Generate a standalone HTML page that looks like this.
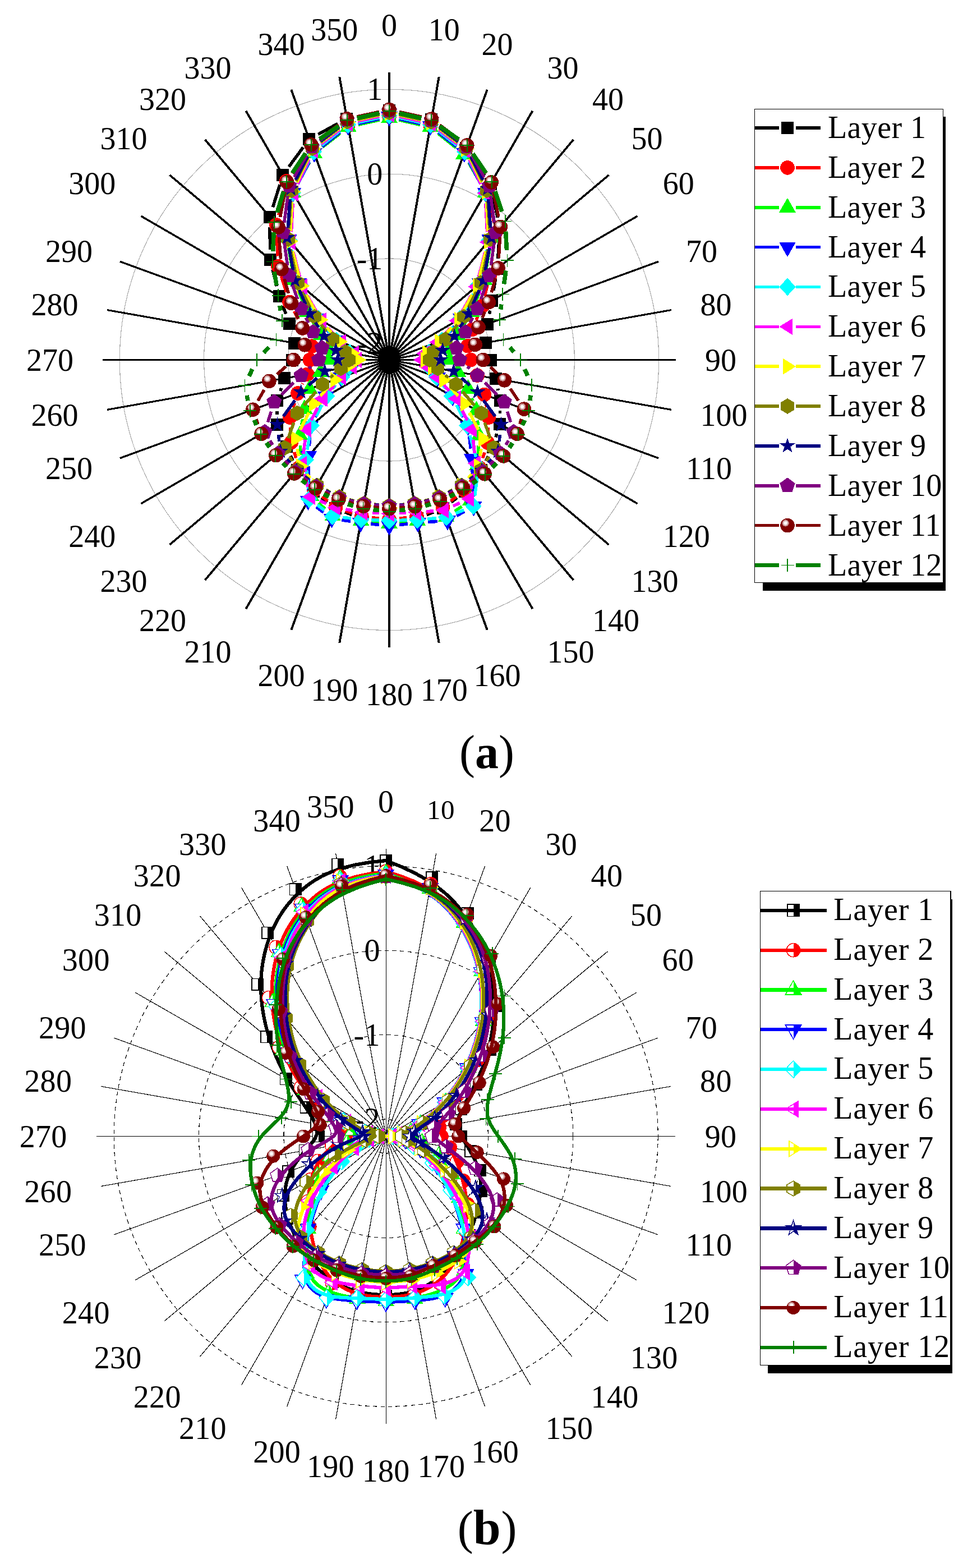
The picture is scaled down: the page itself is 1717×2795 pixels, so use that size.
<!DOCTYPE html>
<html lang="en"><head><meta charset="utf-8"><title>Polar plots</title>
<style>html,body{margin:0;padding:0;background:#fff}body{width:1717px;height:2795px;overflow:hidden}svg{display:block}text{font-family:'Liberation Serif', serif;fill:#000}</style></head><body>
<svg width="1717" height="2795" viewBox="0 0 1717 2795" shape-rendering="crispEdges">
<rect width="1717" height="2795" fill="#fff"/>
<g id="chart-a">
<g fill="none" stroke="#acacac" stroke-width="1.2">
<ellipse cx="694.0" cy="641.45" rx="180.2" ry="180.7"/>
<ellipse cx="694.0" cy="641.45" rx="330.4" ry="331.4"/>
<ellipse cx="694.0" cy="641.45" rx="480.7" ry="482.1"/>
</g>
<g font-size="56" text-anchor="end">
<text x="682.3" y="178.3">1</text>
<text x="682.3" y="329.1">0</text>
<text x="682.3" y="479.8">-1</text>
<text x="682.3" y="630.5">-2</text>
</g>
<g stroke="#000" fill="none">
<path d="M694.0 641.45L694 129" stroke-width="4.00"/>
<path d="M694.0 641.45L782.7 136.8" stroke-width="3.98"/>
<path d="M694.0 641.45L868.7 159.9" stroke-width="3.94"/>
<path d="M694.0 641.45L949.5 197.7" stroke-width="3.87"/>
<path d="M694.0 641.45L1022.4 248.9" stroke-width="3.77"/>
<path d="M694.0 641.45L1085.4 312.1" stroke-width="3.64"/>
<path d="M694.0 641.45L1136.5 385.2" stroke-width="3.50"/>
<path d="M694.0 641.45L1174.1 466.2" stroke-width="3.34"/>
<path d="M694.0 641.45L1197.2 552.5" stroke-width="3.17"/>
<path d="M694.0 641.45L1204.9 641.5" stroke-width="3.00"/>
<path d="M694.0 641.45L1197.2 730.4" stroke-width="3.17"/>
<path d="M694.0 641.45L1174.1 816.7" stroke-width="3.34"/>
<path d="M694.0 641.45L1136.5 897.7" stroke-width="3.50"/>
<path d="M694.0 641.45L1085.4 970.8" stroke-width="3.64"/>
<path d="M694.0 641.45L1022.4 1034" stroke-width="3.77"/>
<path d="M694.0 641.45L949.5 1085.2" stroke-width="3.87"/>
<path d="M694.0 641.45L868.7 1123" stroke-width="3.94"/>
<path d="M694.0 641.45L782.7 1146.1" stroke-width="3.98"/>
<path d="M694.0 641.45L694 1153.9" stroke-width="4.00"/>
<path d="M694.0 641.45L605.3 1146.1" stroke-width="3.98"/>
<path d="M694.0 641.45L519.3 1123" stroke-width="3.94"/>
<path d="M694.0 641.45L438.5 1085.2" stroke-width="3.87"/>
<path d="M694.0 641.45L365.6 1034" stroke-width="3.77"/>
<path d="M694.0 641.45L302.6 970.8" stroke-width="3.64"/>
<path d="M694.0 641.45L251.5 897.7" stroke-width="3.50"/>
<path d="M694.0 641.45L213.9 816.7" stroke-width="3.34"/>
<path d="M694.0 641.45L190.8 730.4" stroke-width="3.17"/>
<path d="M694.0 641.45L183.1 641.5" stroke-width="3.00"/>
<path d="M694.0 641.45L190.8 552.5" stroke-width="3.17"/>
<path d="M694.0 641.45L213.9 466.2" stroke-width="3.34"/>
<path d="M694.0 641.45L251.5 385.2" stroke-width="3.50"/>
<path d="M694.0 641.45L302.6 312.1" stroke-width="3.64"/>
<path d="M694.0 641.45L365.6 248.9" stroke-width="3.77"/>
<path d="M694.0 641.45L438.5 197.7" stroke-width="3.87"/>
<path d="M694.0 641.45L519.3 159.9" stroke-width="3.94"/>
<path d="M694.0 641.45L605.3 136.8" stroke-width="3.98"/>
</g>
<circle cx="694.0" cy="641.45" r="20" fill="#000"/>
<path d="M711.8 200.4L751.5 209.1M783.4 224.6L817 252.2M841.3 278.8L864.3 312.9M878.3 345.7L887.3 388M890 424L887.8 461.1M883.6 497.2L880 517.6M873.6 553.5L872.5 559.6M887.5 692.8L888.2 696M891.6 731.9L891.4 737.3M885.8 773L883.9 779.5M870.7 813.3L866.5 821.7M847.3 852.4L840.2 861.7M814.7 887.3L804.5 895.3M773.1 912.9L760.7 917.6M725.6 926L712.1 927.5M675.9 927.5L662.4 926M627.3 917.6L614.9 912.9M583.5 895.3L573.3 887.3M547.8 861.7L540.7 852.4M522.2 821.3L518.1 812.3M503.5 779L501.3 773.9M494.2 739L494.2 732.6M500 697.1L501.7 691.7M509.7 559.5L504.2 544.8M493.4 510.1L486 480.4M481.5 444.6L481.1 405M486.4 369.4L498.9 329.2M515.1 297.2L540.5 262.7M567.3 239.4L602.4 220.3M636.3 208L676.2 200" stroke="#000000" stroke-width="5.6" fill="none"/>
<polygon points="683,185.5 705,185.5 705,207.5 683,207.5" fill="#000000"/>
<polygon points="758.3,202.1 780.3,202.1 780.3,224.1 758.3,224.1" fill="#000000"/>
<polygon points="820.1,252.7 842.1,252.7 842.1,274.7 820.1,274.7" fill="#000000"/>
<polygon points="863.5,316.9 885.5,316.9 885.5,338.9 863.5,338.9" fill="#000000"/>
<polygon points="880.1,394.8 902.1,394.8 902.1,416.8 880.1,416.8" fill="#000000"/>
<polygon points="875.7,468.3 897.7,468.3 897.7,490.3 875.7,490.3" fill="#000000"/>
<polygon points="865.9,524.5 887.9,524.5 887.9,546.5 865.9,546.5" fill="#000000"/>
<polygon points="858.2,566.5 880.2,566.5 880.2,588.5 858.2,588.5" fill="#000000"/>
<polygon points="854.7,600.1 876.7,600.1 876.7,622.1 854.7,622.1" fill="#000000"/>
<polygon points="864.1,630.5 886.1,630.5 886.1,652.5 864.1,652.5" fill="#000000"/>
<polygon points="872.6,664 894.6,664 894.6,686 872.6,686" fill="#000000"/>
<polygon points="881.1,702.8 903.1,702.8 903.1,724.8 881.1,724.8" fill="#000000"/>
<polygon points="879.9,744.5 901.9,744.5 901.9,766.5 879.9,766.5" fill="#000000"/>
<polygon points="867.8,786 889.8,786 889.8,808 867.8,808" fill="#000000"/>
<polygon points="847.4,826.9 869.4,826.9 869.4,848.9 847.4,848.9" fill="#000000"/>
<polygon points="818.1,865.1 840.1,865.1 840.1,887.1 818.1,887.1" fill="#000000"/>
<polygon points="779.2,895.4 801.2,895.4 801.2,917.4 779.2,917.4" fill="#000000"/>
<polygon points="732.7,913.1 754.7,913.1 754.7,935.1 732.7,935.1" fill="#000000"/>
<polygon points="683,918.5 705,918.5 705,940.5 683,940.5" fill="#000000"/>
<polygon points="633.3,913.1 655.3,913.1 655.3,935.1 633.3,935.1" fill="#000000"/>
<polygon points="586.8,895.4 608.8,895.4 608.8,917.4 586.8,917.4" fill="#000000"/>
<polygon points="547.9,865.1 569.9,865.1 569.9,887.1 547.9,887.1" fill="#000000"/>
<polygon points="518.6,826.9 540.6,826.9 540.6,848.9 518.6,848.9" fill="#000000"/>
<polygon points="499.7,784.7 521.7,784.7 521.7,806.7 499.7,806.7" fill="#000000"/>
<polygon points="483.1,746.2 505.1,746.2 505.1,768.2 483.1,768.2" fill="#000000"/>
<polygon points="483.3,703.4 505.3,703.4 505.3,725.4 483.3,725.4" fill="#000000"/>
<polygon points="496.4,663.4 518.4,663.4 518.4,685.4 496.4,685.4" fill="#000000"/>
<polygon points="509.5,630.5 531.5,630.5 531.5,652.5 509.5,652.5" fill="#000000"/>
<polygon points="513.8,600.5 535.8,600.5 535.8,622.5 513.8,622.5" fill="#000000"/>
<polygon points="505.1,565.5 527.1,565.5 527.1,587.5 505.1,587.5" fill="#000000"/>
<polygon points="486.7,516.8 508.7,516.8 508.7,538.8 486.7,538.8" fill="#000000"/>
<polygon points="470.7,451.8 492.7,451.8 492.7,473.8 470.7,473.8" fill="#000000"/>
<polygon points="470,375.8 492,375.8 492,397.8 470,397.8" fill="#000000"/>
<polygon points="493.3,300.8 515.3,300.8 515.3,322.8 493.3,322.8" fill="#000000"/>
<polygon points="540.3,237.1 562.3,237.1 562.3,259.1 540.3,259.1" fill="#000000"/>
<polygon points="607.4,200.6 629.4,200.6 629.4,222.6 607.4,222.6" fill="#000000"/>
<path d="M711.8 211.4L749.6 219.9M782.2 234.5L814.6 257.8M839.5 283.5L861.9 317.1M874.4 350.3L880.6 397.4M880.7 433.5L875.8 472.3M869.1 508.1L864.2 527.8M852.7 562.2L849.1 570.6M866.9 721.2L867.9 726.2M870.6 762.3L870.2 771M863.9 806.5L860.6 816.6M844.8 849L838.1 859M813.5 885.2L803.7 893M772.2 910.3L760.2 914.6M725 922.7L712.1 924.1M675.9 924.1L663 922.7M627.8 914.6L615.8 910.3M584.3 893L574.5 885.2M549.9 859L543.2 849M527.7 816.5L524.5 805.9M518.3 770.3L517.9 762.1M522.6 726.6L525.4 718.3M539.2 684.7L539.9 683.5M531.3 568.7L524.3 554.7M510.6 521.1L501.4 492.1M495.1 456.5L493.5 419.1M496.8 383.2L506.5 340.5M520.8 307.7L544.6 273.1M571 249.6L604.4 232.1M638.3 219.8L676.2 211.4" stroke="#ff0000" stroke-width="5.6" fill="none"/>
<circle cx="694" cy="207.5" r="12.8" fill="#ff0000"/>
<circle cx="767.4" cy="223.9" r="12.8" fill="#ff0000"/>
<circle cx="829.4" cy="268.4" r="12.8" fill="#ff0000"/>
<circle cx="872" cy="332.3" r="12.8" fill="#ff0000"/>
<circle cx="883.1" cy="415.5" r="12.8" fill="#ff0000"/>
<circle cx="873.5" cy="490.4" r="12.8" fill="#ff0000"/>
<circle cx="859.8" cy="545.5" r="12.8" fill="#ff0000"/>
<circle cx="842" cy="587.4" r="12.8" fill="#ff0000"/>
<circle cx="834.1" cy="616.7" r="12.8" fill="#ff0000"/>
<circle cx="839.5" cy="641.5" r="12.8" fill="#ff0000"/>
<circle cx="851.1" cy="669.2" r="12.8" fill="#ff0000"/>
<circle cx="863.6" cy="703.4" r="12.8" fill="#ff0000"/>
<circle cx="871.3" cy="744.1" r="12.8" fill="#ff0000"/>
<circle cx="869.5" cy="789.2" r="12.8" fill="#ff0000"/>
<circle cx="855" cy="833.9" r="12.8" fill="#ff0000"/>
<circle cx="827.9" cy="874" r="12.8" fill="#ff0000"/>
<circle cx="789.3" cy="904.2" r="12.8" fill="#ff0000"/>
<circle cx="743.1" cy="920.7" r="12.8" fill="#ff0000"/>
<circle cx="694" cy="926.1" r="12.8" fill="#ff0000"/>
<circle cx="644.9" cy="920.7" r="12.8" fill="#ff0000"/>
<circle cx="598.7" cy="904.2" r="12.8" fill="#ff0000"/>
<circle cx="560.1" cy="874" r="12.8" fill="#ff0000"/>
<circle cx="533" cy="833.9" r="12.8" fill="#ff0000"/>
<circle cx="519.3" cy="788.5" r="12.8" fill="#ff0000"/>
<circle cx="517" cy="744" r="12.8" fill="#ff0000"/>
<circle cx="531" cy="701" r="12.8" fill="#ff0000"/>
<circle cx="548.1" cy="667.3" r="12.8" fill="#ff0000"/>
<circle cx="552.4" cy="641.5" r="12.8" fill="#ff0000"/>
<circle cx="556" cy="617.1" r="12.8" fill="#ff0000"/>
<circle cx="539.4" cy="585" r="12.8" fill="#ff0000"/>
<circle cx="516.1" cy="538.5" r="12.8" fill="#ff0000"/>
<circle cx="495.9" cy="474.7" r="12.8" fill="#ff0000"/>
<circle cx="492.8" cy="400.9" r="12.8" fill="#ff0000"/>
<circle cx="510.6" cy="322.8" r="12.8" fill="#ff0000"/>
<circle cx="554.9" cy="258.1" r="12.8" fill="#ff0000"/>
<circle cx="620.6" cy="223.7" r="12.8" fill="#ff0000"/>
<path d="M711.8 214L749.2 222.5M781.1 237.9L812.9 263.4M836.1 290.6L856.9 326.9M868.4 360.7L874.3 405.1M873.5 441.1L866.7 480.8M856.9 515.7L847.5 539.5M831.2 571.9L825.3 581.5M841.1 709.7L842.9 714.5M851.4 749.5L852.4 758.3M853.2 794.6L852.2 811M847.5 847L842.1 874.7M823.5 902.8L810.7 911.3M777.6 923.8L762.4 925.7M726.3 929.8L712.1 931.2M675.9 931.2L661.7 929.8M625.7 925L611 922.6M579.7 907.3L567.8 896.3M548.9 866.6L542.5 846.5M536.2 810.9L535.4 793.8M537.8 757.7L539.7 746.9M562.7 581.5L556.8 571.9M540.5 539.5L531.1 515.7M521.3 480.8L514.5 441.1M513.7 405.1L519.6 360.7M530.9 326.8L551.6 289.5M574.8 262.3L606.7 237.5M638.8 222.3L676.2 214" stroke="#00ff00" stroke-width="5.6" fill="none"/>
<polygon points="694,193.1 708.8,218.9 679.2,218.9" fill="#00ff00"/>
<polygon points="767,209.5 781.8,235.3 752.2,235.3" fill="#00ff00"/>
<polygon points="827.1,257.8 841.9,283.6 812.3,283.6" fill="#00ff00"/>
<polygon points="866,325.7 880.8,351.5 851.2,351.5" fill="#00ff00"/>
<polygon points="876.6,406.1 891.4,431.9 861.8,431.9" fill="#00ff00"/>
<polygon points="863.6,481.8 878.4,507.6 848.8,507.6" fill="#00ff00"/>
<polygon points="840.8,539.5 855.6,565.2 826,565.2" fill="#00ff00"/>
<polygon points="815.8,580 830.6,605.8 801,605.8" fill="#00ff00"/>
<polygon points="802,605.3 816.8,631.1 787.2,631.1" fill="#00ff00"/>
<polygon points="801.7,624.5 816.5,650.2 786.9,650.2" fill="#00ff00"/>
<polygon points="816.7,646.2 831.5,672 801.9,672" fill="#00ff00"/>
<polygon points="834.5,675.8 849.3,701.6 819.7,701.6" fill="#00ff00"/>
<polygon points="849.4,714.5 864.2,740.2 834.6,740.2" fill="#00ff00"/>
<polygon points="854.4,759.4 869.2,785.2 839.6,785.2" fill="#00ff00"/>
<polygon points="851,812.1 865.8,837.9 836.2,837.9" fill="#00ff00"/>
<polygon points="838.6,875.6 853.4,901.4 823.8,901.4" fill="#00ff00"/>
<polygon points="795.6,904.5 810.4,930.3 780.8,930.3" fill="#00ff00"/>
<polygon points="744.4,911 759.2,936.8 729.6,936.8" fill="#00ff00"/>
<polygon points="694,916 708.8,941.8 679.2,941.8" fill="#00ff00"/>
<polygon points="643.6,911 658.4,936.8 628.8,936.8" fill="#00ff00"/>
<polygon points="593.1,902.6 607.9,928.4 578.3,928.4" fill="#00ff00"/>
<polygon points="554.4,866.9 569.2,892.7 539.6,892.7" fill="#00ff00"/>
<polygon points="537,812.1 551.8,837.9 522.2,837.9" fill="#00ff00"/>
<polygon points="534.6,758.6 549.4,784.4 519.8,784.4" fill="#00ff00"/>
<polygon points="542.9,712 557.7,737.8 528.1,737.8" fill="#00ff00"/>
<polygon points="552,676.3 566.8,702.1 537.2,702.1" fill="#00ff00"/>
<polygon points="571.3,646.2 586.1,672 556.5,672" fill="#00ff00"/>
<polygon points="586.3,624.5 601.1,650.2 571.5,650.2" fill="#00ff00"/>
<polygon points="586,605.3 600.8,631.1 571.2,631.1" fill="#00ff00"/>
<polygon points="572.2,580 587,605.8 557.4,605.8" fill="#00ff00"/>
<polygon points="547.2,539.5 562,565.2 532.4,565.2" fill="#00ff00"/>
<polygon points="524.4,481.8 539.2,507.6 509.6,507.6" fill="#00ff00"/>
<polygon points="511.4,406.1 526.2,431.9 496.6,431.9" fill="#00ff00"/>
<polygon points="522,325.7 536.8,351.5 507.2,351.5" fill="#00ff00"/>
<polygon points="560.5,256.6 575.3,282.4 545.7,282.4" fill="#00ff00"/>
<polygon points="621,209.3 635.8,235.1 606.2,235.1" fill="#00ff00"/>
<path d="M711.8 212L749.5 220.5M781.5 235.8L813.6 261.3M836.4 288.7L857 327.5M867.2 361.7L871.7 408.8M869.5 444.7L859.9 487.4M847.2 521.1L830.5 551.5M810.2 581.5L801.1 592.5M791.5 687.2L795.8 692.7M815.5 723.1L826.1 743.6M836.7 777.8L839.3 799.6M842.1 835.8L843.9 884.8M828.5 911.6L814 919.4M779.9 929.4L763.2 930.6M727 933.9L712.1 935.5M675.9 935.5L661 933.9M624.9 929.3L609.4 927M576.8 913.3L564 903.6M549.7 874.4L550.2 831.2M551.5 794.9L552.4 777.9M561.9 743.6L572.5 723.1M592.2 692.7L596.5 687.2M586.9 592.5L577.8 581.5M557.5 551.5L540.8 521.1M528.1 487.4L518.5 444.7M516.3 408.8L520.8 361.7M531 327.5L551.6 288.7M574.4 261.3L606.4 235.6M638.4 220.4L676.2 212" stroke="#0000ff" stroke-width="5.6" fill="none"/>
<polygon points="694,225.5 679.2,199.3 708.8,199.3" fill="#0000ff"/>
<polygon points="767.3,241.9 752.5,215.7 782.1,215.7" fill="#0000ff"/>
<polygon points="827.8,290 813,263.8 842.6,263.8" fill="#0000ff"/>
<polygon points="865.5,360.9 850.7,334.7 880.3,334.7" fill="#0000ff"/>
<polygon points="873.4,444.4 858.6,418.2 888.2,418.2" fill="#0000ff"/>
<polygon points="855.9,522.6 841.1,496.4 870.7,496.4" fill="#0000ff"/>
<polygon points="821.8,584.9 807,558.7 836.6,558.7" fill="#0000ff"/>
<polygon points="789.6,624 774.8,597.8 804.4,597.8" fill="#0000ff"/>
<polygon points="766.7,646 751.9,619.8 781.5,619.8" fill="#0000ff"/>
<polygon points="761.8,658.9 747,632.7 776.6,632.7" fill="#0000ff"/>
<polygon points="766.7,671.7 751.9,645.5 781.5,645.5" fill="#0000ff"/>
<polygon points="780.2,690.3 765.4,664.1 795,664.1" fill="#0000ff"/>
<polygon points="807.1,724.4 792.3,698.2 821.9,698.2" fill="#0000ff"/>
<polygon points="834.5,777.1 819.7,750.9 849.3,750.9" fill="#0000ff"/>
<polygon points="841.4,835 826.6,808.8 856.2,808.8" fill="#0000ff"/>
<polygon points="844.5,920.4 829.7,894.2 859.3,894.2" fill="#0000ff"/>
<polygon points="798,945.5 783.2,919.3 812.8,919.3" fill="#0000ff"/>
<polygon points="745.1,949.4 730.3,923.2 759.9,923.2" fill="#0000ff"/>
<polygon points="694,954.9 679.2,928.7 708.8,928.7" fill="#0000ff"/>
<polygon points="642.9,949.4 628.1,923.2 657.7,923.2" fill="#0000ff"/>
<polygon points="591.4,941.7 576.6,915.5 606.2,915.5" fill="#0000ff"/>
<polygon points="549.4,910 534.6,883.8 564.2,883.8" fill="#0000ff"/>
<polygon points="550.4,830.4 535.6,804.2 565.2,804.2" fill="#0000ff"/>
<polygon points="553.5,777.1 538.7,750.9 568.3,750.9" fill="#0000ff"/>
<polygon points="580.9,724.4 566.1,698.2 595.7,698.2" fill="#0000ff"/>
<polygon points="607.8,690.3 593,664.1 622.6,664.1" fill="#0000ff"/>
<polygon points="621.3,671.7 606.5,645.5 636.1,645.5" fill="#0000ff"/>
<polygon points="626.2,658.9 611.4,632.7 641,632.7" fill="#0000ff"/>
<polygon points="621.3,646 606.5,619.8 636.1,619.8" fill="#0000ff"/>
<polygon points="598.4,624 583.6,597.8 613.2,597.8" fill="#0000ff"/>
<polygon points="566.2,584.9 551.4,558.7 581,558.7" fill="#0000ff"/>
<polygon points="532.1,522.6 517.3,496.4 546.9,496.4" fill="#0000ff"/>
<polygon points="514.6,444.4 499.8,418.2 529.4,418.2" fill="#0000ff"/>
<polygon points="522.5,360.9 507.7,334.7 537.3,334.7" fill="#0000ff"/>
<polygon points="560.2,290 545.4,263.8 575,263.8" fill="#0000ff"/>
<polygon points="620.7,241.7 605.9,215.5 635.5,215.5" fill="#0000ff"/>
<path d="M711.8 209.9L749.9 218.4M782 233.7L814.4 259.1M836.8 286.6L857.3 327.3M866.9 361.7L870.7 410.3M867.9 446.2L857.2 490.1M844.2 523.8L828.7 552.4M808.4 582.4L799.3 593.3M789.7 686.4L794 691.8M813.9 722.1L824.5 742.3M837.9 776L848.7 814.7M851.1 850.2L846.5 884.1M827.2 909L812.6 915M777.7 923.6L762.3 925M725.9 927.1L712.2 927.4M675.8 927.2L662.2 926.7M625.9 924L610.9 922.3M578.2 909.4L565.9 900.3M549.6 871.4L546.6 837.7M547.9 801.6L552.1 776.4M563.5 742.3L574.1 722.1M594 691.8L598.3 686.4M588.7 593.3L579.6 582.4M559.3 552.4L543.8 523.8M530.8 490.1L520.1 446.2M517.3 410.3L521.1 361.7M530.7 327.3L551.2 286.6M573.6 259.1L606 233.5M638.1 218.3L676.2 209.9" stroke="#00ffff" stroke-width="5.6" fill="none"/>
<polygon points="694,190.2 708.8,206 694,221.8 679.2,206" fill="#00ffff"/>
<polygon points="767.7,206.6 782.5,222.4 767.7,238.2 752.9,222.4" fill="#00ffff"/>
<polygon points="828.7,254.5 843.5,270.3 828.7,286.1 813.9,270.3" fill="#00ffff"/>
<polygon points="865.5,327.7 880.3,343.5 865.5,359.3 850.7,343.5" fill="#00ffff"/>
<polygon points="872.2,412.7 887,428.5 872.2,444.3 857.4,428.5" fill="#00ffff"/>
<polygon points="852.9,492 867.7,507.8 852.9,523.6 838.1,507.8" fill="#00ffff"/>
<polygon points="820.1,552.7 834.9,568.5 820.1,584.2 805.3,568.5" fill="#00ffff"/>
<polygon points="787.7,591.4 802.5,607.2 787.7,623 772.9,607.2" fill="#00ffff"/>
<polygon points="764.7,613.1 779.5,628.9 764.7,644.7 749.9,628.9" fill="#00ffff"/>
<polygon points="759.8,625.7 774.6,641.5 759.8,657.2 745,641.5" fill="#00ffff"/>
<polygon points="764.7,638.2 779.5,654 764.7,669.8 749.9,654" fill="#00ffff"/>
<polygon points="778.3,656.4 793.1,672.2 778.3,688 763.5,672.2" fill="#00ffff"/>
<polygon points="805.4,690.2 820.2,706 805.4,721.8 790.6,706" fill="#00ffff"/>
<polygon points="833,742.6 847.8,758.4 833,774.2 818.2,758.4" fill="#00ffff"/>
<polygon points="853.6,816.4 868.4,832.2 853.6,848 838.8,832.2" fill="#00ffff"/>
<polygon points="844,886.3 858.8,902.1 844,917.9 829.2,902.1" fill="#00ffff"/>
<polygon points="795.8,906.1 810.6,921.9 795.8,937.7 781,921.9" fill="#00ffff"/>
<polygon points="744.1,910.9 758.9,926.7 744.1,942.5 729.3,926.7" fill="#00ffff"/>
<polygon points="694,912.1 708.8,927.9 694,943.6 679.2,927.9" fill="#00ffff"/>
<polygon points="644,910.3 658.8,926.1 644,941.9 629.2,926.1" fill="#00ffff"/>
<polygon points="592.8,904.5 607.6,920.3 592.8,936.1 578,920.3" fill="#00ffff"/>
<polygon points="551.2,873.7 566,889.5 551.2,905.3 536.4,889.5" fill="#00ffff"/>
<polygon points="545,803.8 559.8,819.6 545,835.4 530.2,819.6" fill="#00ffff"/>
<polygon points="555,742.6 569.8,758.4 555,774.2 540.2,758.4" fill="#00ffff"/>
<polygon points="582.6,690.2 597.4,706 582.6,721.8 567.8,706" fill="#00ffff"/>
<polygon points="609.7,656.4 624.5,672.2 609.7,688 594.9,672.2" fill="#00ffff"/>
<polygon points="623.3,638.2 638.1,654 623.3,669.8 608.5,654" fill="#00ffff"/>
<polygon points="628.2,625.7 643,641.5 628.2,657.2 613.4,641.5" fill="#00ffff"/>
<polygon points="623.3,613.1 638.1,628.9 623.3,644.7 608.5,628.9" fill="#00ffff"/>
<polygon points="600.3,591.4 615.1,607.2 600.3,623 585.5,607.2" fill="#00ffff"/>
<polygon points="567.9,552.7 582.7,568.5 567.9,584.2 553.1,568.5" fill="#00ffff"/>
<polygon points="535.1,492 549.9,507.8 535.1,523.6 520.3,507.8" fill="#00ffff"/>
<polygon points="515.8,412.7 530.6,428.5 515.8,444.3 501,428.5" fill="#00ffff"/>
<polygon points="522.5,327.7 537.3,343.5 522.5,359.3 507.7,343.5" fill="#00ffff"/>
<polygon points="559.3,254.5 574.1,270.3 559.3,286.1 544.5,270.3" fill="#00ffff"/>
<polygon points="620.3,206.4 635.1,222.2 620.3,238 605.5,222.2" fill="#00ffff"/>
<path d="M711.8 207.7L750.3 216.3M782.4 231.4L815.2 256.8M837.2 284.5L857.3 327.9M865.9 362.6L868.6 413.4M865 449.2L853.6 493.3M840.1 526.8L823.8 555.6M802.7 585L792.4 596.5M791.4 686.1L801 696.9M821.5 726.6L833.1 749.3M843.5 783.6L846.3 808M845.1 844L839.9 871.2M819.9 896.5L807.8 901.9M773 910.7L759.9 911.8M723.6 914.1L712.2 914.6M675.8 914.6L664.4 914.1M628.3 910L616.4 907.8M581.7 897.5L570.2 892.7M548.9 868L543 844.9M540.9 809.2L544.2 783.6M554.9 749.3L566.5 726.6M587 696.9L596.6 686.1M595.6 596.5L585.3 585M564.2 555.6L547.9 526.8M534.4 493.3L523 449.2M519.4 413.4L522.1 362.6M530.7 327.9L550.8 284.5M572.8 256.8L605.6 231.2M637.7 216.1L676.2 207.7" stroke="#ff00ff" stroke-width="5.6" fill="none"/>
<polygon points="679.4,203.8 702.7,189.3 702.7,218.3" fill="#ff00ff"/>
<polygon points="753.4,220.2 776.7,205.7 776.7,234.7" fill="#ff00ff"/>
<polygon points="814.9,268 838.2,253.5 838.2,282.5" fill="#ff00ff"/>
<polygon points="850.4,344.4 873.7,329.9 873.7,358.9" fill="#ff00ff"/>
<polygon points="855,431.6 878.3,417.1 878.3,446.1" fill="#ff00ff"/>
<polygon points="834.4,511 857.7,496.5 857.7,525.5" fill="#ff00ff"/>
<polygon points="800.3,571.5 823.6,557 823.6,586" fill="#ff00ff"/>
<polygon points="765.6,610 788.9,595.5 788.9,624.5" fill="#ff00ff"/>
<polygon points="742.2,630.3 765.5,615.8 765.5,644.8" fill="#ff00ff"/>
<polygon points="737.2,641.5 760.5,627 760.5,656" fill="#ff00ff"/>
<polygon points="746.2,653.3 769.5,638.8 769.5,667.8" fill="#ff00ff"/>
<polygon points="764.7,672.6 788,658.1 788,687.1" fill="#ff00ff"/>
<polygon points="798.6,710.5 821.9,696 821.9,725" fill="#ff00ff"/>
<polygon points="826.8,765.5 850.1,751 850.1,780" fill="#ff00ff"/>
<polygon points="833.8,826.1 857.1,811.6 857.1,840.6" fill="#ff00ff"/>
<polygon points="822,889.1 845.3,874.6 845.3,903.6" fill="#ff00ff"/>
<polygon points="776.6,909.3 799.9,894.8 799.9,923.8" fill="#ff00ff"/>
<polygon points="727.2,913.3 750.5,898.8 750.5,927.8" fill="#ff00ff"/>
<polygon points="679.4,915.5 702.7,901 702.7,930" fill="#ff00ff"/>
<polygon points="631.6,913.3 654.9,898.8 654.9,927.8" fill="#ff00ff"/>
<polygon points="583.9,904.6 607.2,890.1 607.2,919.1" fill="#ff00ff"/>
<polygon points="538.8,885.7 562.1,871.2 562.1,900.2" fill="#ff00ff"/>
<polygon points="523.9,827.3 547.2,812.8 547.2,841.8" fill="#ff00ff"/>
<polygon points="532,765.5 555.3,751 555.3,780" fill="#ff00ff"/>
<polygon points="560.2,710.5 583.5,696 583.5,725" fill="#ff00ff"/>
<polygon points="594.1,672.6 617.4,658.1 617.4,687.1" fill="#ff00ff"/>
<polygon points="612.6,653.3 635.9,638.8 635.9,667.8" fill="#ff00ff"/>
<polygon points="621.6,641.5 644.9,627 644.9,656" fill="#ff00ff"/>
<polygon points="616.6,630.3 639.9,615.8 639.9,644.8" fill="#ff00ff"/>
<polygon points="593.2,610 616.5,595.5 616.5,624.5" fill="#ff00ff"/>
<polygon points="558.5,571.5 581.8,557 581.8,586" fill="#ff00ff"/>
<polygon points="524.4,511 547.7,496.5 547.7,525.5" fill="#ff00ff"/>
<polygon points="503.8,431.6 527.1,417.1 527.1,446.1" fill="#ff00ff"/>
<polygon points="508.4,344.4 531.7,329.9 531.7,358.9" fill="#ff00ff"/>
<polygon points="543.9,268 567.2,253.5 567.2,282.5" fill="#ff00ff"/>
<polygon points="605.3,220.1 628.6,205.6 628.6,234.6" fill="#ff00ff"/>
<path d="M711.8 205.4L750.7 214M782.9 229.1L816 254.4M838.2 281.9L858.7 325.3M867.4 360L870 411.8M866.4 447.7L855.1 492M841.8 525.6L826.2 554M805.4 583.6L795.1 595.3M803.4 690.7L816.7 705.8M837.1 735.6L852.9 766.1M858 800.1L855.7 813M840.9 845L835 852.2M807.4 874.8L799.4 879.1M766 893.1L757.1 896M721.6 903L712.1 903.9M675.9 903.9L666.4 903M630.9 896L622 893.1M588.6 879.1L580.6 874.8M553 852.2L547.1 845M532.3 813L530 800.1M535.1 766.1L550.9 735.6M571.3 705.8L584.6 690.7M592.9 595.3L582.6 583.6M561.8 554L546.2 525.6M532.9 492L521.6 447.7M518 411.8L520.6 360M529.3 325.3L549.8 281.9M572 254.4L605.1 228.9M637.3 213.9L676.2 205.3" stroke="#ffff00" stroke-width="5.6" fill="none"/>
<polygon points="709.2,201.5 686,216 686,187" fill="#ffff00"/>
<polygon points="783.6,218 760.4,232.5 760.4,203.5" fill="#ffff00"/>
<polygon points="845.6,265.5 822.4,280 822.4,251" fill="#ffff00"/>
<polygon points="881.7,341.8 858.5,356.3 858.5,327.3" fill="#ffff00"/>
<polygon points="886.1,430 862.9,444.5 862.9,415.5" fill="#ffff00"/>
<polygon points="865.8,509.7 842.6,524.2 842.6,495.2" fill="#ffff00"/>
<polygon points="832.7,570 809.5,584.5 809.5,555.5" fill="#ffff00"/>
<polygon points="798.2,609 775,623.5 775,594.5" fill="#ffff00"/>
<polygon points="776,629.6 752.8,644.1 752.8,615.1" fill="#ffff00"/>
<polygon points="773,641.5 749.8,656 749.8,627" fill="#ffff00"/>
<polygon points="785.8,655 762.6,669.5 762.6,640.5" fill="#ffff00"/>
<polygon points="806.6,677 783.4,691.5 783.4,662.5" fill="#ffff00"/>
<polygon points="843.9,719.5 820.7,734 820.7,705" fill="#ffff00"/>
<polygon points="876.5,782.2 853.3,796.7 853.3,767.7" fill="#ffff00"/>
<polygon points="867.7,830.9 844.5,845.4 844.5,816.4" fill="#ffff00"/>
<polygon points="838.6,866.3 815.4,880.8 815.4,851.8" fill="#ffff00"/>
<polygon points="798.5,887.6 775.3,902.1 775.3,873.1" fill="#ffff00"/>
<polygon points="754.9,901.4 731.7,915.9 731.7,886.9" fill="#ffff00"/>
<polygon points="709.2,905.5 686,920 686,891" fill="#ffff00"/>
<polygon points="663.5,901.4 640.3,915.9 640.3,886.9" fill="#ffff00"/>
<polygon points="619.9,887.6 596.7,902.1 596.7,873.1" fill="#ffff00"/>
<polygon points="579.8,866.3 556.6,880.8 556.6,851.8" fill="#ffff00"/>
<polygon points="550.7,830.9 527.5,845.4 527.5,816.4" fill="#ffff00"/>
<polygon points="541.9,782.2 518.7,796.7 518.7,767.7" fill="#ffff00"/>
<polygon points="574.5,719.5 551.3,734 551.3,705" fill="#ffff00"/>
<polygon points="611.8,677 588.6,691.5 588.6,662.5" fill="#ffff00"/>
<polygon points="632.6,655 609.4,669.5 609.4,640.5" fill="#ffff00"/>
<polygon points="653.4,641.5 630.2,656 630.2,627" fill="#ffff00"/>
<polygon points="642.4,629.6 619.2,644.1 619.2,615.1" fill="#ffff00"/>
<polygon points="620.2,609 597,623.5 597,594.5" fill="#ffff00"/>
<polygon points="585.7,570 562.5,584.5 562.5,555.5" fill="#ffff00"/>
<polygon points="552.6,509.7 529.4,524.2 529.4,495.2" fill="#ffff00"/>
<polygon points="532.3,430 509.1,444.5 509.1,415.5" fill="#ffff00"/>
<polygon points="536.7,341.8 513.5,356.3 513.5,327.3" fill="#ffff00"/>
<polygon points="572.8,265.5 549.6,280 549.6,251" fill="#ffff00"/>
<polygon points="634.7,217.8 611.5,232.3 611.5,203.3" fill="#ffff00"/>
<path d="M711.8 204.4L750.8 213.1M783.1 228L816.3 253.4M838.9 280.7L859.9 322.9M869.3 357.4L872.8 408M870.3 444L861.3 486.1M849.3 520.2L835.1 548.2M815.6 578.7L806.1 590.5M794.2 668.6L799.2 673M825 698.6L846.1 722.7M864.2 753.6L874.2 781.2M871.4 814.2L867.1 821.8M843.8 848.9L837.2 854.1M806.6 873.5L798.9 877.5M765.1 890.5L756.6 892.8M720.9 899.1L712.1 899.9M675.9 899.9L667.1 899.1M631.4 892.8L622.9 890.5M589.1 877.5L581.4 873.5M550.8 854.1L544.2 848.9M520.9 821.8L516.6 814.2M513.8 781.2L523.8 753.6M541.9 722.7L563 698.6M588.8 673L593.8 668.6M581.9 590.5L572.4 578.7M552.9 548.2L538.7 520.2M526.7 486.1L517.7 444M515.2 408L518.7 357.4M528.1 322.9L549.1 280.7M571.6 253.3L604.9 227.9M637.1 212.9L676.2 204.3" stroke="#808000" stroke-width="5.6" fill="none"/>
<polygon points="694,186.7 706,193.6 706,207.4 694,214.3 682,207.4 682,193.6" fill="#808000"/>
<polygon points="768.6,203.2 780.6,210.1 780.6,223.9 768.6,230.8 756.7,223.9 756.7,210.1" fill="#808000"/>
<polygon points="830.8,250.6 842.8,257.5 842.8,271.3 830.8,278.2 818.9,271.3 818.9,257.5" fill="#808000"/>
<polygon points="868,325.4 879.9,332.3 879.9,346.1 868,353 856,346.1 856,332.3" fill="#808000"/>
<polygon points="874.1,412.4 886,419.3 886,433.1 874.1,440 862.1,433.1 862.1,419.3" fill="#808000"/>
<polygon points="857.4,490.1 869.4,497 869.4,510.8 857.4,517.7 845.5,510.8 845.5,497" fill="#808000"/>
<polygon points="827,550.7 838.9,557.6 838.9,571.4 827,578.2 815,571.4 815,557.6" fill="#808000"/>
<polygon points="794.7,590.9 806.7,597.8 806.7,611.6 794.7,618.5 782.8,611.6 782.8,597.8" fill="#808000"/>
<polygon points="772.5,613.8 784.5,620.7 784.5,634.5 772.5,641.4 760.6,634.5 760.6,620.7" fill="#808000"/>
<polygon points="765.8,627.7 777.7,634.6 777.7,648.4 765.8,655.2 753.8,648.4 753.8,634.6" fill="#808000"/>
<polygon points="780.4,642.9 792.4,649.8 792.4,663.6 780.4,670.5 768.5,663.6 768.5,649.8" fill="#808000"/>
<polygon points="813,671.1 824.9,678 824.9,691.8 813,698.7 801,691.8 801,678" fill="#808000"/>
<polygon points="858.1,722.7 870,729.6 870,743.4 858.1,750.2 846.1,743.4 846.1,729.6" fill="#808000"/>
<polygon points="880.4,784.5 892.3,791.4 892.3,805.2 880.4,812.1 868.4,805.2 868.4,791.4" fill="#808000"/>
<polygon points="858.2,823.9 870.1,830.8 870.1,844.6 858.2,851.5 846.2,844.6 846.2,830.8" fill="#808000"/>
<polygon points="822.8,851.4 834.8,858.3 834.8,872.1 822.8,879 810.9,872.1 810.9,858.3" fill="#808000"/>
<polygon points="782.7,872 794.6,878.9 794.6,892.7 782.7,899.6 770.7,892.7 770.7,878.9" fill="#808000"/>
<polygon points="739,883.7 751,890.6 751,904.4 739,911.3 727.1,904.4 727.1,890.6" fill="#808000"/>
<polygon points="694,887.7 706,894.6 706,908.4 694,915.2 682,908.4 682,894.6" fill="#808000"/>
<polygon points="649,883.7 660.9,890.6 660.9,904.4 649,911.3 637,904.4 637,890.6" fill="#808000"/>
<polygon points="605.3,872 617.3,878.9 617.3,892.7 605.3,899.6 593.4,892.7 593.4,878.9" fill="#808000"/>
<polygon points="565.2,851.4 577.1,858.3 577.1,872.1 565.2,879 553.2,872.1 553.2,858.3" fill="#808000"/>
<polygon points="529.8,823.9 541.8,830.8 541.8,844.6 529.8,851.5 517.9,844.6 517.9,830.8" fill="#808000"/>
<polygon points="507.6,784.5 519.6,791.4 519.6,805.2 507.6,812.1 495.7,805.2 495.7,791.4" fill="#808000"/>
<polygon points="529.9,722.7 541.9,729.6 541.9,743.4 529.9,750.3 518,743.4 518,729.6" fill="#808000"/>
<polygon points="575,671.1 587,678 587,691.8 575,698.7 563.1,691.8 563.1,678" fill="#808000"/>
<polygon points="607.6,642.9 619.5,649.8 619.5,663.6 607.6,670.5 595.6,663.6 595.6,649.8" fill="#808000"/>
<polygon points="622.2,627.7 634.2,634.6 634.2,648.4 622.2,655.2 610.3,648.4 610.3,634.6" fill="#808000"/>
<polygon points="615.5,613.8 627.4,620.7 627.4,634.5 615.5,641.4 603.5,634.5 603.5,620.7" fill="#808000"/>
<polygon points="593.3,590.9 605.2,597.8 605.2,611.6 593.3,618.5 581.3,611.6 581.3,597.8" fill="#808000"/>
<polygon points="561,550.7 573,557.6 573,571.4 561,578.2 549.1,571.4 549.1,557.6" fill="#808000"/>
<polygon points="530.6,490.1 542.5,497 542.5,510.8 530.6,517.7 518.6,510.8 518.6,497" fill="#808000"/>
<polygon points="513.9,412.4 525.9,419.3 525.9,433.1 513.9,440 502,433.1 502,419.3" fill="#808000"/>
<polygon points="520,325.4 532,332.3 532,346.1 520,353 508.1,346.1 508.1,332.3" fill="#808000"/>
<polygon points="557.2,250.6 569.1,257.5 569.1,271.3 557.2,278.2 545.2,271.3 545.2,257.5" fill="#808000"/>
<polygon points="619.3,203 631.3,209.9 631.3,223.7 619.3,230.6 607.4,223.7 607.4,209.9" fill="#808000"/>
<path d="M711.8 202.9L751.1 211.6M783.4 226.5L816.9 251.8M839.8 279L861.1 320.4M870.8 354.8L874.6 405.7M872.7 441.8L865.3 482.1M854.6 516.7L843 542.8M825.8 574.8L820 583.7M822.6 673.7L837.7 686.9M862.1 713.6L882.8 742.2M891.4 775L890.1 786.6M876.2 818.6L870.9 824.9M844.6 849.8L837.8 855M807.2 874.5L799.3 878.7M765.5 891.5L756.8 893.7M721 899.6L712.1 900.4M675.9 900.4L667 899.6M631.2 893.7L622.5 891.5M588.7 878.7L580.8 874.5M550.2 855L543.4 849.8M517.1 824.9L511.8 818.6M497.9 786.6L496.6 775M505.2 742.2L525.9 713.6M550.3 686.9L565.4 673.7M568 583.7L562.2 574.8M545 542.8L533.4 516.7M522.7 482.1L515.3 441.8M513.4 405.7L517.2 354.8M526.9 320.4L548.2 279M571.1 251.8L604.6 226.3M636.9 211.4L676.2 202.8" stroke="#000080" stroke-width="5.6" fill="none"/>
<polygon points="694,184.6 697.3,194.4 707.7,194.5 699.3,200.7 702.5,210.6 694,204.6 685.5,210.6 688.7,200.7 680.3,194.5 690.7,194.4" fill="#000080"/>
<polygon points="768.9,201.1 772.2,211 782.6,211.1 774.2,217.3 777.3,227.2 768.9,221.1 760.4,227.2 763.6,217.3 755.2,211.1 765.6,211" fill="#000080"/>
<polygon points="831.4,248.4 834.7,258.2 845.1,258.3 836.7,264.5 839.9,274.4 831.4,268.4 822.9,274.4 826.1,264.5 817.7,258.3 828.1,258.2" fill="#000080"/>
<polygon points="869.5,322.2 872.8,332.1 883.2,332.2 874.8,338.3 877.9,348.3 869.5,342.2 861,348.3 864.1,338.3 855.8,332.2 866.2,332.1" fill="#000080"/>
<polygon points="876,409.5 879.3,419.4 889.7,419.4 881.3,425.6 884.5,435.5 876,429.5 867.5,435.5 870.7,425.6 862.3,419.4 872.7,419.4" fill="#000080"/>
<polygon points="862,485.6 865.3,495.5 875.7,495.6 867.4,501.8 870.5,511.7 862,505.6 853.6,511.7 856.7,501.8 848.3,495.6 858.7,495.5" fill="#000080"/>
<polygon points="835.6,545.1 838.9,554.9 849.3,555 840.9,561.2 844.1,571.1 835.6,565.1 827.1,571.1 830.3,561.2 821.9,555 832.3,554.9" fill="#000080"/>
<polygon points="810.2,584.6 813.5,594.5 823.9,594.6 815.5,600.8 818.6,610.7 810.2,604.6 801.7,610.7 804.8,600.8 796.5,594.6 806.9,594.5" fill="#000080"/>
<polygon points="789.2,610.2 792.5,620.1 802.9,620.2 794.6,626.3 797.7,636.3 789.2,630.2 780.8,636.3 783.9,626.3 775.5,620.2 785.9,620.1" fill="#000080"/>
<polygon points="785.7,627.1 789,636.9 799.4,637 791,643.2 794.2,653.1 785.7,647.1 777.3,653.1 780.4,643.2 772,637 782.4,636.9" fill="#000080"/>
<polygon points="808.9,647.4 812.2,657.2 822.6,657.3 814.2,663.5 817.3,673.4 808.9,667.4 800.4,673.4 803.6,663.5 795.2,657.3 805.6,657.2" fill="#000080"/>
<polygon points="851.4,684.5 854.7,694.4 865.1,694.5 856.7,700.6 859.9,710.6 851.4,704.5 842.9,710.6 846.1,700.6 837.7,694.5 848.1,694.4" fill="#000080"/>
<polygon points="893.5,742.6 896.7,752.4 907.1,752.5 898.8,758.7 901.9,768.6 893.5,762.6 885,768.6 888.1,758.7 879.8,752.5 890.2,752.4" fill="#000080"/>
<polygon points="888,790.3 891.3,800.2 901.7,800.3 893.3,806.4 896.5,816.4 888,810.3 879.5,816.4 882.7,806.4 874.3,800.3 884.7,800.2" fill="#000080"/>
<polygon points="859.1,824.4 862.4,834.3 872.8,834.4 864.4,840.6 867.6,850.5 859.1,844.4 850.7,850.5 853.8,840.6 845.4,834.4 855.8,834.3" fill="#000080"/>
<polygon points="823.3,851.6 826.6,861.5 837,861.6 828.6,867.7 831.7,877.7 823.3,871.6 814.8,877.7 817.9,867.7 809.6,861.6 820,861.5" fill="#000080"/>
<polygon points="783.2,872.8 786.5,882.6 796.9,882.7 788.5,888.9 791.6,898.8 783.2,892.8 774.7,898.8 777.8,888.9 769.5,882.7 779.9,882.6" fill="#000080"/>
<polygon points="739.1,883.6 742.4,893.5 752.8,893.5 744.4,899.7 747.6,909.6 739.1,903.6 730.6,909.6 733.8,899.7 725.4,893.5 735.8,893.5" fill="#000080"/>
<polygon points="694,887.6 697.3,897.4 707.7,897.5 699.3,903.7 702.5,913.6 694,907.6 685.5,913.6 688.7,903.7 680.3,897.5 690.7,897.4" fill="#000080"/>
<polygon points="648.9,883.6 652.2,893.5 662.6,893.5 654.2,899.7 657.4,909.6 648.9,903.6 640.4,909.6 643.6,899.7 635.2,893.5 645.6,893.5" fill="#000080"/>
<polygon points="604.8,872.8 608.1,882.6 618.5,882.7 610.2,888.9 613.3,898.8 604.8,892.8 596.4,898.8 599.5,888.9 591.1,882.7 601.5,882.6" fill="#000080"/>
<polygon points="564.7,851.6 568,861.5 578.4,861.6 570.1,867.7 573.2,877.7 564.7,871.6 556.3,877.7 559.4,867.7 551,861.6 561.4,861.5" fill="#000080"/>
<polygon points="528.9,824.4 532.2,834.3 542.6,834.4 534.2,840.6 537.3,850.5 528.9,844.4 520.4,850.5 523.6,840.6 515.2,834.4 525.6,834.3" fill="#000080"/>
<polygon points="500,790.3 503.3,800.2 513.7,800.3 505.3,806.4 508.5,816.4 500,810.3 491.5,816.4 494.7,806.4 486.3,800.3 496.7,800.2" fill="#000080"/>
<polygon points="494.5,742.6 497.8,752.4 508.2,752.5 499.9,758.7 503,768.6 494.5,762.6 486.1,768.6 489.2,758.7 480.9,752.5 491.3,752.4" fill="#000080"/>
<polygon points="536.6,684.5 539.9,694.4 550.3,694.5 541.9,700.6 545.1,710.6 536.6,704.5 528.1,710.6 531.3,700.6 522.9,694.5 533.3,694.4" fill="#000080"/>
<polygon points="579.1,647.4 582.4,657.2 592.8,657.3 584.4,663.5 587.6,673.4 579.1,667.4 570.7,673.4 573.8,663.5 565.4,657.3 575.8,657.2" fill="#000080"/>
<polygon points="602.3,627.1 605.6,636.9 616,637 607.6,643.2 610.7,653.1 602.3,647.1 593.8,653.1 597,643.2 588.6,637 599,636.9" fill="#000080"/>
<polygon points="598.8,610.2 602.1,620.1 612.5,620.2 604.1,626.3 607.2,636.3 598.8,630.2 590.3,636.3 593.4,626.3 585.1,620.2 595.5,620.1" fill="#000080"/>
<polygon points="577.8,584.6 581.1,594.5 591.5,594.6 583.2,600.8 586.3,610.7 577.8,604.6 569.4,610.7 572.5,600.8 564.1,594.6 574.5,594.5" fill="#000080"/>
<polygon points="552.4,545.1 555.7,554.9 566.1,555 557.7,561.2 560.9,571.1 552.4,565.1 543.9,571.1 547.1,561.2 538.7,555 549.1,554.9" fill="#000080"/>
<polygon points="526,485.6 529.3,495.5 539.7,495.6 531.3,501.8 534.4,511.7 526,505.6 517.5,511.7 520.6,501.8 512.3,495.6 522.7,495.5" fill="#000080"/>
<polygon points="512,409.5 515.3,419.4 525.7,419.4 517.3,425.6 520.5,435.5 512,429.5 503.5,435.5 506.7,425.6 498.3,419.4 508.7,419.4" fill="#000080"/>
<polygon points="518.5,322.2 521.8,332.1 532.2,332.2 523.9,338.3 527,348.3 518.5,342.2 510.1,348.3 513.2,338.3 504.8,332.2 515.2,332.1" fill="#000080"/>
<polygon points="556.6,248.4 559.9,258.2 570.3,258.3 561.9,264.5 565.1,274.4 556.6,268.4 548.1,274.4 551.3,264.5 542.9,258.3 553.3,258.2" fill="#000080"/>
<polygon points="619.1,200.9 622.4,210.8 632.8,210.9 624.4,217.1 627.6,227 619.1,220.9 610.6,227 613.8,217.1 605.4,210.9 615.8,210.8" fill="#000080"/>
<path d="M711.8 201.4L751.4 210.1M783.7 225L817.4 250.2M841.1 276.9L863.4 315.6M874.9 349.4L881.3 396.7M881.1 432.7L875.3 473M866.5 508.1L857.4 533.3M842.8 566.6L838.2 575.7M833.3 653.5L837.5 657.2M864.1 682L886.2 703.6M904.6 733.7L910.5 752.6M906.5 785.5L902 793M879.9 821.6L873.7 828M846.3 851.7L839 857M807.9 875.7L799.7 879.7M765.7 892L756.9 894.1M721.1 900.1L712.1 900.9M675.9 900.9L666.9 900.1M631.1 894.1L622.3 892M588.3 879.7L580.1 875.7M549 857L541.7 851.7M514.3 828L508.1 821.6M486 793L481.5 785.5M477.5 752.6L483.4 733.7M501.8 703.6L523.9 682M550.5 657.2L554.7 653.5M549.8 575.7L545.2 566.6M530.6 533.3L521.5 508.1M512.7 473L506.9 432.7M506.7 396.7L513.1 349.4M524.6 315.6L546.9 276.9M570.5 250.2L604.3 224.8M636.6 210L676.2 201.3" stroke="#800080" stroke-width="5.6" fill="none"/>
<polygon points="694,183.2 707.6,193 702.4,209 685.6,209 680.4,193" fill="#800080"/>
<polygon points="769.1,199.7 782.7,209.6 777.5,225.6 760.7,225.6 755.5,209.6" fill="#800080"/>
<polygon points="832,246.9 845.6,256.7 840.4,272.7 823.6,272.7 818.4,256.7" fill="#800080"/>
<polygon points="872.5,317.1 886.1,327 880.9,343 864.1,343 858.9,327" fill="#800080"/>
<polygon points="883.7,400.4 897.3,410.3 892.1,426.3 875.3,426.3 870.1,410.3" fill="#800080"/>
<polygon points="872.7,476.7 886.3,486.6 881.1,502.6 864.3,502.6 859.1,486.6" fill="#800080"/>
<polygon points="851.1,536.2 864.7,546 859.5,562 842.7,562 837.5,546" fill="#800080"/>
<polygon points="829.8,577.6 843.4,587.4 838.3,603.4 821.4,603.4 816.2,587.4" fill="#800080"/>
<polygon points="813.8,606 827.4,615.8 822.2,631.8 805.4,631.8 800.2,615.8" fill="#800080"/>
<polygon points="819.6,627.2 833.2,637 828,653 811.2,653 806,637" fill="#800080"/>
<polygon points="851.1,654.9 864.7,664.8 859.5,680.8 842.7,680.8 837.5,664.8" fill="#800080"/>
<polygon points="899.2,702.1 912.8,711.9 907.6,727.9 890.8,727.9 885.6,711.9" fill="#800080"/>
<polygon points="915.9,755.7 929.5,765.5 924.3,781.5 907.5,781.5 902.3,765.5" fill="#800080"/>
<polygon points="892.6,794.3 906.2,804.2 901,820.1 884.2,820.1 879,804.2" fill="#800080"/>
<polygon points="861,826.8 874.6,836.7 869.4,852.7 852.6,852.7 847.4,836.7" fill="#800080"/>
<polygon points="824.2,853.4 837.8,863.2 832.6,879.2 815.8,879.2 810.6,863.2" fill="#800080"/>
<polygon points="783.3,873.3 796.9,883.2 791.7,899.2 774.9,899.2 769.7,883.2" fill="#800080"/>
<polygon points="739.2,884.2 752.8,894.1 747.6,910.1 730.8,910.1 725.6,894.1" fill="#800080"/>
<polygon points="694,888.2 707.6,898 702.4,914 685.6,914 680.4,898" fill="#800080"/>
<polygon points="648.8,884.2 662.4,894.1 657.2,910.1 640.4,910.1 635.2,894.1" fill="#800080"/>
<polygon points="604.7,873.3 618.3,883.2 613.1,899.2 596.3,899.2 591.1,883.2" fill="#800080"/>
<polygon points="563.8,853.4 577.4,863.2 572.2,879.2 555.4,879.2 550.2,863.2" fill="#800080"/>
<polygon points="527,826.8 540.6,836.7 535.4,852.7 518.6,852.7 513.4,836.7" fill="#800080"/>
<polygon points="495.4,794.3 509,804.2 503.8,820.1 487,820.1 481.8,804.2" fill="#800080"/>
<polygon points="472.1,755.7 485.7,765.5 480.5,781.5 463.7,781.5 458.5,765.5" fill="#800080"/>
<polygon points="488.8,702.1 502.4,711.9 497.2,727.9 480.4,727.9 475.2,711.9" fill="#800080"/>
<polygon points="536.9,654.9 550.5,664.8 545.3,680.8 528.5,680.8 523.3,664.8" fill="#800080"/>
<polygon points="568.4,627.2 582,637 576.8,653 560,653 554.8,637" fill="#800080"/>
<polygon points="574.2,606 587.8,615.8 582.6,631.8 565.8,631.8 560.6,615.8" fill="#800080"/>
<polygon points="558.2,577.6 571.8,587.4 566.6,603.4 549.7,603.4 544.6,587.4" fill="#800080"/>
<polygon points="536.9,536.2 550.5,546 545.3,562 528.5,562 523.3,546" fill="#800080"/>
<polygon points="515.3,476.7 528.9,486.6 523.7,502.6 506.9,502.6 501.7,486.6" fill="#800080"/>
<polygon points="504.3,400.4 517.9,410.3 512.7,426.3 495.9,426.3 490.7,410.3" fill="#800080"/>
<polygon points="515.5,317.1 529.1,327 523.9,343 507.1,343 501.9,327" fill="#800080"/>
<polygon points="556,246.9 569.6,256.7 564.4,272.7 547.6,272.7 542.4,256.7" fill="#800080"/>
<polygon points="618.8,199.5 632.4,209.4 627.2,225.4 610.4,225.4 605.2,209.4" fill="#800080"/>
<path d="M711.8 199.4L751.7 208.2M784.1 222.9L818.2 248.2M842.8 274.2L866.2 309.7M879.8 342.7L888.8 386.5M891.4 422.5L889.3 459.8M883.3 495.5L876.2 521.3M864.4 555.7L860 566.5M874.5 654L886.3 665.3M909.7 692.8L924.3 714.2M929.5 746.7L926.9 755.9M912.4 788.9L907.2 797.4M884.5 825.4L877.3 832.3M848.9 854.7L840.8 860M809.3 878.3L800.8 882.7M767 895.7L757.6 898.2M721.8 904.4L712.1 905.2M675.9 905L666.2 904.1M630.5 897.7L621.2 895.2M587.3 882.4L578.7 878.1M547.4 859.7L539.5 854.3M511.6 831.2L504.7 824.4M481.6 796.6L476.2 788.6M460 756.3L456.9 747.4M459.9 714.4L470.9 695.1M493.6 667.4L509.7 653.4M531.8 568.3L526.8 557M514.4 522.9L507 497.3M500.5 461.6L497.6 423.1M499.6 387.1L508.1 342.4M521.4 309.2L544.9 273M569.5 247.1L603.7 222.5M636.3 208L676.2 199.3" stroke="#800000" stroke-width="5.6" fill="none"/>
<circle cx="694" cy="195.5" r="12.8" fill="#800000"/><circle cx="690.6" cy="191.3" r="6.2" fill="#c08080"/><circle cx="690.6" cy="191.3" r="4.4" fill="#e6cccc"/><circle cx="690.6" cy="191.3" r="2.6" fill="#fff"/>
<circle cx="769.5" cy="212.1" r="12.8" fill="#800000"/><circle cx="766.1" cy="207.9" r="6.2" fill="#c08080"/><circle cx="766.1" cy="207.9" r="4.4" fill="#e6cccc"/><circle cx="766.1" cy="207.9" r="2.6" fill="#fff"/>
<circle cx="832.8" cy="259" r="12.8" fill="#800000"/><circle cx="829.4" cy="254.8" r="6.2" fill="#c08080"/><circle cx="829.4" cy="254.8" r="4.4" fill="#e6cccc"/><circle cx="829.4" cy="254.8" r="2.6" fill="#fff"/>
<circle cx="876.2" cy="324.9" r="12.8" fill="#800000"/><circle cx="872.8" cy="320.7" r="6.2" fill="#c08080"/><circle cx="872.8" cy="320.7" r="4.4" fill="#e6cccc"/><circle cx="872.8" cy="320.7" r="2.6" fill="#fff"/>
<circle cx="892.4" cy="404.3" r="12.8" fill="#800000"/><circle cx="889" cy="400.1" r="6.2" fill="#c08080"/><circle cx="889" cy="400.1" r="4.4" fill="#e6cccc"/><circle cx="889" cy="400.1" r="2.6" fill="#fff"/>
<circle cx="888.2" cy="478" r="12.8" fill="#800000"/><circle cx="884.8" cy="473.8" r="6.2" fill="#c08080"/><circle cx="884.8" cy="473.8" r="4.4" fill="#e6cccc"/><circle cx="884.8" cy="473.8" r="2.6" fill="#fff"/>
<circle cx="871.3" cy="538.8" r="12.8" fill="#800000"/><circle cx="867.9" cy="534.6" r="6.2" fill="#c08080"/><circle cx="867.9" cy="534.6" r="4.4" fill="#e6cccc"/><circle cx="867.9" cy="534.6" r="2.6" fill="#fff"/>
<circle cx="853.1" cy="583.4" r="12.8" fill="#800000"/><circle cx="849.7" cy="579.2" r="6.2" fill="#c08080"/><circle cx="849.7" cy="579.2" r="4.4" fill="#e6cccc"/><circle cx="849.7" cy="579.2" r="2.6" fill="#fff"/>
<circle cx="847.2" cy="614.4" r="12.8" fill="#800000"/><circle cx="843.8" cy="610.2" r="6.2" fill="#c08080"/><circle cx="843.8" cy="610.2" r="4.4" fill="#e6cccc"/><circle cx="843.8" cy="610.2" r="2.6" fill="#fff"/>
<circle cx="861.3" cy="641.5" r="12.8" fill="#800000"/><circle cx="857.9" cy="637.2" r="6.2" fill="#c08080"/><circle cx="857.9" cy="637.2" r="4.4" fill="#e6cccc"/><circle cx="857.9" cy="637.2" r="2.6" fill="#fff"/>
<circle cx="899.5" cy="677.8" r="12.8" fill="#800000"/><circle cx="896.1" cy="673.6" r="6.2" fill="#c08080"/><circle cx="896.1" cy="673.6" r="4.4" fill="#e6cccc"/><circle cx="896.1" cy="673.6" r="2.6" fill="#fff"/>
<circle cx="934.5" cy="729.2" r="12.8" fill="#800000"/><circle cx="931.1" cy="725" r="6.2" fill="#c08080"/><circle cx="931.1" cy="725" r="4.4" fill="#e6cccc"/><circle cx="931.1" cy="725" r="2.6" fill="#fff"/>
<circle cx="921.9" cy="773.4" r="12.8" fill="#800000"/><circle cx="918.5" cy="769.2" r="6.2" fill="#c08080"/><circle cx="918.5" cy="769.2" r="4.4" fill="#e6cccc"/><circle cx="918.5" cy="769.2" r="2.6" fill="#fff"/>
<circle cx="897.7" cy="812.9" r="12.8" fill="#800000"/><circle cx="894.3" cy="808.7" r="6.2" fill="#c08080"/><circle cx="894.3" cy="808.7" r="4.4" fill="#e6cccc"/><circle cx="894.3" cy="808.7" r="2.6" fill="#fff"/>
<circle cx="864.1" cy="844.8" r="12.8" fill="#800000"/><circle cx="860.7" cy="840.6" r="6.2" fill="#c08080"/><circle cx="860.7" cy="840.6" r="4.4" fill="#e6cccc"/><circle cx="860.7" cy="840.6" r="2.6" fill="#fff"/>
<circle cx="825.5" cy="869.9" r="12.8" fill="#800000"/><circle cx="822.1" cy="865.7" r="6.2" fill="#c08080"/><circle cx="822.1" cy="865.7" r="4.4" fill="#e6cccc"/><circle cx="822.1" cy="865.7" r="2.6" fill="#fff"/>
<circle cx="784.6" cy="891.1" r="12.8" fill="#800000"/><circle cx="781.2" cy="886.9" r="6.2" fill="#c08080"/><circle cx="781.2" cy="886.9" r="4.4" fill="#e6cccc"/><circle cx="781.2" cy="886.9" r="2.6" fill="#fff"/>
<circle cx="739.9" cy="902.8" r="12.8" fill="#800000"/><circle cx="736.5" cy="898.6" r="6.2" fill="#c08080"/><circle cx="736.5" cy="898.6" r="4.4" fill="#e6cccc"/><circle cx="736.5" cy="898.6" r="2.6" fill="#fff"/>
<circle cx="694" cy="906.8" r="12.8" fill="#800000"/><circle cx="690.6" cy="902.5" r="6.2" fill="#c08080"/><circle cx="690.6" cy="902.5" r="4.4" fill="#e6cccc"/><circle cx="690.6" cy="902.5" r="2.6" fill="#fff"/>
<circle cx="648.1" cy="902.4" r="12.8" fill="#800000"/><circle cx="644.7" cy="898.2" r="6.2" fill="#c08080"/><circle cx="644.7" cy="898.2" r="4.4" fill="#e6cccc"/><circle cx="644.7" cy="898.2" r="2.6" fill="#fff"/>
<circle cx="603.6" cy="890.5" r="12.8" fill="#800000"/><circle cx="600.2" cy="886.3" r="6.2" fill="#c08080"/><circle cx="600.2" cy="886.3" r="4.4" fill="#e6cccc"/><circle cx="600.2" cy="886.3" r="2.6" fill="#fff"/>
<circle cx="562.4" cy="870.1" r="12.8" fill="#800000"/><circle cx="559" cy="865.9" r="6.2" fill="#c08080"/><circle cx="559" cy="865.9" r="4.4" fill="#e6cccc"/><circle cx="559" cy="865.9" r="2.6" fill="#fff"/>
<circle cx="524.6" cy="844" r="12.8" fill="#800000"/><circle cx="521.2" cy="839.8" r="6.2" fill="#c08080"/><circle cx="521.2" cy="839.8" r="4.4" fill="#e6cccc"/><circle cx="521.2" cy="839.8" r="2.6" fill="#fff"/>
<circle cx="491.8" cy="811.7" r="12.8" fill="#800000"/><circle cx="488.4" cy="807.5" r="6.2" fill="#c08080"/><circle cx="488.4" cy="807.5" r="4.4" fill="#e6cccc"/><circle cx="488.4" cy="807.5" r="2.6" fill="#fff"/>
<circle cx="466" cy="773.5" r="12.8" fill="#800000"/><circle cx="462.6" cy="769.3" r="6.2" fill="#c08080"/><circle cx="462.6" cy="769.3" r="4.4" fill="#e6cccc"/><circle cx="462.6" cy="769.3" r="2.6" fill="#fff"/>
<circle cx="450.9" cy="730.2" r="12.8" fill="#800000"/><circle cx="447.5" cy="726" r="6.2" fill="#c08080"/><circle cx="447.5" cy="726" r="4.4" fill="#e6cccc"/><circle cx="447.5" cy="726" r="2.6" fill="#fff"/>
<circle cx="479.9" cy="679.3" r="12.8" fill="#800000"/><circle cx="476.5" cy="675.1" r="6.2" fill="#c08080"/><circle cx="476.5" cy="675.1" r="4.4" fill="#e6cccc"/><circle cx="476.5" cy="675.1" r="2.6" fill="#fff"/>
<circle cx="523.4" cy="641.5" r="12.8" fill="#800000"/><circle cx="520" cy="637.2" r="6.2" fill="#c08080"/><circle cx="520" cy="637.2" r="4.4" fill="#e6cccc"/><circle cx="520" cy="637.2" r="2.6" fill="#fff"/>
<circle cx="543.3" cy="614.8" r="12.8" fill="#800000"/><circle cx="539.9" cy="610.6" r="6.2" fill="#c08080"/><circle cx="539.9" cy="610.6" r="4.4" fill="#e6cccc"/><circle cx="539.9" cy="610.6" r="2.6" fill="#fff"/>
<circle cx="539.1" cy="584.9" r="12.8" fill="#800000"/><circle cx="535.7" cy="580.7" r="6.2" fill="#c08080"/><circle cx="535.7" cy="580.7" r="4.4" fill="#e6cccc"/><circle cx="535.7" cy="580.7" r="2.6" fill="#fff"/>
<circle cx="519.4" cy="540.4" r="12.8" fill="#800000"/><circle cx="516" cy="536.1" r="6.2" fill="#c08080"/><circle cx="516" cy="536.1" r="4.4" fill="#e6cccc"/><circle cx="516" cy="536.1" r="2.6" fill="#fff"/>
<circle cx="501.9" cy="479.8" r="12.8" fill="#800000"/><circle cx="498.5" cy="475.6" r="6.2" fill="#c08080"/><circle cx="498.5" cy="475.6" r="4.4" fill="#e6cccc"/><circle cx="498.5" cy="475.6" r="2.6" fill="#fff"/>
<circle cx="496.2" cy="405" r="12.8" fill="#800000"/><circle cx="492.8" cy="400.8" r="6.2" fill="#c08080"/><circle cx="492.8" cy="400.8" r="4.4" fill="#e6cccc"/><circle cx="492.8" cy="400.8" r="2.6" fill="#fff"/>
<circle cx="511.5" cy="324.5" r="12.8" fill="#800000"/><circle cx="508.1" cy="320.3" r="6.2" fill="#c08080"/><circle cx="508.1" cy="320.3" r="4.4" fill="#e6cccc"/><circle cx="508.1" cy="320.3" r="2.6" fill="#fff"/>
<circle cx="554.8" cy="257.8" r="12.8" fill="#800000"/><circle cx="551.4" cy="253.6" r="6.2" fill="#c08080"/><circle cx="551.4" cy="253.6" r="4.4" fill="#e6cccc"/><circle cx="551.4" cy="253.6" r="2.6" fill="#fff"/>
<circle cx="618.5" cy="211.9" r="12.8" fill="#800000"/><circle cx="615.1" cy="207.7" r="6.2" fill="#c08080"/><circle cx="615.1" cy="207.7" r="4.4" fill="#e6cccc"/><circle cx="615.1" cy="207.7" r="2.6" fill="#fff"/>
<path d="M711.8 201.9L751.3 210.6M784 224.9L817.9 248.6M843.1 274L866.7 308.6M882.7 340.9L894.8 377.2M901.6 412.6L903.5 446.1M902 482.3L898.6 506.4M893.9 542.5L892.7 551.6M909.3 619.3L916.2 627.6M935.5 658.1L940.7 669.8M946.1 704.5L945 714.2M935.6 749L931.5 758.1M913.9 789.8L908.2 798.1M885.1 826L878 833.1M850.3 856.5L842.1 862.3M810.9 880.9L801.8 885.5M768 898.7L758.1 901.6M722.5 908.6L712.1 909.8M675.9 909.8L665.5 908.6M629.9 901.6L620 898.7M586.2 885.5L577.1 880.9M546.2 862L538.1 856.1M510.7 832.3L503.8 825.3M480.6 797.4L475 789.2M457.2 757.7L453.2 748.7M442 714.3L440.1 704.8M444.1 670.5L449.9 657.9M470.3 628.4L479.7 618.8M500.2 553.7L498.9 544.8M493.1 508.9L489 484.4M486.8 448.2L488.1 414.4M494.2 378.8L505.7 341M521.2 308.5L544.8 273.2M569.9 247.8L603.9 224.6M636.7 210.5L676.2 201.8" stroke="#008000" stroke-width="7.6" fill="none"/>
<path d="M682.5 198H705.5M694 186.5V209.5" stroke="#008000" stroke-width="1.8" fill="none"/>
<path d="M757.6 214.5H780.6M769.1 203V226" stroke="#008000" stroke-width="1.8" fill="none"/>
<path d="M821.3 259H844.3M832.8 247.5V270.5" stroke="#008000" stroke-width="1.8" fill="none"/>
<path d="M865.4 323.6H888.4M876.9 312.1V335.1" stroke="#008000" stroke-width="1.8" fill="none"/>
<path d="M889.1 394.5H912.1M900.6 383V406" stroke="#008000" stroke-width="1.8" fill="none"/>
<path d="M893 464.3H916M904.5 452.8V475.8" stroke="#008000" stroke-width="1.8" fill="none"/>
<path d="M884.5 524.5H907.5M896 513V536" stroke="#008000" stroke-width="1.8" fill="none"/>
<path d="M879.1 569.7H902.1M890.6 558.2V581.2" stroke="#008000" stroke-width="1.8" fill="none"/>
<path d="M886 605.5H909M897.5 594V617" stroke="#008000" stroke-width="1.8" fill="none"/>
<path d="M916.5 641.5H939.5M928 630V653" stroke="#008000" stroke-width="1.8" fill="none"/>
<path d="M936.7 686.4H959.7M948.2 674.9V697.9" stroke="#008000" stroke-width="1.8" fill="none"/>
<path d="M931.4 732.3H954.4M942.9 720.8V743.8" stroke="#008000" stroke-width="1.8" fill="none"/>
<path d="M912.7 774.8H935.7M924.2 763.2V786.2" stroke="#008000" stroke-width="1.8" fill="none"/>
<path d="M886.4 813.1H909.4M897.9 801.6V824.6" stroke="#008000" stroke-width="1.8" fill="none"/>
<path d="M853.7 846.1H876.7M865.2 834.6V857.6" stroke="#008000" stroke-width="1.8" fill="none"/>
<path d="M815.7 872.8H838.7M827.2 861.3V884.3" stroke="#008000" stroke-width="1.8" fill="none"/>
<path d="M774 893.6H797M785.5 882.1V905.1" stroke="#008000" stroke-width="1.8" fill="none"/>
<path d="M729.1 906.7H752.1M740.6 895.2V918.2" stroke="#008000" stroke-width="1.8" fill="none"/>
<path d="M682.5 911.8H705.5M694 900.2V923.2" stroke="#008000" stroke-width="1.8" fill="none"/>
<path d="M635.9 906.7H658.9M647.4 895.2V918.2" stroke="#008000" stroke-width="1.8" fill="none"/>
<path d="M591 893.6H614M602.5 882.1V905.1" stroke="#008000" stroke-width="1.8" fill="none"/>
<path d="M549.3 872.8H572.3M560.8 861.3V884.3" stroke="#008000" stroke-width="1.8" fill="none"/>
<path d="M512 845.3H535M523.5 833.8V856.8" stroke="#008000" stroke-width="1.8" fill="none"/>
<path d="M479.5 812.3H502.5M491 800.8V823.8" stroke="#008000" stroke-width="1.8" fill="none"/>
<path d="M453.1 774.3H476.1M464.6 762.8V785.8" stroke="#008000" stroke-width="1.8" fill="none"/>
<path d="M434.2 732.1H457.2M445.7 720.6V743.6" stroke="#008000" stroke-width="1.8" fill="none"/>
<path d="M424.9 687H447.9M436.4 675.5V698.5" stroke="#008000" stroke-width="1.8" fill="none"/>
<path d="M446.1 641.5H469.1M457.6 630V653" stroke="#008000" stroke-width="1.8" fill="none"/>
<path d="M480.9 605.8H503.9M492.4 594.3V617.3" stroke="#008000" stroke-width="1.8" fill="none"/>
<path d="M491.5 571.7H514.5M503 560.2V583.2" stroke="#008000" stroke-width="1.8" fill="none"/>
<path d="M484.6 526.9H507.6M496.1 515.4V538.4" stroke="#008000" stroke-width="1.8" fill="none"/>
<path d="M474.5 466.4H497.5M486 454.9V477.9" stroke="#008000" stroke-width="1.8" fill="none"/>
<path d="M477.4 396.2H500.4M488.9 384.7V407.7" stroke="#008000" stroke-width="1.8" fill="none"/>
<path d="M499.6 323.6H522.6M511.1 312.1V335.1" stroke="#008000" stroke-width="1.8" fill="none"/>
<path d="M543.4 258.1H566.4M554.9 246.6V269.6" stroke="#008000" stroke-width="1.8" fill="none"/>
<path d="M607.4 214.3H630.4M618.9 202.8V225.8" stroke="#008000" stroke-width="1.8" fill="none"/>
<g font-size="56" letter-spacing="0"><text x="694" y="63.9" text-anchor="middle">0</text><text x="791.8" y="72.4" text-anchor="middle">10</text><text x="886.6" y="97.9" text-anchor="middle">20</text><text x="975.6" y="139.5" text-anchor="start">30</text><text x="1056" y="196" text-anchor="start">40</text><text x="1125.4" y="265.6" text-anchor="start">50</text><text x="1181.7" y="346.2" text-anchor="start">60</text><text x="1223.1" y="467.3" text-anchor="start">70</text><text x="1248.6" y="562.4" text-anchor="start">80</text><text x="1257.1" y="660.5" text-anchor="start">90</text><text x="1248.6" y="758.5" text-anchor="start">100</text><text x="1223.1" y="853.6" text-anchor="start">110</text><text x="1181.7" y="974.6" text-anchor="start">120</text><text x="1125.4" y="1055.3" text-anchor="start">130</text><text x="1056" y="1124.9" text-anchor="start">140</text><text x="975.6" y="1181.4" text-anchor="start">150</text><text x="886.6" y="1223" text-anchor="middle">160</text><text x="791.8" y="1248.5" text-anchor="middle">170</text><text x="694" y="1257" text-anchor="middle">180</text><text x="596.2" y="1248.5" text-anchor="middle">190</text><text x="501.4" y="1223" text-anchor="middle">200</text><text x="412.4" y="1181.4" text-anchor="end">210</text><text x="332" y="1124.9" text-anchor="end">220</text><text x="262.6" y="1055.3" text-anchor="end">230</text><text x="206.3" y="974.7" text-anchor="end">240</text><text x="164.9" y="853.6" text-anchor="end">250</text><text x="139.4" y="758.5" text-anchor="end">260</text><text x="130.9" y="660.5" text-anchor="end">270</text><text x="139.4" y="562.4" text-anchor="end">280</text><text x="164.9" y="467.3" text-anchor="end">290</text><text x="206.3" y="346.2" text-anchor="end">300</text><text x="262.6" y="265.6" text-anchor="end">310</text><text x="332" y="196" text-anchor="end">320</text><text x="412.4" y="139.5" text-anchor="end">330</text><text x="501.4" y="97.9" text-anchor="middle">340</text><text x="596.2" y="72.4" text-anchor="middle">350</text></g>
</g>
<g id="legend-a">
<rect x="1360" y="208" width="326" height="844.5" fill="#000"/>
<rect x="1345.2" y="194.4" width="336.6" height="844.2" fill="#fff" stroke="#000" stroke-width="1.2"/>
<g font-size="56" letter-spacing="0.4">
<path d="M1345.8 228H1389M1419 228H1462.8" stroke="#000000" stroke-width="5.6" fill="none"/>
<polygon points="1393,217 1415,217 1415,239 1393,239" fill="#000000"/>
<text x="1476" y="246">Layer 1</text>
<path d="M1345.8 298.9H1389M1419 298.9H1462.8" stroke="#ff0000" stroke-width="5.6" fill="none"/>
<circle cx="1404" cy="298.9" r="12.8" fill="#ff0000"/>
<text x="1476" y="316.9">Layer 2</text>
<path d="M1345.8 369.7H1389M1419 369.7H1462.8" stroke="#00ff00" stroke-width="5.6" fill="none"/>
<polygon points="1404,352.7 1418.8,378.5 1389.2,378.5" fill="#00ff00"/>
<text x="1476" y="387.7">Layer 3</text>
<path d="M1345.8 440.6H1389M1419 440.6H1462.8" stroke="#0000ff" stroke-width="5.6" fill="none"/>
<polygon points="1404,458 1389.2,431.8 1418.8,431.8" fill="#0000ff"/>
<text x="1476" y="458.6">Layer 4</text>
<path d="M1345.8 511.4H1389M1419 511.4H1462.8" stroke="#00ffff" stroke-width="5.6" fill="none"/>
<polygon points="1404,495.6 1418.8,511.4 1404,527.2 1389.2,511.4" fill="#00ffff"/>
<text x="1476" y="529.4">Layer 5</text>
<path d="M1345.8 582.3H1389M1419 582.3H1462.8" stroke="#ff00ff" stroke-width="5.6" fill="none"/>
<polygon points="1389.4,582.3 1412.7,567.8 1412.7,596.8" fill="#ff00ff"/>
<text x="1476" y="600.3">Layer 6</text>
<path d="M1345.8 653.2H1389M1419 653.2H1462.8" stroke="#ffff00" stroke-width="5.6" fill="none"/>
<polygon points="1419.2,653.2 1396,667.7 1396,638.7" fill="#ffff00"/>
<text x="1476" y="671.2">Layer 7</text>
<path d="M1345.8 724H1389M1419 724H1462.8" stroke="#808000" stroke-width="5.6" fill="none"/>
<polygon points="1404,710.2 1416,717.1 1416,730.9 1404,737.8 1392,730.9 1392,717.1" fill="#808000"/>
<text x="1476" y="742">Layer 8</text>
<path d="M1345.8 794.9H1389M1419 794.9H1462.8" stroke="#000080" stroke-width="5.6" fill="none"/>
<polygon points="1404,780.5 1407.3,790.3 1417.7,790.4 1409.3,796.6 1412.5,806.5 1404,800.5 1395.5,806.5 1398.7,796.6 1390.3,790.4 1400.7,790.3" fill="#000080"/>
<text x="1476" y="812.9">Layer 9</text>
<path d="M1345.8 865.7H1389M1419 865.7H1462.8" stroke="#800080" stroke-width="5.6" fill="none"/>
<polygon points="1404,851.4 1417.6,861.3 1412.4,877.3 1395.6,877.3 1390.4,861.3" fill="#800080"/>
<text x="1476" y="883.7">Layer 10</text>
<path d="M1345.8 936.6H1389M1419 936.6H1462.8" stroke="#800000" stroke-width="5.6" fill="none"/>
<circle cx="1404" cy="936.6" r="12.8" fill="#800000"/><circle cx="1400.6" cy="932.4" r="6.2" fill="#c08080"/><circle cx="1400.6" cy="932.4" r="4.4" fill="#e6cccc"/><circle cx="1400.6" cy="932.4" r="2.6" fill="#fff"/>
<text x="1476" y="954.6">Layer 11</text>
<path d="M1345.8 1007.5H1389M1419 1007.5H1462.8" stroke="#008000" stroke-width="7.3999999999999995" fill="none"/>
<path d="M1392.5 1007.5H1415.5M1404 996V1019" stroke="#008000" stroke-width="1.8" fill="none"/>
<text x="1476" y="1025.5">Layer 12</text>
</g>
</g>
<g id="chart-b">
<g fill="none" stroke="#000" stroke-width="1.2" stroke-dasharray="7.3 6.3">
<ellipse cx="688.15" cy="2025.5" rx="30.8" ry="30.6"/>
<ellipse cx="688.15" cy="2025.5" rx="182.2" ry="181"/>
<ellipse cx="688.15" cy="2025.5" rx="333.6" ry="331.4"/>
<ellipse cx="688.15" cy="2025.5" rx="485" ry="481.8"/>
</g>
<g font-size="56" text-anchor="end" letter-spacing="0.3">
<text x="677.8" y="1562.7">1</text>
<text x="677.8" y="1713.1">0</text>
<text x="677.8" y="1863.5">-1</text>
<text x="677.8" y="2013.9">-2</text>
</g>
<path d="M688.15 2025.5L688.1 1513.1M688.15 2025.5L777.7 1520.9M688.15 2025.5L864.6 1544M688.15 2025.5L946.1 1581.7M688.15 2025.5L1019.7 1633M688.15 2025.5L1083.3 1696.1M688.15 2025.5L1134.9 1769.3M688.15 2025.5L1172.9 1850.2M688.15 2025.5L1196.1 1936.5M688.15 2025.5L1204 2025.5M688.15 2025.5L1196.1 2114.5M688.15 2025.5L1172.9 2200.8M688.15 2025.5L1134.9 2281.7M688.15 2025.5L1083.3 2354.9M688.15 2025.5L1019.7 2418M688.15 2025.5L946.1 2469.3M688.15 2025.5L864.6 2507M688.15 2025.5L777.7 2530.1M688.15 2025.5L688.2 2537.9M688.15 2025.5L598.6 2530.1M688.15 2025.5L511.7 2507M688.15 2025.5L430.2 2469.3M688.15 2025.5L356.6 2418M688.15 2025.5L293 2354.9M688.15 2025.5L241.4 2281.7M688.15 2025.5L203.4 2200.8M688.15 2025.5L180.2 2114.5M688.15 2025.5L172.3 2025.5M688.15 2025.5L180.2 1936.5M688.15 2025.5L203.4 1850.2M688.15 2025.5L241.4 1769.3M688.15 2025.5L293 1696.1M688.15 2025.5L356.6 1633M688.15 2025.5L430.2 1581.7M688.15 2025.5L511.7 1544M688.15 2025.5L598.6 1520.9" stroke="#000" stroke-width="1.2" fill="none"/>
<polygon points="677.9,1523.8 698.4,1523.8 698.4,1544.2 677.9,1544.2" fill="#fff" stroke="#000000" stroke-width="1.5"/><polygon points="688.1,1523.8 698.4,1523.8 698.4,1544.2 688.1,1544.2" fill="#000000"/>
<polygon points="759.8,1553.9 780.3,1553.9 780.3,1574.3 759.8,1574.3" fill="#fff" stroke="#000000" stroke-width="1.5"/><polygon points="770,1553.9 780.3,1553.9 780.3,1574.3 770,1574.3" fill="#000000"/>
<polygon points="823.5,1618 844,1618 844,1638.4 823.5,1638.4" fill="#fff" stroke="#000000" stroke-width="1.5"/><polygon points="833.7,1618 844,1618 844,1638.4 833.7,1638.4" fill="#000000"/>
<polygon points="863.2,1696.6 883.6,1696.6 883.6,1717 863.2,1717" fill="#fff" stroke="#000000" stroke-width="1.5"/><polygon points="873.4,1696.6 883.6,1696.6 883.6,1717 873.4,1717" fill="#000000"/>
<polygon points="874,1783.2 894.4,1783.2 894.4,1803.6 874,1803.6" fill="#fff" stroke="#000000" stroke-width="1.5"/><polygon points="884.2,1783.2 894.4,1783.2 894.4,1803.6 884.2,1803.6" fill="#000000"/>
<polygon points="863.8,1860.4 884.2,1860.4 884.2,1880.8 863.8,1880.8" fill="#fff" stroke="#000000" stroke-width="1.5"/><polygon points="874,1860.4 884.2,1860.4 884.2,1880.8 874,1880.8" fill="#000000"/>
<polygon points="838.3,1923.3 858.8,1923.3 858.8,1943.7 838.3,1943.7" fill="#fff" stroke="#000000" stroke-width="1.5"/><polygon points="848.6,1923.3 858.8,1923.3 858.8,1943.7 848.6,1943.7" fill="#000000"/>
<polygon points="812.3,1966.7 832.7,1966.7 832.7,1987.2 812.3,1987.2" fill="#fff" stroke="#000000" stroke-width="1.5"/><polygon points="822.5,1966.7 832.7,1966.7 832.7,1987.2 822.5,1987.2" fill="#000000"/>
<polygon points="802.8,1993.4 823.3,1993.4 823.3,2013.9 802.8,2013.9" fill="#fff" stroke="#000000" stroke-width="1.5"/><polygon points="813.1,1993.4 823.3,1993.4 823.3,2013.9 813.1,2013.9" fill="#000000"/>
<polygon points="811.8,2015.3 832.3,2015.3 832.3,2035.7 811.8,2035.7" fill="#fff" stroke="#000000" stroke-width="1.5"/><polygon points="822,2015.3 832.3,2015.3 832.3,2035.7 822,2035.7" fill="#000000"/>
<polygon points="828.9,2041.7 849.4,2041.7 849.4,2062.2 828.9,2062.2" fill="#fff" stroke="#000000" stroke-width="1.5"/><polygon points="839.1,2041.7 849.4,2041.7 849.4,2062.2 839.1,2062.2" fill="#000000"/>
<polygon points="846.1,2076.1 866.6,2076.1 866.6,2096.5 846.1,2096.5" fill="#fff" stroke="#000000" stroke-width="1.5"/><polygon points="856.3,2076.1 866.6,2076.1 866.6,2096.5 856.3,2096.5" fill="#000000"/>
<polygon points="848,2112.8 868.5,2112.8 868.5,2133.3 848,2133.3" fill="#fff" stroke="#000000" stroke-width="1.5"/><polygon points="858.2,2112.8 868.5,2112.8 868.5,2133.3 858.2,2133.3" fill="#000000"/>
<polygon points="840.6,2150.9 861.1,2150.9 861.1,2171.4 840.6,2171.4" fill="#fff" stroke="#000000" stroke-width="1.5"/><polygon points="850.9,2150.9 861.1,2150.9 861.1,2171.4 850.9,2171.4" fill="#000000"/>
<polygon points="826.8,2191.5 847.2,2191.5 847.2,2211.9 826.8,2211.9" fill="#fff" stroke="#000000" stroke-width="1.5"/><polygon points="837,2191.5 847.2,2191.5 847.2,2211.9 837,2211.9" fill="#000000"/>
<polygon points="805.3,2234.4 825.7,2234.4 825.7,2254.8 805.3,2254.8" fill="#fff" stroke="#000000" stroke-width="1.5"/><polygon points="815.5,2234.4 825.7,2234.4 825.7,2254.8 815.5,2254.8" fill="#000000"/>
<polygon points="771.4,2270.3 791.8,2270.3 791.8,2290.8 771.4,2290.8" fill="#fff" stroke="#000000" stroke-width="1.5"/><polygon points="781.6,2270.3 791.8,2270.3 791.8,2290.8 781.6,2290.8" fill="#000000"/>
<polygon points="727.6,2295 748,2295 748,2315.4 727.6,2315.4" fill="#fff" stroke="#000000" stroke-width="1.5"/><polygon points="737.8,2295 748,2295 748,2315.4 737.8,2315.4" fill="#000000"/>
<polygon points="677.9,2299.3 698.4,2299.3 698.4,2319.7 677.9,2319.7" fill="#fff" stroke="#000000" stroke-width="1.5"/><polygon points="688.1,2299.3 698.4,2299.3 698.4,2319.7 688.1,2319.7" fill="#000000"/>
<polygon points="628.3,2295 648.7,2295 648.7,2315.4 628.3,2315.4" fill="#fff" stroke="#000000" stroke-width="1.5"/><polygon points="638.5,2295 648.7,2295 648.7,2315.4 638.5,2315.4" fill="#000000"/>
<polygon points="582.8,2275 603.2,2275 603.2,2295.5 582.8,2295.5" fill="#fff" stroke="#000000" stroke-width="1.5"/><polygon points="593,2275 603.2,2275 603.2,2295.5 593,2295.5" fill="#000000"/>
<polygon points="545.5,2243 566,2243 566,2263.5 545.5,2263.5" fill="#fff" stroke="#000000" stroke-width="1.5"/><polygon points="555.8,2243 566,2243 566,2263.5 555.8,2263.5" fill="#000000"/>
<polygon points="519.4,2203 539.8,2203 539.8,2223.4 519.4,2223.4" fill="#fff" stroke="#000000" stroke-width="1.5"/><polygon points="529.6,2203 539.8,2203 539.8,2223.4 529.6,2223.4" fill="#000000"/>
<polygon points="502.1,2161.8 522.6,2161.8 522.6,2182.3 502.1,2182.3" fill="#fff" stroke="#000000" stroke-width="1.5"/><polygon points="512.3,2161.8 522.6,2161.8 522.6,2182.3 512.3,2182.3" fill="#000000"/>
<polygon points="494.7,2120.3 515.2,2120.3 515.2,2140.8 494.7,2140.8" fill="#fff" stroke="#000000" stroke-width="1.5"/><polygon points="505,2120.3 515.2,2120.3 515.2,2140.8 505,2140.8" fill="#000000"/>
<polygon points="504.1,2078.1 524.6,2078.1 524.6,2098.6 504.1,2098.6" fill="#fff" stroke="#000000" stroke-width="1.5"/><polygon points="514.4,2078.1 524.6,2078.1 524.6,2098.6 514.4,2098.6" fill="#000000"/>
<polygon points="533.6,2040.6 554,2040.6 554,2061 533.6,2061" fill="#fff" stroke="#000000" stroke-width="1.5"/><polygon points="543.8,2040.6 554,2040.6 554,2061 543.8,2061" fill="#000000"/>
<polygon points="557.6,2015.3 578.1,2015.3 578.1,2035.7 557.6,2035.7" fill="#fff" stroke="#000000" stroke-width="1.5"/><polygon points="567.8,2015.3 578.1,2015.3 578.1,2035.7 567.8,2035.7" fill="#000000"/>
<polygon points="554,1993.6 574.5,1993.6 574.5,2014 554,2014" fill="#fff" stroke="#000000" stroke-width="1.5"/><polygon points="564.2,1993.6 574.5,1993.6 574.5,2014 564.2,2014" fill="#000000"/>
<polygon points="535.5,1963.8 555.9,1963.8 555.9,1984.2 535.5,1984.2" fill="#fff" stroke="#000000" stroke-width="1.5"/><polygon points="545.7,1963.8 555.9,1963.8 555.9,1984.2 545.7,1984.2" fill="#000000"/>
<polygon points="499.4,1912.9 519.8,1912.9 519.8,1933.3 499.4,1933.3" fill="#fff" stroke="#000000" stroke-width="1.5"/><polygon points="509.6,1912.9 519.8,1912.9 519.8,1933.3 509.6,1933.3" fill="#000000"/>
<polygon points="465.2,1838 485.7,1838 485.7,1858.4 465.2,1858.4" fill="#fff" stroke="#000000" stroke-width="1.5"/><polygon points="475.5,1838 485.7,1838 485.7,1858.4 475.5,1858.4" fill="#000000"/>
<polygon points="449.2,1744.5 469.7,1744.5 469.7,1765 449.2,1765" fill="#fff" stroke="#000000" stroke-width="1.5"/><polygon points="459.5,1744.5 469.7,1744.5 469.7,1765 459.5,1765" fill="#000000"/>
<polygon points="467.1,1652.6 487.6,1652.6 487.6,1673 467.1,1673" fill="#fff" stroke="#000000" stroke-width="1.5"/><polygon points="477.3,1652.6 487.6,1652.6 487.6,1673 477.3,1673" fill="#000000"/>
<polygon points="516.6,1575 537.1,1575 537.1,1595.5 516.6,1595.5" fill="#fff" stroke="#000000" stroke-width="1.5"/><polygon points="526.8,1575 537.1,1575 537.1,1595.5 526.8,1595.5" fill="#000000"/>
<polygon points="591.9,1530.7 612.4,1530.7 612.4,1551.2 591.9,1551.2" fill="#fff" stroke="#000000" stroke-width="1.5"/><polygon points="602.1,1530.7 612.4,1530.7 612.4,1551.2 602.1,1551.2" fill="#000000"/>
<path d="M688.1 1534L716.6 1545.4L740.8 1556.9L761.3 1568.4L778.5 1580L793 1591.5L805.1 1603L815.5 1614.2L824.4 1625.3L832.4 1636.1L839.6 1646.6L846.1 1657L851.8 1667.3L856.8 1677.5L861.3 1687.7L865.2 1697.9L868.6 1708.1L871.5 1718.5L874 1729L876.1 1739.5L877.8 1750.1L879 1760.6L880 1771.1L880.5 1781.5L880.7 1791.8L880.6 1802L880.1 1812L879.4 1821.8L878.4 1831.5L877 1841L875.4 1850.3L873.6 1859.3L871.5 1868.2L869.1 1876.9L866.6 1885.3L863.8 1893.4L861 1901.3L857.9 1909L854.8 1916.4L851.7 1923.5L848.5 1930.3L845.2 1936.7L842 1942.9L838.9 1948.8L835.9 1954.5L832.9 1959.8L830.2 1964.8L827.6 1969.6L825.3 1974.1L823.2 1978.4L821.3 1982.4L819.8 1986.2L818.5 1989.8L817.5 1993.3L816.8 1996.6L816.3 1999.7L816.1 2002.8L816.2 2005.8L816.6 2008.8L817.3 2011.7L818.1 2014.6L819.2 2017.4L820.4 2020.3L821.8 2023.3L823.4 2026.3L825.1 2029.3L826.9 2032.5L828.8 2035.7L830.8 2039L832.8 2042.4L834.9 2045.9L837 2049.5L839.2 2053.3L841.3 2057.1L843.4 2061.1L845.5 2065.2L847.4 2069.3L849.3 2073.6L851 2077.9L852.5 2082.3L853.8 2086.7L854.9 2091.2L855.7 2095.7L856.4 2100.2L856.8 2104.8L857 2109.3L857.1 2114L857 2118.6L856.7 2123.3L856.3 2128L855.7 2132.7L855 2137.4L854.2 2142.2L853.3 2147L852.2 2151.8L851.1 2156.6L849.8 2161.5L848.4 2166.5L846.9 2171.4L845.3 2176.5L843.6 2181.5L841.8 2186.6L839.9 2191.7L837.9 2196.9L835.7 2202.1L833.4 2207.3L831 2212.6L828.5 2217.8L825.8 2223.1L823 2228.2L820 2233.4L816.8 2238.5L813.4 2243.4L809.9 2248.3L806.1 2253.1L802.2 2257.7L798.1 2262.2L793.8 2266.5L789.3 2270.7L784.7 2274.8L779.9 2278.7L775 2282.3L769.9 2285.9L764.7 2289.1L759.4 2292.2L753.9 2295L748.3 2297.6L742.6 2299.8L736.8 2301.8L730.9 2303.5L725 2304.8L718.9 2305.9L712.9 2306.7L706.7 2307.4L700.5 2307.8L694.4 2308L688.1 2308.1L681.9 2308L675.7 2307.8L669.6 2307.4L663.4 2306.8L657.3 2306.1L651.2 2305.1L645.2 2304L639.2 2302.6L633.3 2300.9L627.4 2299.1L621.7 2297L616 2294.6L610.4 2292.1L605 2289.3L599.6 2286.4L594.4 2283.2L589.3 2279.9L584.3 2276.4L579.5 2272.7L574.8 2268.8L570.2 2264.8L565.9 2260.7L561.7 2256.4L557.6 2251.9L553.7 2247.3L550 2242.7L546.5 2237.9L543.1 2233L539.9 2228.1L536.8 2223.1L533.9 2218.1L531.1 2213L528.4 2207.9L525.9 2202.8L523.6 2197.7L521.4 2192.6L519.3 2187.5L517.4 2182.3L515.6 2177.2L514 2172L512.5 2166.8L511.2 2161.7L510.1 2156.5L509.2 2151.3L508.5 2146.1L508 2140.9L507.8 2135.7L507.8 2130.4L508 2125.2L508.6 2120L509.4 2114.7L510.4 2109.5L511.8 2104.3L513.5 2099.2L515.4 2094.1L517.7 2089.1L520.3 2084.2L523.1 2079.3L526.2 2074.5L529.4 2069.9L532.7 2065.4L536.1 2061L539.5 2056.8L542.9 2052.8L546.2 2049L549.4 2045.3L552.4 2041.8L555.1 2038.5L557.7 2035.2L559.9 2032.1L561.8 2029.1L563.2 2026.1L564.3 2023.2L565 2020.3L565.2 2017.4L565.1 2014.6L564.7 2011.6L564 2008.7L563 2005.6L561.7 2002.4L560.2 1999.2L558.5 1995.7L556.5 1992.1L554.3 1988.3L551.8 1984.2L549 1979.9L546 1975.4L542.8 1970.5L539.2 1965.3L535.4 1959.7L531.5 1953.8L527.3 1947.6L523.1 1941L518.7 1934.1L514.3 1926.8L509.9 1919.1L505.6 1911.1L501.2 1902.6L497 1893.9L492.9 1884.8L489 1875.3L485.3 1865.6L481.8 1855.5L478.5 1845.1L475.5 1834.5L472.8 1823.6L470.5 1812.4L468.5 1801.1L467 1789.7L465.9 1778.2L465.3 1766.6L465.1 1755L465.5 1743.5L466.4 1731.9L467.8 1720.5L469.8 1709.1L472.2 1697.9L475.2 1686.8L478.7 1675.9L482.6 1665.2L487.1 1654.7L492.1 1644.5L497.8 1634.4L504.1 1624.6L511.1 1614.9L519 1605.5L527.7 1596.2L537.4 1587.1L548.1 1578.2L560.3 1569.7L574.3 1561.6L590.7 1554.2L609.8 1547.5L632.1 1541.9L658.1 1537.3L688.1 1534" stroke="#000000" stroke-width="6.2" fill="none" stroke-linejoin="round"/>
<circle cx="688.1" cy="1553.5" r="12.1" fill="#fff" stroke="#ff0000" stroke-width="1.5"/><path d="M688.1 1541.4A12.1 12.1 0 0 1 688.1 1565.6Z" fill="#ff0000"/>
<circle cx="768" cy="1575.9" r="12.1" fill="#fff" stroke="#ff0000" stroke-width="1.5"/><path d="M768 1563.8A12.1 12.1 0 0 1 768 1588Z" fill="#ff0000"/>
<circle cx="830.7" cy="1636.5" r="12.1" fill="#fff" stroke="#ff0000" stroke-width="1.5"/><path d="M830.7 1624.4A12.1 12.1 0 0 1 830.7 1648.6Z" fill="#ff0000"/>
<circle cx="868.9" cy="1714.6" r="12.1" fill="#fff" stroke="#ff0000" stroke-width="1.5"/><path d="M868.9 1702.5A12.1 12.1 0 0 1 868.9 1726.7Z" fill="#ff0000"/>
<circle cx="871.3" cy="1808.7" r="12.1" fill="#fff" stroke="#ff0000" stroke-width="1.5"/><path d="M871.3 1796.6A12.1 12.1 0 0 1 871.3 1820.8Z" fill="#ff0000"/>
<circle cx="851.2" cy="1889.6" r="12.1" fill="#fff" stroke="#ff0000" stroke-width="1.5"/><path d="M851.2 1877.5A12.1 12.1 0 0 1 851.2 1901.7Z" fill="#ff0000"/>
<circle cx="814.8" cy="1952.8" r="12.1" fill="#fff" stroke="#ff0000" stroke-width="1.5"/><path d="M814.8 1940.8A12.1 12.1 0 0 1 814.8 1964.9Z" fill="#ff0000"/>
<circle cx="790.3" cy="1988.6" r="12.1" fill="#fff" stroke="#ff0000" stroke-width="1.5"/><path d="M790.3 1976.5A12.1 12.1 0 0 1 790.3 2000.7Z" fill="#ff0000"/>
<circle cx="783.3" cy="2008.8" r="12.1" fill="#fff" stroke="#ff0000" stroke-width="1.5"/><path d="M783.3 1996.7A12.1 12.1 0 0 1 783.3 2020.9Z" fill="#ff0000"/>
<circle cx="786.9" cy="2025.5" r="12.1" fill="#fff" stroke="#ff0000" stroke-width="1.5"/><path d="M786.9 2013.4A12.1 12.1 0 0 1 786.9 2037.6Z" fill="#ff0000"/>
<circle cx="802.2" cy="2045.5" r="12.1" fill="#fff" stroke="#ff0000" stroke-width="1.5"/><path d="M802.2 2033.4A12.1 12.1 0 0 1 802.2 2057.6Z" fill="#ff0000"/>
<circle cx="814.6" cy="2071.2" r="12.1" fill="#fff" stroke="#ff0000" stroke-width="1.5"/><path d="M814.6 2059.1A12.1 12.1 0 0 1 814.6 2083.3Z" fill="#ff0000"/>
<circle cx="826.3" cy="2104.8" r="12.1" fill="#fff" stroke="#ff0000" stroke-width="1.5"/><path d="M826.3 2092.7A12.1 12.1 0 0 1 826.3 2116.8Z" fill="#ff0000"/>
<circle cx="833.7" cy="2146.8" r="12.1" fill="#fff" stroke="#ff0000" stroke-width="1.5"/><path d="M833.7 2134.7A12.1 12.1 0 0 1 833.7 2158.9Z" fill="#ff0000"/>
<circle cx="830.5" cy="2194" r="12.1" fill="#fff" stroke="#ff0000" stroke-width="1.5"/><path d="M830.5 2181.9A12.1 12.1 0 0 1 830.5 2206.1Z" fill="#ff0000"/>
<circle cx="816" cy="2245.5" r="12.1" fill="#fff" stroke="#ff0000" stroke-width="1.5"/><path d="M816 2233.4A12.1 12.1 0 0 1 816 2257.6Z" fill="#ff0000"/>
<circle cx="783.9" cy="2286.9" r="12.1" fill="#fff" stroke="#ff0000" stroke-width="1.5"/><path d="M783.9 2274.8A12.1 12.1 0 0 1 783.9 2299Z" fill="#ff0000"/>
<circle cx="738.5" cy="2309.1" r="12.1" fill="#fff" stroke="#ff0000" stroke-width="1.5"/><path d="M738.5 2297A12.1 12.1 0 0 1 738.5 2321.2Z" fill="#ff0000"/>
<circle cx="688.1" cy="2313.5" r="12.1" fill="#fff" stroke="#ff0000" stroke-width="1.5"/><path d="M688.1 2301.4A12.1 12.1 0 0 1 688.1 2325.6Z" fill="#ff0000"/>
<circle cx="637.8" cy="2309.1" r="12.1" fill="#fff" stroke="#ff0000" stroke-width="1.5"/><path d="M637.8 2297A12.1 12.1 0 0 1 637.8 2321.2Z" fill="#ff0000"/>
<circle cx="592.4" cy="2286.9" r="12.1" fill="#fff" stroke="#ff0000" stroke-width="1.5"/><path d="M592.4 2274.8A12.1 12.1 0 0 1 592.4 2299Z" fill="#ff0000"/>
<circle cx="562.8" cy="2241.1" r="12.1" fill="#fff" stroke="#ff0000" stroke-width="1.5"/><path d="M562.8 2229A12.1 12.1 0 0 1 562.8 2253.2Z" fill="#ff0000"/>
<circle cx="551.8" cy="2186.9" r="12.1" fill="#fff" stroke="#ff0000" stroke-width="1.5"/><path d="M551.8 2174.8A12.1 12.1 0 0 1 551.8 2199Z" fill="#ff0000"/>
<circle cx="548.8" cy="2141.7" r="12.1" fill="#fff" stroke="#ff0000" stroke-width="1.5"/><path d="M548.8 2129.6A12.1 12.1 0 0 1 548.8 2153.8Z" fill="#ff0000"/>
<circle cx="553.5" cy="2102.8" r="12.1" fill="#fff" stroke="#ff0000" stroke-width="1.5"/><path d="M553.5 2090.7A12.1 12.1 0 0 1 553.5 2114.8Z" fill="#ff0000"/>
<circle cx="566.7" cy="2069.4" r="12.1" fill="#fff" stroke="#ff0000" stroke-width="1.5"/><path d="M566.7 2057.3A12.1 12.1 0 0 1 566.7 2081.5Z" fill="#ff0000"/>
<circle cx="592" cy="2042.3" r="12.1" fill="#fff" stroke="#ff0000" stroke-width="1.5"/><path d="M592 2030.2A12.1 12.1 0 0 1 592 2054.4Z" fill="#ff0000"/>
<circle cx="615.9" cy="2025.5" r="12.1" fill="#fff" stroke="#ff0000" stroke-width="1.5"/><path d="M615.9 2013.4A12.1 12.1 0 0 1 615.9 2037.6Z" fill="#ff0000"/>
<circle cx="608.8" cy="2011.6" r="12.1" fill="#fff" stroke="#ff0000" stroke-width="1.5"/><path d="M608.8 1999.5A12.1 12.1 0 0 1 608.8 2023.7Z" fill="#ff0000"/>
<circle cx="584" cy="1987.8" r="12.1" fill="#fff" stroke="#ff0000" stroke-width="1.5"/><path d="M584 1975.7A12.1 12.1 0 0 1 584 1999.9Z" fill="#ff0000"/>
<circle cx="536.4" cy="1938.5" r="12.1" fill="#fff" stroke="#ff0000" stroke-width="1.5"/><path d="M536.4 1926.4A12.1 12.1 0 0 1 536.4 1950.5Z" fill="#ff0000"/>
<circle cx="497.7" cy="1866.8" r="12.1" fill="#fff" stroke="#ff0000" stroke-width="1.5"/><path d="M497.7 1854.7A12.1 12.1 0 0 1 497.7 1878.9Z" fill="#ff0000"/>
<circle cx="479.5" cy="1778.5" r="12.1" fill="#fff" stroke="#ff0000" stroke-width="1.5"/><path d="M479.5 1766.4A12.1 12.1 0 0 1 479.5 1790.6Z" fill="#ff0000"/>
<circle cx="492.2" cy="1688.4" r="12.1" fill="#fff" stroke="#ff0000" stroke-width="1.5"/><path d="M492.2 1676.3A12.1 12.1 0 0 1 492.2 1700.5Z" fill="#ff0000"/>
<circle cx="536.3" cy="1611.1" r="12.1" fill="#fff" stroke="#ff0000" stroke-width="1.5"/><path d="M536.3 1599A12.1 12.1 0 0 1 536.3 1623.2Z" fill="#ff0000"/>
<circle cx="605.9" cy="1562.1" r="12.1" fill="#fff" stroke="#ff0000" stroke-width="1.5"/><path d="M605.9 1550A12.1 12.1 0 0 1 605.9 1574.2Z" fill="#ff0000"/>
<path d="M688.1 1553.5L715.9 1562.3L739.5 1571.6L759.6 1581.5L776.4 1591.8L790.6 1602.3L802.5 1613L812.6 1623.7L821.4 1634.4L829.2 1644.8L836.2 1655.2L842.4 1665.4L847.9 1675.6L852.6 1685.8L856.7 1696.2L860.1 1706.6L862.9 1717.3L865.2 1728.1L866.9 1739.2L868.1 1750.4L868.9 1761.7L869.1 1773L869 1784.3L868.4 1795.5L867.5 1806.5L866.2 1817.3L864.6 1828L862.7 1838.4L860.4 1848.5L857.9 1858.4L855 1868.1L851.9 1877.5L848.5 1886.7L844.8 1895.5L841 1904.1L837 1912.4L832.9 1920.3L828.8 1927.9L824.7 1935.1L820.7 1941.9L816.8 1948.3L813.1 1954.2L809.6 1959.8L806.3 1965L803.2 1969.8L800.3 1974.3L797.7 1978.5L795.3 1982.4L793.2 1986L791.4 1989.4L789.8 1992.5L788.5 1995.5L787.4 1998.3L786.5 2000.9L785.9 2003.5L785.4 2005.9L785.1 2008.2L785 2010.5L785 2012.8L785.2 2015L785.6 2017.2L786.1 2019.4L786.9 2021.6L787.8 2023.8L788.9 2026L790.1 2028.4L791.5 2030.7L793.1 2033.2L794.7 2035.7L796.4 2038.2L798.2 2040.9L799.9 2043.6L801.7 2046.4L803.4 2049.3L805.1 2052.3L806.7 2055.4L808.3 2058.6L809.9 2061.9L811.5 2065.3L813 2068.9L814.5 2072.5L816 2076.3L817.5 2080.2L818.9 2084.2L820.4 2088.3L821.8 2092.6L823.1 2097L824.4 2101.5L825.6 2106.2L826.8 2111L827.8 2115.9L828.8 2120.9L829.7 2126.1L830.5 2131.3L831.1 2136.7L831.6 2142.1L831.9 2147.7L832.1 2153.3L832.1 2159L832 2164.8L831.6 2170.6L831.1 2176.5L830.5 2182.5L829.6 2188.6L828.6 2194.7L827.4 2200.9L826 2207.2L824.5 2213.4L822.7 2219.6L820.6 2225.8L818.4 2231.9L815.9 2237.9L813.1 2243.8L810 2249.5L806.7 2255.1L803.1 2260.4L799.3 2265.6L795.3 2270.5L791 2275.2L786.4 2279.6L781.7 2283.7L776.8 2287.5L771.6 2291.1L766.3 2294.3L760.8 2297.3L755.2 2299.9L749.5 2302.3L743.6 2304.4L737.7 2306.2L731.7 2307.7L725.6 2308.9L719.4 2310L713.2 2310.8L707 2311.3L700.7 2311.7L694.4 2312L688.2 2312L681.9 2312L675.6 2311.7L669.3 2311.3L663.1 2310.8L656.9 2310L650.7 2308.9L644.6 2307.7L638.6 2306.2L632.7 2304.4L626.8 2302.3L621.1 2299.9L615.5 2297.2L610.1 2294.1L604.9 2290.8L599.8 2287.1L595 2283L590.4 2278.6L586.1 2273.8L582.1 2268.7L578.3 2263.4L574.8 2257.8L571.5 2251.9L568.6 2245.9L565.9 2239.7L563.5 2233.4L561.4 2227L559.5 2220.5L557.9 2214L556.4 2207.5L555.2 2201.1L554.1 2194.7L553.1 2188.4L552.3 2182.3L551.6 2176.2L551.1 2170.4L550.6 2164.6L550.3 2159L550.1 2153.4L550 2148L550.1 2142.7L550.2 2137.5L550.5 2132.4L550.9 2127.4L551.5 2122.4L552.1 2117.6L552.9 2112.9L553.8 2108.2L554.9 2103.7L556.1 2099.2L557.4 2094.8L558.9 2090.5L560.5 2086.3L562.3 2082.2L564.2 2078.2L566.4 2074.3L568.7 2070.5L571.2 2066.7L573.9 2063.1L576.7 2059.6L579.6 2056.2L582.5 2053L585.6 2049.8L588.7 2046.9L591.7 2044L594.8 2041.4L597.8 2038.9L600.6 2036.5L603.3 2034.2L605.6 2032L607.7 2029.9L609.4 2027.9L610.7 2026L611.5 2024.1L611.9 2022.2L611.8 2020.3L611.3 2018.4L610.5 2016.4L609.3 2014.4L607.7 2012.2L605.9 2010L603.7 2007.5L601.3 2004.9L598.6 2002.1L595.6 1999L592.2 1995.6L588.6 1992L584.6 1987.9L580.2 1983.6L575.5 1978.8L570.5 1973.6L565.3 1968.1L559.9 1962.1L554.4 1955.8L548.8 1949.2L543.3 1942.1L537.9 1934.7L532.6 1927L527.4 1918.9L522.4 1910.5L517.7 1901.8L513.1 1892.8L508.9 1883.5L504.9 1873.9L501.1 1864L497.8 1853.9L494.7 1843.6L492 1833L489.7 1822.3L487.8 1811.4L486.3 1800.4L485.3 1789.3L484.7 1778.2L484.6 1767L484.9 1755.9L485.8 1744.7L487.2 1733.7L489 1722.7L491.3 1711.8L494.1 1701.1L497.4 1690.5L501.2 1680.1L505.6 1670L510.5 1659.9L516.2 1650.1L522.5 1640.3L529.6 1630.7L537.5 1621.2L546.4 1611.7L556.2 1602.4L567.4 1593.3L580.4 1584.6L595.7 1576.4L613.7 1569.1L634.8 1562.7L659.5 1557.5L688.1 1553.5" stroke="#ff0000" stroke-width="6.2" fill="none" stroke-linejoin="round"/>
<polygon points="688.1,1540.7 701.9,1564.7 674.4,1564.7" fill="#fff" stroke="#00ff00" stroke-width="1.5"/><polygon points="688.1,1540.7 701.9,1564.7 688.1,1564.7 688.1,1540.7" fill="#00ff00"/>
<polygon points="766.6,1567.8 780.4,1591.8 752.8,1591.8" fill="#fff" stroke="#00ff00" stroke-width="1.5"/><polygon points="766.6,1567.8 780.4,1591.8 766.6,1591.8 766.6,1567.8" fill="#00ff00"/>
<polygon points="827.6,1629.1 841.4,1653.1 813.8,1653.1" fill="#fff" stroke="#00ff00" stroke-width="1.5"/><polygon points="827.6,1629.1 841.4,1653.1 827.6,1653.1 827.6,1629.1" fill="#00ff00"/>
<polygon points="859.3,1715.2 873.1,1739.2 845.5,1739.2" fill="#fff" stroke="#00ff00" stroke-width="1.5"/><polygon points="859.3,1715.2 873.1,1739.2 859.3,1739.2 859.3,1715.2" fill="#00ff00"/>
<polygon points="861.7,1804.2 875.5,1828.2 847.9,1828.2" fill="#fff" stroke="#00ff00" stroke-width="1.5"/><polygon points="861.7,1804.2 875.5,1828.2 861.7,1828.2 861.7,1804.2" fill="#00ff00"/>
<polygon points="835.1,1887.2 848.8,1911.2 821.3,1911.2" fill="#fff" stroke="#00ff00" stroke-width="1.5"/><polygon points="835.1,1887.2 848.8,1911.2 835.1,1911.2 835.1,1887.2" fill="#00ff00"/>
<polygon points="795,1948.4 808.8,1972.4 781.3,1972.4" fill="#fff" stroke="#00ff00" stroke-width="1.5"/><polygon points="795,1948.4 808.8,1972.4 795,1972.4 795,1948.4" fill="#00ff00"/>
<polygon points="749.6,1987.5 763.4,2011.5 735.9,2011.5" fill="#fff" stroke="#00ff00" stroke-width="1.5"/><polygon points="749.6,1987.5 763.4,2011.5 749.6,2011.5 749.6,1987.5" fill="#00ff00"/>
<polygon points="732.8,2001.9 746.5,2025.9 719,2025.9" fill="#fff" stroke="#00ff00" stroke-width="1.5"/><polygon points="732.8,2001.9 746.5,2025.9 732.8,2025.9 732.8,2001.9" fill="#00ff00"/>
<polygon points="733.5,2009.7 747.2,2033.7 719.7,2033.7" fill="#fff" stroke="#00ff00" stroke-width="1.5"/><polygon points="733.5,2009.7 747.2,2033.7 733.5,2033.7 733.5,2009.7" fill="#00ff00"/>
<polygon points="752.6,2021 766.4,2045 738.8,2045" fill="#fff" stroke="#00ff00" stroke-width="1.5"/><polygon points="752.6,2021 766.4,2045 752.6,2045 752.6,2021" fill="#00ff00"/>
<polygon points="782.7,2043.9 796.5,2067.9 769,2067.9" fill="#fff" stroke="#00ff00" stroke-width="1.5"/><polygon points="782.7,2043.9 796.5,2067.9 782.7,2067.9 782.7,2043.9" fill="#00ff00"/>
<polygon points="805.8,2077.2 819.6,2101.2 792.1,2101.2" fill="#fff" stroke="#00ff00" stroke-width="1.5"/><polygon points="805.8,2077.2 819.6,2101.2 805.8,2101.2 805.8,2077.2" fill="#00ff00"/>
<polygon points="819.3,2119 833,2143 805.5,2143" fill="#fff" stroke="#00ff00" stroke-width="1.5"/><polygon points="819.3,2119 833,2143 819.3,2143 819.3,2119" fill="#00ff00"/>
<polygon points="827.3,2174.4 841,2198.4 813.5,2198.4" fill="#fff" stroke="#00ff00" stroke-width="1.5"/><polygon points="827.3,2174.4 841,2198.4 827.3,2198.4 827.3,2174.4" fill="#00ff00"/>
<polygon points="827.6,2249.6 841.3,2273.6 813.8,2273.6" fill="#fff" stroke="#00ff00" stroke-width="1.5"/><polygon points="827.6,2249.6 841.3,2273.6 827.6,2273.6 827.6,2249.6" fill="#00ff00"/>
<polygon points="789.6,2286.5 803.3,2310.5 775.8,2310.5" fill="#fff" stroke="#00ff00" stroke-width="1.5"/><polygon points="789.6,2286.5 803.3,2310.5 789.6,2310.5 789.6,2286.5" fill="#00ff00"/>
<polygon points="739.5,2299.2 753.3,2323.2 725.8,2323.2" fill="#fff" stroke="#00ff00" stroke-width="1.5"/><polygon points="739.5,2299.2 753.3,2323.2 739.5,2323.2 739.5,2299.2" fill="#00ff00"/>
<polygon points="688.1,2303.7 701.9,2327.7 674.4,2327.7" fill="#fff" stroke="#00ff00" stroke-width="1.5"/><polygon points="688.1,2303.7 701.9,2327.7 688.1,2327.7 688.1,2303.7" fill="#00ff00"/>
<polygon points="636.8,2299.2 650.5,2323.2 623,2323.2" fill="#fff" stroke="#00ff00" stroke-width="1.5"/><polygon points="636.8,2299.2 650.5,2323.2 636.8,2323.2 636.8,2299.2" fill="#00ff00"/>
<polygon points="585.7,2289.3 599.4,2313.3 571.9,2313.3" fill="#fff" stroke="#00ff00" stroke-width="1.5"/><polygon points="585.7,2289.3 599.4,2313.3 585.7,2313.3 585.7,2289.3" fill="#00ff00"/>
<polygon points="546.2,2253.9 560,2277.9 532.4,2277.9" fill="#fff" stroke="#00ff00" stroke-width="1.5"/><polygon points="546.2,2253.9 560,2277.9 546.2,2277.9 546.2,2253.9" fill="#00ff00"/>
<polygon points="549,2174.4 562.8,2198.4 535.3,2198.4" fill="#fff" stroke="#00ff00" stroke-width="1.5"/><polygon points="549,2174.4 562.8,2198.4 549,2198.4 549,2174.4" fill="#00ff00"/>
<polygon points="553.2,2122.2 567,2146.2 539.4,2146.2" fill="#fff" stroke="#00ff00" stroke-width="1.5"/><polygon points="553.2,2122.2 567,2146.2 553.2,2146.2 553.2,2122.2" fill="#00ff00"/>
<polygon points="566.1,2079.7 579.9,2103.7 552.3,2103.7" fill="#fff" stroke="#00ff00" stroke-width="1.5"/><polygon points="566.1,2079.7 579.9,2103.7 566.1,2103.7 566.1,2079.7" fill="#00ff00"/>
<polygon points="588.8,2045.6 602.6,2069.6 575.1,2069.6" fill="#fff" stroke="#00ff00" stroke-width="1.5"/><polygon points="588.8,2045.6 602.6,2069.6 588.8,2069.6 588.8,2045.6" fill="#00ff00"/>
<polygon points="618.8,2021.8 632.5,2045.8 605,2045.8" fill="#fff" stroke="#00ff00" stroke-width="1.5"/><polygon points="618.8,2021.8 632.5,2045.8 618.8,2045.8 618.8,2021.8" fill="#00ff00"/>
<polygon points="642.8,2009.7 656.6,2033.7 629.1,2033.7" fill="#fff" stroke="#00ff00" stroke-width="1.5"/><polygon points="642.8,2009.7 656.6,2033.7 642.8,2033.7 642.8,2009.7" fill="#00ff00"/>
<polygon points="628.7,1999.3 642.4,2023.3 614.9,2023.3" fill="#fff" stroke="#00ff00" stroke-width="1.5"/><polygon points="628.7,1999.3 642.4,2023.3 628.7,2023.3 628.7,1999.3" fill="#00ff00"/>
<polygon points="593.6,1975.5 607.3,1999.5 579.8,1999.5" fill="#fff" stroke="#00ff00" stroke-width="1.5"/><polygon points="593.6,1975.5 607.3,1999.5 593.6,1999.5 593.6,1975.5" fill="#00ff00"/>
<polygon points="544.3,1927.2 558.1,1951.2 530.5,1951.2" fill="#fff" stroke="#00ff00" stroke-width="1.5"/><polygon points="544.3,1927.2 558.1,1951.2 544.3,1951.2 544.3,1927.2" fill="#00ff00"/>
<polygon points="504.6,1856.7 518.4,1880.7 490.8,1880.7" fill="#fff" stroke="#00ff00" stroke-width="1.5"/><polygon points="504.6,1856.7 518.4,1880.7 504.6,1880.7 504.6,1856.7" fill="#00ff00"/>
<polygon points="486.3,1770.7 500,1794.7 472.5,1794.7" fill="#fff" stroke="#00ff00" stroke-width="1.5"/><polygon points="486.3,1770.7 500,1794.7 486.3,1794.7 486.3,1770.7" fill="#00ff00"/>
<polygon points="497.4,1681.6 511.2,1705.5 483.7,1705.5" fill="#fff" stroke="#00ff00" stroke-width="1.5"/><polygon points="497.4,1681.6 511.2,1705.5 497.4,1705.5 497.4,1681.6" fill="#00ff00"/>
<polygon points="538.1,1600.1 551.8,1624.1 524.3,1624.1" fill="#fff" stroke="#00ff00" stroke-width="1.5"/><polygon points="538.1,1600.1 551.8,1624.1 538.1,1624.1 538.1,1600.1" fill="#00ff00"/>
<polygon points="606.6,1550.3 620.4,1574.3 592.8,1574.3" fill="#fff" stroke="#00ff00" stroke-width="1.5"/><polygon points="606.6,1550.3 620.4,1574.3 606.6,1574.3 606.6,1550.3" fill="#00ff00"/>
<path d="M688.1 1556.5L715.4 1566.8L738.6 1577.4L758.2 1588.3L774.6 1599.3L788.3 1610.4L799.8 1621.6L809.4 1632.8L817.6 1644L824.9 1655L831.2 1666.1L836.8 1677L841.6 1687.9L845.7 1698.8L849.2 1709.7L852 1720.6L854.4 1731.5L856.3 1742.5L857.8 1753.5L858.7 1764.5L859.3 1775.5L859.4 1786.5L859 1797.4L858.1 1808.3L856.9 1819L855.1 1829.7L853 1840.3L850.4 1850.7L847.5 1861L844.2 1871L840.7 1880.7L836.9 1890.2L832.8 1899.4L828.6 1908.2L824.1 1916.7L819.5 1924.9L814.7 1932.7L809.7 1940.2L804.6 1947.3L799.4 1954.1L794.1 1960.5L788.8 1966.6L783.4 1972.4L778 1977.7L772.8 1982.8L767.8 1987.4L763 1991.7L758.5 1995.6L754.4 1999.2L750.7 2002.3L747.5 2005.1L744.6 2007.6L742.2 2009.8L740.1 2011.8L738.3 2013.6L736.8 2015.1L735.7 2016.6L734.8 2017.9L734.2 2019.2L733.9 2020.4L733.9 2021.5L734.1 2022.7L734.6 2023.8L735.4 2024.9L736.5 2026.1L737.9 2027.3L739.6 2028.6L741.5 2030L743.6 2031.5L746 2033.1L748.6 2034.8L751.4 2036.7L754.4 2038.7L757.6 2041L760.9 2043.4L764.3 2045.9L767.8 2048.7L771.2 2051.6L774.7 2054.7L778.2 2058L781.6 2061.4L784.8 2065L788 2068.8L791 2072.7L793.9 2076.7L796.7 2080.9L799.4 2085.3L801.9 2089.8L804.2 2094.4L806.4 2099.2L808.5 2104.1L810.4 2109.1L812.2 2114.3L813.9 2119.7L815.5 2125.3L817 2131.1L818.4 2137L819.7 2143.2L820.9 2149.7L822 2156.3L823.1 2163.3L824.1 2170.6L825 2178.3L825.9 2186.3L826.7 2194.6L827.4 2203.4L828 2212.5L828.3 2221.6L828.4 2230.7L828.1 2239.6L827.3 2248.2L825.9 2256.2L823.9 2263.6L821.2 2270.2L817.8 2276.1L813.9 2281.3L809.5 2285.9L804.6 2289.9L799.4 2293.5L793.9 2296.6L788.2 2299.4L782.4 2302L776.5 2304.3L770.5 2306.3L764.4 2308.2L758.2 2309.8L751.9 2311.2L745.6 2312.5L739.3 2313.7L733 2314.7L726.6 2315.5L720.2 2316.3L713.8 2316.9L707.4 2317.4L701 2317.7L694.6 2317.9L688.1 2318L681.7 2317.9L675.3 2317.7L668.9 2317.4L662.5 2317L656 2316.4L649.6 2315.7L643.2 2315L636.8 2314.1L630.4 2313.2L624 2312.1L617.7 2310.9L611.4 2309.6L605.1 2308.1L599 2306.3L592.9 2304.3L586.9 2302L581.1 2299.5L575.5 2296.6L570.1 2293.2L565.1 2289.3L560.6 2284.8L556.6 2279.7L553.2 2273.7L550.6 2267L548.7 2259.4L547.4 2251.1L546.8 2242.2L546.6 2232.9L546.8 2223.5L547.3 2214.1L547.9 2204.8L548.6 2195.9L549.2 2187.5L549.9 2179.6L550.6 2172.1L551.2 2165L552 2158.3L552.8 2151.8L553.6 2145.6L554.6 2139.6L555.8 2133.8L557.1 2128.1L558.5 2122.5L560 2117.1L561.7 2111.9L563.6 2106.7L565.6 2101.8L567.7 2096.9L570 2092.2L572.5 2087.6L575.1 2083.1L577.8 2078.8L580.7 2074.7L583.7 2070.7L586.8 2066.8L590 2063.1L593.4 2059.6L596.8 2056.2L600.3 2053L603.8 2050L607.4 2047.1L610.9 2044.4L614.4 2041.9L617.8 2039.6L621.1 2037.4L624.3 2035.4L627.2 2033.6L629.9 2031.9L632.2 2030.2L634.1 2028.7L635.6 2027.2L636.5 2025.8L636.8 2024.4L636.6 2023L635.8 2021.5L634.5 2020L632.8 2018.5L630.6 2016.8L628.1 2014.9L625.2 2012.9L621.9 2010.6L618.4 2008.1L614.5 2005.4L610.4 2002.4L606 1999.1L601.3 1995.5L596.4 1991.5L591.2 1987.2L585.8 1982.5L580.3 1977.4L574.6 1972L568.8 1966.2L563 1960L557.2 1953.5L551.5 1946.6L545.9 1939.3L540.4 1931.7L535.1 1923.8L530 1915.5L525.1 1907L520.4 1898.1L516.1 1889L512 1879.6L508.2 1869.9L504.7 1860L501.6 1849.9L498.9 1839.6L496.5 1829.1L494.5 1818.5L493 1807.7L491.9 1796.9L491.2 1786L491 1775L491.2 1764L491.9 1753L493.1 1742L494.7 1731.1L496.8 1720.2L499.3 1709.4L502.3 1698.6L505.8 1688L509.8 1677.6L514.4 1667.2L519.7 1656.9L525.6 1646.8L532.4 1636.8L539.9 1626.8L548.4 1617L557.9 1607.3L568.9 1597.9L581.6 1589L596.7 1580.6L614.4 1573L635.3 1566.3L659.7 1560.8L688.1 1556.5" stroke="#00ff00" stroke-width="6.2" fill="none" stroke-linejoin="round"/>
<polygon points="688.1,1575.2 674.4,1550.8 701.9,1550.8" fill="#fff" stroke="#0000ff" stroke-width="1.5"/><polygon points="688.1,1575.2 688.1,1575.2 688.1,1550.8 701.9,1550.8" fill="#0000ff"/>
<polygon points="766.7,1599.2 752.9,1574.8 780.5,1574.8" fill="#fff" stroke="#0000ff" stroke-width="1.5"/><polygon points="766.7,1599.2 766.7,1599.2 766.7,1574.8 780.5,1574.8" fill="#0000ff"/>
<polygon points="826.9,1663 813.1,1638.6 840.7,1638.6" fill="#fff" stroke="#0000ff" stroke-width="1.5"/><polygon points="826.9,1663 826.9,1663 826.9,1638.6 840.7,1638.6" fill="#0000ff"/>
<polygon points="858.3,1749 844.5,1724.6 872,1724.6" fill="#fff" stroke="#0000ff" stroke-width="1.5"/><polygon points="858.3,1749 858.3,1749 858.3,1724.6 872,1724.6" fill="#0000ff"/>
<polygon points="860.4,1837.8 846.6,1813.4 874.2,1813.4" fill="#fff" stroke="#0000ff" stroke-width="1.5"/><polygon points="860.4,1837.8 860.4,1837.8 860.4,1813.4 874.2,1813.4" fill="#0000ff"/>
<polygon points="833.5,1920.5 819.8,1896.2 847.3,1896.2" fill="#fff" stroke="#0000ff" stroke-width="1.5"/><polygon points="833.5,1920.5 833.5,1920.5 833.5,1896.2 847.3,1896.2" fill="#0000ff"/>
<polygon points="793.3,1981.4 779.5,1957 807.1,1957" fill="#fff" stroke="#0000ff" stroke-width="1.5"/><polygon points="793.3,1981.4 793.3,1981.4 793.3,1957 807.1,1957" fill="#0000ff"/>
<polygon points="747.7,2020.1 734,1995.8 761.5,1995.8" fill="#fff" stroke="#0000ff" stroke-width="1.5"/><polygon points="747.7,2020.1 747.7,2020.1 747.7,1995.8 761.5,1995.8" fill="#0000ff"/>
<polygon points="717.9,2036.5 704.1,2012.1 731.7,2012.1" fill="#fff" stroke="#0000ff" stroke-width="1.5"/><polygon points="717.9,2036.5 717.9,2036.5 717.9,2012.1 731.7,2012.1" fill="#0000ff"/>
<polygon points="710.3,2041.7 696.5,2017.3 724.1,2017.3" fill="#fff" stroke="#0000ff" stroke-width="1.5"/><polygon points="710.3,2041.7 710.3,2041.7 710.3,2017.3 724.1,2017.3" fill="#0000ff"/>
<polygon points="722.8,2047.8 709.1,2023.4 736.6,2023.4" fill="#fff" stroke="#0000ff" stroke-width="1.5"/><polygon points="722.8,2047.8 722.8,2047.8 722.8,2023.4 736.6,2023.4" fill="#0000ff"/>
<polygon points="749.6,2063.9 735.9,2039.5 763.4,2039.5" fill="#fff" stroke="#0000ff" stroke-width="1.5"/><polygon points="749.6,2063.9 749.6,2063.9 749.6,2039.5 763.4,2039.5" fill="#0000ff"/>
<polygon points="779.7,2094.2 765.9,2069.8 793.5,2069.8" fill="#fff" stroke="#0000ff" stroke-width="1.5"/><polygon points="779.7,2094.2 779.7,2094.2 779.7,2069.8 793.5,2069.8" fill="#0000ff"/>
<polygon points="803.8,2138.1 790.1,2113.7 817.6,2113.7" fill="#fff" stroke="#0000ff" stroke-width="1.5"/><polygon points="803.8,2138.1 803.8,2138.1 803.8,2113.7 817.6,2113.7" fill="#0000ff"/>
<polygon points="827.3,2206.4 813.5,2182 841,2182" fill="#fff" stroke="#0000ff" stroke-width="1.5"/><polygon points="827.3,2206.4 827.3,2206.4 827.3,2182 841,2182" fill="#0000ff"/>
<polygon points="830.7,2287 817,2262.6 844.5,2262.6" fill="#fff" stroke="#0000ff" stroke-width="1.5"/><polygon points="830.7,2287 830.7,2287 830.7,2262.6 844.5,2262.6" fill="#0000ff"/>
<polygon points="793.8,2330 780,2305.7 807.6,2305.7" fill="#fff" stroke="#0000ff" stroke-width="1.5"/><polygon points="793.8,2330 793.8,2330 793.8,2305.7 807.6,2305.7" fill="#0000ff"/>
<polygon points="740.1,2334.5 726.4,2310.1 753.9,2310.1" fill="#fff" stroke="#0000ff" stroke-width="1.5"/><polygon points="740.1,2334.5 740.1,2334.5 740.1,2310.1 753.9,2310.1" fill="#0000ff"/>
<polygon points="688.1,2338.2 674.4,2313.8 701.9,2313.8" fill="#fff" stroke="#0000ff" stroke-width="1.5"/><polygon points="688.1,2338.2 688.1,2338.2 688.1,2313.8 701.9,2313.8" fill="#0000ff"/>
<polygon points="636.2,2334.5 622.4,2310.1 649.9,2310.1" fill="#fff" stroke="#0000ff" stroke-width="1.5"/><polygon points="636.2,2334.5 636.2,2334.5 636.2,2310.1 649.9,2310.1" fill="#0000ff"/>
<polygon points="581.8,2331.9 568,2307.5 595.6,2307.5" fill="#fff" stroke="#0000ff" stroke-width="1.5"/><polygon points="581.8,2331.9 581.8,2331.9 581.8,2307.5 595.6,2307.5" fill="#0000ff"/>
<polygon points="539.5,2297.4 525.8,2273 553.3,2273" fill="#fff" stroke="#0000ff" stroke-width="1.5"/><polygon points="539.5,2297.4 539.5,2297.4 539.5,2273 553.3,2273" fill="#0000ff"/>
<polygon points="549,2206.4 535.3,2182 562.8,2182" fill="#fff" stroke="#0000ff" stroke-width="1.5"/><polygon points="549,2206.4 549,2206.4 549,2182 562.8,2182" fill="#0000ff"/>
<polygon points="572.5,2138.1 558.7,2113.7 586.2,2113.7" fill="#fff" stroke="#0000ff" stroke-width="1.5"/><polygon points="572.5,2138.1 572.5,2138.1 572.5,2113.7 586.2,2113.7" fill="#0000ff"/>
<polygon points="601,2091.7 587.2,2067.3 614.7,2067.3" fill="#fff" stroke="#0000ff" stroke-width="1.5"/><polygon points="601,2091.7 601,2091.7 601,2067.3 614.7,2067.3" fill="#0000ff"/>
<polygon points="617.2,2067.3 603.4,2043 631,2043" fill="#fff" stroke="#0000ff" stroke-width="1.5"/><polygon points="617.2,2067.3 617.2,2067.3 617.2,2043 631,2043" fill="#0000ff"/>
<polygon points="643.5,2049.5 629.8,2025.1 657.3,2025.1" fill="#fff" stroke="#0000ff" stroke-width="1.5"/><polygon points="643.5,2049.5 643.5,2049.5 643.5,2025.1 657.3,2025.1" fill="#0000ff"/>
<polygon points="663,2041.7 649.2,2017.3 676.7,2017.3" fill="#fff" stroke="#0000ff" stroke-width="1.5"/><polygon points="663,2041.7 663,2041.7 663,2017.3 676.7,2017.3" fill="#0000ff"/>
<polygon points="643.5,2033.9 629.8,2009.5 657.3,2009.5" fill="#fff" stroke="#0000ff" stroke-width="1.5"/><polygon points="643.5,2033.9 643.5,2033.9 643.5,2009.5 657.3,2009.5" fill="#0000ff"/>
<polygon points="603,2010.9 589.2,1986.5 616.8,1986.5" fill="#fff" stroke="#0000ff" stroke-width="1.5"/><polygon points="603,2010.9 603,2010.9 603,1986.5 616.8,1986.5" fill="#0000ff"/>
<polygon points="553,1964.2 539.3,1939.8 566.8,1939.8" fill="#fff" stroke="#0000ff" stroke-width="1.5"/><polygon points="553,1964.2 553,1964.2 553,1939.8 566.8,1939.8" fill="#0000ff"/>
<polygon points="509.2,1892.6 495.5,1868.2 523,1868.2" fill="#fff" stroke="#0000ff" stroke-width="1.5"/><polygon points="509.2,1892.6 509.2,1892.6 509.2,1868.2 523,1868.2" fill="#0000ff"/>
<polygon points="488.8,1805.7 475.1,1781.4 502.6,1781.4" fill="#fff" stroke="#0000ff" stroke-width="1.5"/><polygon points="488.8,1805.7 488.8,1805.7 488.8,1781.4 502.6,1781.4" fill="#0000ff"/>
<polygon points="499.4,1716.9 485.6,1692.6 513.2,1692.6" fill="#fff" stroke="#0000ff" stroke-width="1.5"/><polygon points="499.4,1716.9 499.4,1716.9 499.4,1692.6 513.2,1692.6" fill="#0000ff"/>
<polygon points="539.4,1635.7 525.6,1611.4 553.2,1611.4" fill="#fff" stroke="#0000ff" stroke-width="1.5"/><polygon points="539.4,1635.7 539.4,1635.7 539.4,1611.4 553.2,1611.4" fill="#0000ff"/>
<polygon points="607.1,1585.2 593.4,1560.9 620.9,1560.9" fill="#fff" stroke="#0000ff" stroke-width="1.5"/><polygon points="607.1,1585.2 607.1,1585.2 607.1,1560.9 620.9,1560.9" fill="#0000ff"/>
<path d="M688.1 1559L715.4 1568.4L738.6 1578.3L758.1 1588.8L774.5 1599.8L788.1 1610.9L799.4 1622.3L808.9 1633.8L817.1 1645.2L824.2 1656.5L830.5 1667.6L836 1678.7L840.8 1689.7L844.8 1700.6L848.2 1711.5L851.1 1722.3L853.4 1733.3L855.3 1744.2L856.7 1755.2L857.6 1766.1L858.1 1777.1L858.2 1788.1L857.8 1799L856.9 1809.8L855.6 1820.6L853.8 1831.2L851.6 1841.8L849 1852.2L846.1 1862.4L842.8 1872.4L839.2 1882.1L835.4 1891.5L831.3 1900.7L827 1909.5L822.5 1918L817.8 1926.1L813 1933.9L808 1941.3L802.9 1948.4L797.7 1955.1L792.4 1961.5L787 1967.6L781.6 1973.3L776.1 1978.6L770.7 1983.6L765.4 1988.3L760.2 1992.6L755.2 1996.6L750.4 2000.2L745.8 2003.5L741.4 2006.4L737.4 2009.1L733.6 2011.4L730.1 2013.5L727 2015.4L724.1 2017L721.6 2018.4L719.4 2019.7L717.6 2020.8L716.1 2021.8L715 2022.7L714.2 2023.5L713.7 2024.2L713.5 2024.9L713.7 2025.6L714.1 2026.4L714.9 2027.1L715.9 2027.9L717.3 2028.8L718.9 2029.7L720.8 2030.8L722.9 2031.9L725.2 2033.3L727.8 2034.7L730.6 2036.4L733.5 2038.2L736.6 2040.2L739.9 2042.3L743.2 2044.7L746.7 2047.3L750.2 2050.1L753.8 2053.1L757.4 2056.3L761 2059.8L764.6 2063.4L768.2 2067.3L771.8 2071.4L775.3 2075.7L778.7 2080.3L782 2085L785.3 2090L788.5 2095.2L791.6 2100.8L794.7 2106.6L797.7 2112.7L800.7 2119.2L803.7 2126L806.7 2133.2L809.6 2140.8L812.5 2148.7L815.2 2157L817.9 2165.7L820.4 2174.7L822.7 2184L824.8 2193.7L826.6 2203.7L828.2 2213.8L829.4 2224L830.2 2234.1L830.4 2243.9L830.1 2253.3L829.1 2262.2L827.4 2270.3L824.9 2277.6L821.7 2284.1L817.9 2289.9L813.5 2294.9L808.6 2299.3L803.3 2303L797.7 2306.2L791.8 2308.9L785.8 2311.1L779.6 2312.8L773.2 2314.3L766.8 2315.4L760.2 2316.3L753.6 2317L747 2317.6L740.4 2318.2L733.8 2318.7L727.2 2319.1L720.7 2319.6L714.2 2320L707.7 2320.3L701.1 2320.5L694.6 2320.7L688.1 2320.8L681.7 2320.7L675.2 2320.6L668.6 2320.3L662.1 2320L655.6 2319.7L649 2319.3L642.4 2318.9L635.8 2318.5L629.1 2318.1L622.4 2317.7L615.8 2317.2L609.1 2316.5L602.5 2315.7L595.9 2314.7L589.4 2313.4L583 2311.8L576.7 2309.9L570.6 2307.4L564.9 2304.4L559.6 2300.8L554.8 2296.3L550.7 2291.1L547.3 2284.8L544.8 2277.6L543.2 2269.2L542.5 2259.8L542.5 2249.8L543.2 2239.1L544.5 2228.2L546.2 2217.1L548.2 2206.1L550.5 2195.4L553 2185.2L555.5 2175.4L558.2 2166.1L561 2157.2L564 2148.7L567 2140.6L570.1 2132.9L573.3 2125.6L576.6 2118.6L579.9 2111.9L583.3 2105.6L586.6 2099.6L589.8 2094L593 2088.7L596 2083.8L598.9 2079.2L601.6 2074.9L604.2 2071L606.6 2067.3L609 2063.9L611.4 2060.7L613.8 2057.8L616.3 2054.9L618.9 2052.2L621.6 2049.7L624.5 2047.2L627.4 2044.8L630.4 2042.6L633.5 2040.5L636.5 2038.5L639.5 2036.7L642.4 2035L645.2 2033.5L647.8 2032.1L650.2 2030.8L652.3 2029.6L654 2028.5L655.4 2027.5L656.2 2026.5L656.5 2025.5L656.2 2024.5L655.3 2023.5L653.9 2022.4L652 2021.3L649.6 2020L646.8 2018.6L643.6 2017L640 2015.2L636.1 2013.1L631.9 2010.8L627.4 2008.2L622.6 2005.4L617.6 2002.2L612.4 1998.8L607 1994.9L601.4 1990.8L595.7 1986.2L589.9 1981.3L583.9 1976L577.9 1970.3L571.9 1964.3L565.9 1957.9L560 1951.1L554.1 1943.8L548.2 1936.3L542.6 1928.3L537.1 1920L531.7 1911.4L526.7 1902.4L521.8 1893.1L517.3 1883.6L513.1 1873.8L509.3 1863.8L505.9 1853.6L502.8 1843.2L500.2 1832.6L498 1821.9L496.2 1811.1L494.9 1800.2L494 1789.2L493.6 1778.2L493.7 1767.2L494.3 1756.2L495.4 1745.3L496.9 1734.3L498.9 1723.5L501.4 1712.7L504.3 1702L507.7 1691.4L511.6 1681L516.1 1670.7L521.3 1660.4L527.2 1650.3L533.8 1640.3L541.3 1630.3L549.7 1620.5L559.1 1610.7L569.9 1601.2L582.5 1592.2L597.4 1583.7L614.9 1576L635.6 1569.2L659.9 1563.5L688.1 1559" stroke="#0000ff" stroke-width="6.2" fill="none" stroke-linejoin="round"/>
<polygon points="688.1,1544.8 701.9,1559.5 688.1,1574.2 674.4,1559.5" fill="#fff" stroke="#00ffff" stroke-width="1.5"/><polygon points="688.1,1544.8 701.9,1559.5 688.1,1574.2 688.1,1574.2 688.1,1544.8" fill="#00ffff"/>
<polygon points="766.8,1567.7 780.6,1582.4 766.8,1597.1 753,1582.4" fill="#fff" stroke="#00ffff" stroke-width="1.5"/><polygon points="766.8,1567.7 780.6,1582.4 766.8,1597.1 766.8,1597.1 766.8,1567.7" fill="#00ffff"/>
<polygon points="827.1,1631.6 840.8,1646.3 827.1,1661 813.3,1646.3" fill="#fff" stroke="#00ffff" stroke-width="1.5"/><polygon points="827.1,1631.6 840.8,1646.3 827.1,1661 827.1,1661 827.1,1631.6" fill="#00ffff"/>
<polygon points="858.5,1717.7 872.3,1732.4 858.5,1747 844.8,1732.4" fill="#fff" stroke="#00ffff" stroke-width="1.5"/><polygon points="858.5,1717.7 872.3,1732.4 858.5,1747 858.5,1747 858.5,1717.7" fill="#00ffff"/>
<polygon points="860.7,1806.5 874.5,1821.2 860.7,1835.9 847,1821.2" fill="#fff" stroke="#00ffff" stroke-width="1.5"/><polygon points="860.7,1806.5 874.5,1821.2 860.7,1835.9 860.7,1835.9 860.7,1806.5" fill="#00ffff"/>
<polygon points="833.9,1889.3 847.7,1904 833.9,1918.7 820.1,1904" fill="#fff" stroke="#00ffff" stroke-width="1.5"/><polygon points="833.9,1889.3 847.7,1904 833.9,1918.7 833.9,1918.7 833.9,1889.3" fill="#00ffff"/>
<polygon points="793.7,1950.3 807.5,1965 793.7,1979.6 780,1965" fill="#fff" stroke="#00ffff" stroke-width="1.5"/><polygon points="793.7,1950.3 807.5,1965 793.7,1979.6 793.7,1979.6 793.7,1950.3" fill="#00ffff"/>
<polygon points="748.2,1989.1 762,2003.8 748.2,2018.5 734.5,2003.8" fill="#fff" stroke="#00ffff" stroke-width="1.5"/><polygon points="748.2,1989.1 762,2003.8 748.2,2018.5 748.2,2018.5 748.2,1989.1" fill="#00ffff"/>
<polygon points="710,2007 723.7,2021.7 710,2036.4 696.2,2021.7" fill="#fff" stroke="#00ffff" stroke-width="1.5"/><polygon points="710,2007 723.7,2021.7 710,2036.4 710,2036.4 710,2007" fill="#00ffff"/>
<polygon points="700.2,2010.8 714,2025.5 700.2,2040.2 686.5,2025.5" fill="#fff" stroke="#00ffff" stroke-width="1.5"/><polygon points="700.2,2010.8 714,2025.5 700.2,2040.2 700.2,2040.2 700.2,2010.8" fill="#00ffff"/>
<polygon points="712.9,2015.1 726.7,2029.8 712.9,2044.5 699.2,2029.8" fill="#fff" stroke="#00ffff" stroke-width="1.5"/><polygon points="712.9,2015.1 726.7,2029.8 712.9,2044.5 712.9,2044.5 712.9,2015.1" fill="#00ffff"/>
<polygon points="737.3,2028.6 751.1,2043.3 737.3,2058 723.6,2043.3" fill="#fff" stroke="#00ffff" stroke-width="1.5"/><polygon points="737.3,2028.6 751.1,2043.3 737.3,2058 737.3,2058 737.3,2028.6" fill="#00ffff"/>
<polygon points="771,2058.3 784.7,2073 771,2087.7 757.2,2073" fill="#fff" stroke="#00ffff" stroke-width="1.5"/><polygon points="771,2058.3 784.7,2073 771,2087.7 771,2087.7 771,2058.3" fill="#00ffff"/>
<polygon points="803.8,2107.2 817.6,2121.9 803.8,2136.6 790.1,2121.9" fill="#fff" stroke="#00ffff" stroke-width="1.5"/><polygon points="803.8,2107.2 817.6,2121.9 803.8,2136.6 803.8,2136.6 803.8,2107.2" fill="#00ffff"/>
<polygon points="830.5,2179.3 844.3,2194 830.5,2208.7 816.7,2194" fill="#fff" stroke="#00ffff" stroke-width="1.5"/><polygon points="830.5,2179.3 844.3,2194 830.5,2208.7 830.5,2208.7 830.5,2179.3" fill="#00ffff"/>
<polygon points="834.4,2262.5 848.2,2277.2 834.4,2291.9 820.7,2277.2" fill="#fff" stroke="#00ffff" stroke-width="1.5"/><polygon points="834.4,2262.5 848.2,2277.2 834.4,2291.9 834.4,2291.9 834.4,2262.5" fill="#00ffff"/>
<polygon points="792.3,2295.1 806.1,2309.8 792.3,2324.5 778.6,2309.8" fill="#fff" stroke="#00ffff" stroke-width="1.5"/><polygon points="792.3,2295.1 806.1,2309.8 792.3,2324.5 792.3,2324.5 792.3,2295.1" fill="#00ffff"/>
<polygon points="739.2,2298.7 753,2313.4 739.2,2328.1 725.5,2313.4" fill="#fff" stroke="#00ffff" stroke-width="1.5"/><polygon points="739.2,2298.7 753,2313.4 739.2,2328.1 739.2,2328.1 739.2,2298.7" fill="#00ffff"/>
<polygon points="688.1,2302.3 701.9,2317 688.1,2331.7 674.4,2317" fill="#fff" stroke="#00ffff" stroke-width="1.5"/><polygon points="688.1,2302.3 701.9,2317 688.1,2331.7 688.1,2331.7 688.1,2302.3" fill="#00ffff"/>
<polygon points="637.1,2298.7 650.8,2313.4 637.1,2328.1 623.3,2313.4" fill="#fff" stroke="#00ffff" stroke-width="1.5"/><polygon points="637.1,2298.7 650.8,2313.4 637.1,2328.1 637.1,2328.1 637.1,2298.7" fill="#00ffff"/>
<polygon points="582.6,2298.8 596.4,2313.5 582.6,2328.1 568.9,2313.5" fill="#fff" stroke="#00ffff" stroke-width="1.5"/><polygon points="582.6,2298.8 596.4,2313.5 582.6,2328.1 582.6,2328.1 582.6,2298.8" fill="#00ffff"/>
<polygon points="541.5,2263.1 555.3,2277.8 541.5,2292.5 527.7,2277.8" fill="#fff" stroke="#00ffff" stroke-width="1.5"/><polygon points="541.5,2263.1 555.3,2277.8 541.5,2292.5 541.5,2292.5 541.5,2263.1" fill="#00ffff"/>
<polygon points="547.1,2177.8 560.8,2192.5 547.1,2207.2 533.3,2192.5" fill="#fff" stroke="#00ffff" stroke-width="1.5"/><polygon points="547.1,2177.8 560.8,2192.5 547.1,2207.2 547.1,2207.2 547.1,2177.8" fill="#00ffff"/>
<polygon points="568.6,2110.4 582.4,2125.1 568.6,2139.8 554.9,2125.1" fill="#fff" stroke="#00ffff" stroke-width="1.5"/><polygon points="568.6,2110.4 582.4,2125.1 568.6,2139.8 568.6,2139.8 568.6,2110.4" fill="#00ffff"/>
<polygon points="609.7,2055.8 623.4,2070.5 609.7,2085.2 595.9,2070.5" fill="#fff" stroke="#00ffff" stroke-width="1.5"/><polygon points="609.7,2055.8 623.4,2070.5 609.7,2085.2 609.7,2085.2 609.7,2055.8" fill="#00ffff"/>
<polygon points="636.1,2029.6 649.9,2044.3 636.1,2059 622.4,2044.3" fill="#fff" stroke="#00ffff" stroke-width="1.5"/><polygon points="636.1,2029.6 649.9,2044.3 636.1,2059 636.1,2059 636.1,2029.6" fill="#00ffff"/>
<polygon points="658.4,2016 672.2,2030.7 658.4,2045.4 644.6,2030.7" fill="#fff" stroke="#00ffff" stroke-width="1.5"/><polygon points="658.4,2016 672.2,2030.7 658.4,2045.4 658.4,2045.4 658.4,2016" fill="#00ffff"/>
<polygon points="673,2010.8 686.8,2025.5 673,2040.2 659.3,2025.5" fill="#fff" stroke="#00ffff" stroke-width="1.5"/><polygon points="673,2010.8 686.8,2025.5 673,2040.2 673,2040.2 673,2010.8" fill="#00ffff"/>
<polygon points="650.5,2004.2 664.2,2018.9 650.5,2033.6 636.7,2018.9" fill="#fff" stroke="#00ffff" stroke-width="1.5"/><polygon points="650.5,2004.2 664.2,2018.9 650.5,2033.6 650.5,2033.6 650.5,2004.2" fill="#00ffff"/>
<polygon points="612.5,1983.4 626.2,1998.1 612.5,2012.8 598.7,1998.1" fill="#fff" stroke="#00ffff" stroke-width="1.5"/><polygon points="612.5,1983.4 626.2,1998.1 612.5,2012.8 612.5,2012.8 612.5,1983.4" fill="#00ffff"/>
<polygon points="559.1,1936.8 572.9,1951.5 559.1,1966.2 545.4,1951.5" fill="#fff" stroke="#00ffff" stroke-width="1.5"/><polygon points="559.1,1936.8 572.9,1951.5 559.1,1966.2 559.1,1966.2 559.1,1936.8" fill="#00ffff"/>
<polygon points="514.6,1866.2 528.4,1880.9 514.6,1895.6 500.9,1880.9" fill="#fff" stroke="#00ffff" stroke-width="1.5"/><polygon points="514.6,1866.2 528.4,1880.9 514.6,1895.6 514.6,1895.6 514.6,1866.2" fill="#00ffff"/>
<polygon points="492.7,1779.5 506.5,1794.2 492.7,1808.8 479,1794.2" fill="#fff" stroke="#00ffff" stroke-width="1.5"/><polygon points="492.7,1779.5 506.5,1794.2 492.7,1808.8 492.7,1808.8 492.7,1779.5" fill="#00ffff"/>
<polygon points="500.9,1688.6 514.7,1703.3 500.9,1718 487.1,1703.3" fill="#fff" stroke="#00ffff" stroke-width="1.5"/><polygon points="500.9,1688.6 514.7,1703.3 500.9,1718 500.9,1718 500.9,1688.6" fill="#00ffff"/>
<polygon points="540.4,1607.7 554.2,1622.4 540.4,1637.1 526.7,1622.4" fill="#fff" stroke="#00ffff" stroke-width="1.5"/><polygon points="540.4,1607.7 554.2,1622.4 540.4,1637.1 540.4,1637.1 540.4,1607.7" fill="#00ffff"/>
<polygon points="607.2,1554.8 621,1569.5 607.2,1584.2 593.4,1569.5" fill="#fff" stroke="#00ffff" stroke-width="1.5"/><polygon points="607.2,1554.8 621,1569.5 607.2,1584.2 607.2,1584.2 607.2,1554.8" fill="#00ffff"/>
<path d="M688.1 1559.5L715.4 1568.5L738.6 1578.2L758.2 1588.5L774.6 1599.3L788.2 1610.5L799.6 1621.8L809.1 1633.3L817.3 1644.7L824.4 1656L830.7 1667.2L836.2 1678.2L841 1689.2L845 1700.1L848.5 1711L851.3 1721.9L853.7 1732.8L855.5 1743.8L857 1754.7L857.9 1765.7L858.4 1776.7L858.5 1787.7L858.1 1798.6L857.2 1809.4L855.9 1820.2L854.1 1830.9L851.9 1841.4L849.4 1851.8L846.4 1862L843.2 1872L839.6 1881.8L835.8 1891.2L831.7 1900.4L827.4 1909.2L822.9 1917.7L818.2 1925.8L813.4 1933.6L808.5 1941L803.4 1948.1L798.2 1954.9L792.8 1961.3L787.4 1967.3L782 1973L776.5 1978.4L771 1983.5L765.5 1988.2L760.1 1992.5L754.7 1996.6L749.4 2000.3L744.3 2003.7L739.2 2006.7L734.4 2009.5L729.8 2012L725.5 2014.2L721.6 2016.2L717.9 2017.9L714.7 2019.3L711.9 2020.6L709.6 2021.6L707.7 2022.5L706.2 2023.3L705 2024L704.3 2024.5L704 2025.1L704 2025.6L704.3 2026.1L705 2026.6L706 2027.2L707.3 2027.9L708.8 2028.6L710.6 2029.4L712.7 2030.3L714.9 2031.4L717.3 2032.5L719.9 2033.9L722.6 2035.4L725.6 2037.1L728.7 2039L731.9 2041.1L735.3 2043.4L738.9 2046L742.6 2048.8L746.4 2051.9L750.3 2055.3L754.3 2058.9L758.4 2062.8L762.5 2067L766.7 2071.4L770.8 2076.2L775 2081.3L779.1 2086.6L783.2 2092.3L787.3 2098.3L791.2 2104.7L795.2 2111.4L799 2118.4L802.8 2125.8L806.5 2133.5L810 2141.6L813.4 2150.1L816.7 2158.9L819.7 2168L822.6 2177.4L825.2 2187.2L827.6 2197.3L829.6 2207.7L831.4 2218.2L832.7 2228.7L833.5 2238.9L833.7 2248.8L833.2 2258.2L832.1 2266.8L830.1 2274.5L827.3 2281.3L823.7 2287L819.5 2291.9L814.6 2296L809.3 2299.4L803.5 2302.2L797.5 2304.5L791.3 2306.4L785 2308L778.6 2309.2L772.2 2310.3L765.7 2311.1L759.2 2311.8L752.6 2312.4L746.1 2312.9L739.6 2313.4L733.1 2313.8L726.6 2314.3L720.2 2314.7L713.7 2315L707.3 2315.3L700.9 2315.6L694.5 2315.7L688.2 2315.8L681.8 2315.7L675.4 2315.6L669 2315.4L662.5 2315.1L656.1 2314.8L649.6 2314.5L643.1 2314.2L636.5 2314L629.9 2313.8L623.2 2313.6L616.6 2313.3L610 2312.9L603.4 2312.3L596.8 2311.5L590.4 2310.4L584 2308.9L577.8 2307L571.8 2304.6L566.2 2301.6L560.9 2298L556.2 2293.6L552 2288.4L548.6 2282.4L545.9 2275.3L544.1 2267.3L543.1 2258.3L542.9 2248.7L543.2 2238.6L544 2228.2L545.3 2217.7L547 2207.2L548.9 2196.9L551 2187.1L553.3 2177.6L555.8 2168.4L558.5 2159.6L561.4 2151.1L564.6 2142.9L568.1 2135L571.9 2127.3L575.9 2119.7L580.2 2112.4L584.7 2105.4L589.3 2098.7L593.9 2092.3L598.4 2086.2L602.9 2080.5L607.2 2075.2L611.4 2070.4L615.3 2066L619 2061.9L622.5 2058.3L625.9 2054.9L629.2 2051.8L632.3 2049L635.4 2046.4L638.4 2044L641.4 2041.8L644.2 2039.8L647 2037.9L649.7 2036.3L652.3 2034.7L654.8 2033.4L657.1 2032.1L659.4 2031L661.4 2030L663.3 2029.1L664.8 2028.3L666 2027.5L666.8 2026.7L667.1 2026L666.8 2025.3L666.1 2024.5L664.7 2023.7L662.9 2022.8L660.7 2021.9L658 2020.8L654.9 2019.6L651.6 2018.1L647.9 2016.5L644 2014.7L639.9 2012.6L635.5 2010.3L630.8 2007.7L626 2004.7L620.9 2001.5L615.5 1997.8L609.9 1993.8L604.1 1989.4L598.1 1984.6L591.9 1979.4L585.7 1973.8L579.4 1967.8L573 1961.4L566.8 1954.6L560.6 1947.5L554.6 1940L548.7 1932.1L543 1923.9L537.5 1915.4L532.3 1906.5L527.4 1897.3L522.7 1887.9L518.4 1878.2L514.4 1868.2L510.8 1858.1L507.6 1847.7L504.8 1837.1L502.4 1826.4L500.4 1815.5L498.8 1804.5L497.7 1793.5L497.1 1782.3L497 1771.2L497.3 1760L498.1 1748.9L499.4 1737.8L501.1 1726.7L503.4 1715.8L506.1 1705L509.4 1694.3L513.2 1683.8L517.5 1673.4L522.6 1663.1L528.4 1652.9L534.9 1642.8L542.3 1632.7L550.5 1622.7L559.8 1612.7L570.5 1602.9L583 1593.6L597.7 1584.8L615.2 1576.9L635.8 1569.8L660 1564L688.1 1559.5" stroke="#00ffff" stroke-width="6.2" fill="none" stroke-linejoin="round"/>
<polygon points="674.6,1560.5 696.2,1547 696.2,1574" fill="#fff" stroke="#ff00ff" stroke-width="1.5"/><polygon points="688.1,1552.1 696.2,1547 696.2,1574 688.1,1568.9" fill="#ff00ff"/>
<polygon points="753.3,1581.8 775,1568.4 775,1595.3" fill="#fff" stroke="#ff00ff" stroke-width="1.5"/><polygon points="766.9,1573.4 775,1568.4 775,1595.3 766.9,1590.3" fill="#ff00ff"/>
<polygon points="813.8,1645.4 835.5,1631.9 835.5,1658.9" fill="#fff" stroke="#ff00ff" stroke-width="1.5"/><polygon points="827.4,1636.9 835.5,1631.9 835.5,1658.9 827.4,1653.8" fill="#ff00ff"/>
<polygon points="845.5,1731.5 867.1,1718 867.1,1745" fill="#fff" stroke="#ff00ff" stroke-width="1.5"/><polygon points="859,1723 867.1,1718 867.1,1745 859,1739.9" fill="#ff00ff"/>
<polygon points="847.8,1820.4 869.5,1806.9 869.5,1833.9" fill="#fff" stroke="#ff00ff" stroke-width="1.5"/><polygon points="861.4,1812 869.5,1806.9 869.5,1833.9 861.4,1828.9" fill="#ff00ff"/>
<polygon points="821.1,1903.4 842.8,1889.9 842.8,1916.9" fill="#fff" stroke="#ff00ff" stroke-width="1.5"/><polygon points="834.7,1894.9 842.8,1889.9 842.8,1916.9 834.7,1911.8" fill="#ff00ff"/>
<polygon points="781,1964.5 802.7,1951 802.7,1977.9" fill="#fff" stroke="#ff00ff" stroke-width="1.5"/><polygon points="794.6,1956 802.7,1951 802.7,1977.9 794.6,1972.9" fill="#ff00ff"/>
<polygon points="735.6,2003.4 757.3,1990 757.3,2016.9" fill="#fff" stroke="#ff00ff" stroke-width="1.5"/><polygon points="749.2,1995 757.3,1990 757.3,2016.9 749.2,2011.9" fill="#ff00ff"/>
<polygon points="694.4,2022 716.1,2008.5 716.1,2035.5" fill="#fff" stroke="#ff00ff" stroke-width="1.5"/><polygon points="708,2013.6 716.1,2008.5 716.1,2035.5 708,2030.5" fill="#ff00ff"/>
<polygon points="684.6,2025.5 706.3,2012 706.3,2039" fill="#fff" stroke="#ff00ff" stroke-width="1.5"/><polygon points="698.2,2017.1 706.3,2012 706.3,2039 698.2,2033.9" fill="#ff00ff"/>
<polygon points="696.4,2029.3 718.1,2015.8 718.1,2042.8" fill="#fff" stroke="#ff00ff" stroke-width="1.5"/><polygon points="710,2020.9 718.1,2015.8 718.1,2042.8 710,2037.8" fill="#ff00ff"/>
<polygon points="726.6,2044.3 748.3,2030.8 748.3,2057.8" fill="#fff" stroke="#ff00ff" stroke-width="1.5"/><polygon points="740.2,2035.9 748.3,2030.8 748.3,2057.8 740.2,2052.8" fill="#ff00ff"/>
<polygon points="766.1,2078 787.8,2064.5 787.8,2091.5" fill="#fff" stroke="#ff00ff" stroke-width="1.5"/><polygon points="779.7,2069.6 787.8,2064.5 787.8,2091.5 779.7,2086.4" fill="#ff00ff"/>
<polygon points="805.7,2134.8 827.3,2121.3 827.3,2148.3" fill="#fff" stroke="#ff00ff" stroke-width="1.5"/><polygon points="819.3,2126.3 827.3,2121.3 827.3,2148.3 819.3,2143.2" fill="#ff00ff"/>
<polygon points="826.6,2205.5 848.3,2192 848.3,2219" fill="#fff" stroke="#ff00ff" stroke-width="1.5"/><polygon points="840.2,2197.1 848.3,2192 848.3,2219 840.2,2214" fill="#ff00ff"/>
<polygon points="815.3,2267.6 836.9,2254.1 836.9,2281" fill="#fff" stroke="#ff00ff" stroke-width="1.5"/><polygon points="828.8,2259.1 836.9,2254.1 836.9,2281 828.8,2276" fill="#ff00ff"/>
<polygon points="772.3,2292.3 794,2278.8 794,2305.8" fill="#fff" stroke="#ff00ff" stroke-width="1.5"/><polygon points="785.9,2283.8 794,2278.8 794,2305.8 785.9,2300.7" fill="#ff00ff"/>
<polygon points="721.9,2292.4 743.6,2278.9 743.6,2305.9" fill="#fff" stroke="#ff00ff" stroke-width="1.5"/><polygon points="735.5,2283.9 743.6,2278.9 743.6,2305.9 735.5,2300.8" fill="#ff00ff"/>
<polygon points="674.6,2296.5 696.2,2283 696.2,2310" fill="#fff" stroke="#ff00ff" stroke-width="1.5"/><polygon points="688.1,2288.1 696.2,2283 696.2,2310 688.1,2304.9" fill="#ff00ff"/>
<polygon points="627.2,2292.4 648.9,2278.9 648.9,2305.9" fill="#fff" stroke="#ff00ff" stroke-width="1.5"/><polygon points="640.8,2283.9 648.9,2278.9 648.9,2305.9 640.8,2300.8" fill="#ff00ff"/>
<polygon points="579.2,2285.7 600.9,2272.2 600.9,2299.2" fill="#fff" stroke="#ff00ff" stroke-width="1.5"/><polygon points="592.8,2277.3 600.9,2272.2 600.9,2299.2 592.8,2294.2" fill="#ff00ff"/>
<polygon points="539.9,2257.2 561.6,2243.7 561.6,2270.6" fill="#fff" stroke="#ff00ff" stroke-width="1.5"/><polygon points="553.5,2248.7 561.6,2243.7 561.6,2270.6 553.5,2265.6" fill="#ff00ff"/>
<polygon points="522.5,2205.5 544.2,2192 544.2,2219" fill="#fff" stroke="#ff00ff" stroke-width="1.5"/><polygon points="536.1,2197.1 544.2,2192 544.2,2219 536.1,2214" fill="#ff00ff"/>
<polygon points="536.8,2140.4 558.4,2126.9 558.4,2153.9" fill="#fff" stroke="#ff00ff" stroke-width="1.5"/><polygon points="550.3,2131.9 558.4,2126.9 558.4,2153.9 550.3,2148.8" fill="#ff00ff"/>
<polygon points="579.9,2079.8 601.6,2066.3 601.6,2093.3" fill="#fff" stroke="#ff00ff" stroke-width="1.5"/><polygon points="593.5,2071.4 601.6,2066.3 601.6,2093.3 593.5,2088.2" fill="#ff00ff"/>
<polygon points="617.8,2046 639.5,2032.5 639.5,2059.5" fill="#fff" stroke="#ff00ff" stroke-width="1.5"/><polygon points="631.4,2037.6 639.5,2032.5 639.5,2059.5 631.4,2054.5" fill="#ff00ff"/>
<polygon points="644.8,2030.7 666.5,2017.2 666.5,2044.2" fill="#fff" stroke="#ff00ff" stroke-width="1.5"/><polygon points="658.4,2022.3 666.5,2017.2 666.5,2044.2 658.4,2039.2" fill="#ff00ff"/>
<polygon points="662.5,2025.5 684.2,2012 684.2,2039" fill="#fff" stroke="#ff00ff" stroke-width="1.5"/><polygon points="676.1,2017.1 684.2,2012 684.2,2039 676.1,2033.9" fill="#ff00ff"/>
<polygon points="642.8,2019.9 664.5,2006.5 664.5,2033.4" fill="#fff" stroke="#ff00ff" stroke-width="1.5"/><polygon points="656.4,2011.5 664.5,2006.5 664.5,2033.4 656.4,2028.4" fill="#ff00ff"/>
<polygon points="603.6,1999.8 625.3,1986.4 625.3,2013.3" fill="#fff" stroke="#ff00ff" stroke-width="1.5"/><polygon points="617.2,1991.4 625.3,1986.4 625.3,2013.3 617.2,2008.3" fill="#ff00ff"/>
<polygon points="552.5,1955.5 574.2,1942 574.2,1969" fill="#fff" stroke="#ff00ff" stroke-width="1.5"/><polygon points="566.1,1947.1 574.2,1942 574.2,1969 566.1,1963.9" fill="#ff00ff"/>
<polygon points="508.8,1887.3 530.4,1873.8 530.4,1900.8" fill="#fff" stroke="#ff00ff" stroke-width="1.5"/><polygon points="522.3,1878.9 530.4,1873.8 530.4,1900.8 522.3,1895.8" fill="#ff00ff"/>
<polygon points="483.7,1799.5 505.3,1786 505.3,1813" fill="#fff" stroke="#ff00ff" stroke-width="1.5"/><polygon points="497.3,1791.1 505.3,1786 505.3,1813 497.3,1808" fill="#ff00ff"/>
<polygon points="489.3,1706.8 511,1693.3 511,1720.3" fill="#fff" stroke="#ff00ff" stroke-width="1.5"/><polygon points="502.9,1698.4 511,1693.3 511,1720.3 502.9,1715.3" fill="#ff00ff"/>
<polygon points="527.9,1625.2 549.6,1611.7 549.6,1638.7" fill="#fff" stroke="#ff00ff" stroke-width="1.5"/><polygon points="541.5,1616.7 549.6,1611.7 549.6,1638.7 541.5,1633.6" fill="#ff00ff"/>
<polygon points="593.8,1570.5 615.5,1557 615.5,1584" fill="#fff" stroke="#ff00ff" stroke-width="1.5"/><polygon points="607.4,1562.1 615.5,1557 615.5,1584 607.4,1579" fill="#ff00ff"/>
<path d="M688.1 1560.5L715.5 1569L738.7 1578.3L758.3 1588.3L774.7 1598.8L788.4 1609.8L799.8 1621.1L809.4 1632.5L817.6 1643.9L824.8 1655.1L831.1 1666.3L836.6 1677.3L841.4 1688.3L845.5 1699.2L848.9 1710.1L851.8 1721L854.2 1732L856.1 1742.9L857.5 1753.9L858.5 1764.9L859 1775.9L859.1 1786.9L858.7 1797.8L857.8 1808.6L856.5 1819.4L854.8 1830.1L852.6 1840.7L850.1 1851.1L847.1 1861.3L843.9 1871.3L840.3 1881.1L836.5 1890.6L832.4 1899.7L828.2 1908.6L823.7 1917L819.1 1925.2L814.2 1933L809.3 1940.5L804.2 1947.6L799 1954.3L793.7 1960.8L788.3 1966.9L782.9 1972.6L777.4 1978L771.9 1983.1L766.3 1987.8L760.8 1992.2L755.3 1996.3L749.9 2000L744.5 2003.5L739.2 2006.6L734.2 2009.4L729.3 2012L724.7 2014.3L720.5 2016.3L716.6 2018L713.2 2019.5L710.3 2020.8L707.8 2021.8L705.8 2022.7L704.2 2023.5L703 2024.1L702.3 2024.6L701.8 2025.1L701.8 2025.6L702.1 2026L702.7 2026.5L703.7 2027L704.9 2027.7L706.5 2028.3L708.4 2029.2L710.6 2030.1L713 2031.2L715.8 2032.4L718.8 2033.9L722.1 2035.6L725.6 2037.4L729.4 2039.5L733.3 2041.9L737.4 2044.5L741.7 2047.4L746.2 2050.6L750.7 2054.1L755.4 2057.9L760.1 2062L765 2066.5L769.8 2071.2L774.8 2076.4L779.7 2081.8L784.6 2087.7L789.5 2093.9L794.4 2100.4L799.1 2107.2L803.7 2114.3L808.1 2121.6L812.2 2129.2L816.2 2137.1L819.8 2145.2L823.1 2153.4L826.1 2161.9L828.8 2170.4L831 2179L832.9 2187.7L834.4 2196.5L835.5 2205.2L836.1 2213.9L836.3 2222.5L836 2230.9L835.1 2238.9L833.8 2246.5L831.8 2253.6L829.4 2260.1L826.3 2266L822.6 2271L818.3 2275.3L813.6 2278.9L808.5 2281.9L803 2284.4L797.3 2286.5L791.4 2288.1L785.3 2289.3L779.2 2290.3L773.1 2291.1L766.9 2291.6L760.7 2292L754.5 2292.4L748.3 2292.6L742.2 2292.8L736 2293.1L729.9 2293.3L723.9 2293.7L717.9 2294L711.9 2294.4L705.9 2294.7L700 2294.9L694.1 2295.1L688.2 2295.1L682.2 2295.1L676.3 2294.9L670.4 2294.6L664.5 2294.2L658.5 2293.8L652.6 2293.2L646.6 2292.6L640.7 2292L634.7 2291.3L628.8 2290.5L622.8 2289.6L616.9 2288.7L611 2287.6L605.1 2286.3L599.3 2284.9L593.6 2283.2L587.9 2281.3L582.4 2279.2L577 2276.7L571.9 2273.8L567 2270.6L562.4 2266.9L558.2 2262.7L554.5 2257.9L551.2 2252.6L548.3 2246.8L545.9 2240.6L544 2233.9L542.5 2226.9L541.5 2219.6L540.9 2212.1L540.7 2204.4L541 2196.6L541.7 2188.8L542.8 2180.9L544.4 2172.9L546.4 2164.9L548.9 2157L551.8 2149L555.2 2141.1L559 2133.3L563.1 2125.6L567.6 2118.1L572.4 2110.7L577.3 2103.6L582.4 2096.8L587.5 2090.4L592.6 2084.3L597.6 2078.6L602.6 2073.3L607.4 2068.4L612.1 2063.9L616.7 2059.7L621.1 2055.8L625.4 2052.3L629.6 2049.1L633.5 2046.2L637.4 2043.5L641 2041.1L644.5 2039L647.8 2037L651 2035.3L654 2033.8L656.8 2032.4L659.6 2031.2L662.1 2030.1L664.3 2029.2L666.3 2028.3L667.8 2027.5L669 2026.8L669.7 2026.1L669.9 2025.4L669.4 2024.8L668.5 2024L667 2023.3L665.1 2022.4L662.7 2021.4L659.9 2020.3L656.7 2019L653.2 2017.5L649.3 2015.8L645.2 2013.8L640.8 2011.6L636.2 2009.1L631.3 2006.3L626.1 2003.1L620.8 1999.6L615.2 1995.8L609.5 1991.6L603.6 1987L597.6 1982L591.6 1976.7L585.5 1970.9L579.4 1964.8L573.3 1958.4L567.3 1951.5L561.5 1944.3L555.7 1936.7L550.2 1928.8L544.8 1920.5L539.6 1911.9L534.6 1902.9L529.9 1893.6L525.5 1884L521.3 1874.1L517.5 1864L514 1853.5L510.8 1842.9L508.1 1832.1L505.7 1821.1L503.8 1809.9L502.4 1798.7L501.4 1787.4L500.9 1776L500.9 1764.6L501.4 1753.3L502.4 1742L503.9 1730.7L505.9 1719.6L508.4 1708.7L511.4 1697.8L515 1687.2L519.2 1676.6L524.1 1666.2L529.8 1655.9L536.2 1645.6L543.4 1635.4L551.5 1625.1L560.7 1614.9L571.2 1604.9L583.5 1595.3L598.1 1586.3L615.5 1578.2L636 1571L660 1565L688.1 1560.5" stroke="#ff00ff" stroke-width="6.2" fill="none" stroke-linejoin="round"/>
<polygon points="702.3,1561.5 680.7,1575 680.7,1548" fill="#fff" stroke="#ffff00" stroke-width="1.5"/><polygon points="702.3,1561.5 688.1,1570.3 688.1,1552.7" fill="#ffff00"/>
<polygon points="781.1,1581.3 759.6,1594.7 759.6,1567.8" fill="#fff" stroke="#ffff00" stroke-width="1.5"/><polygon points="781.1,1581.3 767,1590.1 767,1572.4" fill="#ffff00"/>
<polygon points="842.4,1643 820.8,1656.5 820.8,1629.6" fill="#fff" stroke="#ffff00" stroke-width="1.5"/><polygon points="842.4,1643 828.3,1651.9 828.3,1634.2" fill="#ffff00"/>
<polygon points="874.4,1729.3 852.9,1742.8 852.9,1715.8" fill="#fff" stroke="#ffff00" stroke-width="1.5"/><polygon points="874.4,1729.3 860.3,1738.2 860.3,1720.5" fill="#ffff00"/>
<polygon points="877.1,1818.5 855.6,1832 855.6,1805" fill="#fff" stroke="#ffff00" stroke-width="1.5"/><polygon points="877.1,1818.5 863,1827.3 863,1809.7" fill="#ffff00"/>
<polygon points="850.7,1901.8 829.2,1915.2 829.2,1888.3" fill="#fff" stroke="#ffff00" stroke-width="1.5"/><polygon points="850.7,1901.8 836.6,1910.6 836.6,1892.9" fill="#ffff00"/>
<polygon points="810.9,1963.2 789.3,1976.7 789.3,1949.7" fill="#fff" stroke="#ffff00" stroke-width="1.5"/><polygon points="810.9,1963.2 796.8,1972 796.8,1954.4" fill="#ffff00"/>
<polygon points="765.7,2002.6 744.1,2016.1 744.1,1989.1" fill="#fff" stroke="#ffff00" stroke-width="1.5"/><polygon points="765.7,2002.6 751.5,2011.4 751.5,1993.7" fill="#ffff00"/>
<polygon points="730,2020.6 708.5,2034.1 708.5,2007.2" fill="#fff" stroke="#ffff00" stroke-width="1.5"/><polygon points="730,2020.6 715.9,2029.5 715.9,2011.8" fill="#ffff00"/>
<polygon points="714.4,2025.5 692.8,2039 692.8,2012" fill="#fff" stroke="#ffff00" stroke-width="1.5"/><polygon points="714.4,2025.5 700.2,2034.3 700.2,2016.7" fill="#ffff00"/>
<polygon points="732,2030.7 710.5,2044.2 710.5,2017.2" fill="#fff" stroke="#ffff00" stroke-width="1.5"/><polygon points="732,2030.7 717.9,2039.5 717.9,2021.9" fill="#ffff00"/>
<polygon points="760.9,2046.7 739.4,2060.2 739.4,2033.2" fill="#fff" stroke="#ffff00" stroke-width="1.5"/><polygon points="760.9,2046.7 746.8,2055.5 746.8,2037.9" fill="#ffff00"/>
<polygon points="806.9,2085.5 785.3,2099 785.3,2072" fill="#fff" stroke="#ffff00" stroke-width="1.5"/><polygon points="806.9,2085.5 792.8,2094.3 792.8,2076.7" fill="#ffff00"/>
<polygon points="848.8,2147.6 827.2,2161.1 827.2,2134.1" fill="#fff" stroke="#ffff00" stroke-width="1.5"/><polygon points="848.8,2147.6 834.7,2156.5 834.7,2138.8" fill="#ffff00"/>
<polygon points="860.8,2213.2 839.2,2226.7 839.2,2199.7" fill="#fff" stroke="#ffff00" stroke-width="1.5"/><polygon points="860.8,2213.2 846.7,2222 846.7,2204.3" fill="#ffff00"/>
<polygon points="831.8,2248.4 810.3,2261.9 810.3,2234.9" fill="#fff" stroke="#ffff00" stroke-width="1.5"/><polygon points="831.8,2248.4 817.7,2257.2 817.7,2239.6" fill="#ffff00"/>
<polygon points="791.7,2269.6 770.1,2283 770.1,2256.1" fill="#fff" stroke="#ffff00" stroke-width="1.5"/><polygon points="791.7,2269.6 777.6,2278.4 777.6,2260.7" fill="#ffff00"/>
<polygon points="747.9,2282.3 726.3,2295.8 726.3,2268.9" fill="#fff" stroke="#ffff00" stroke-width="1.5"/><polygon points="747.9,2282.3 733.7,2291.2 733.7,2273.5" fill="#ffff00"/>
<polygon points="702.3,2286.3 680.7,2299.8 680.7,2272.8" fill="#fff" stroke="#ffff00" stroke-width="1.5"/><polygon points="702.3,2286.3 688.1,2295.1 688.1,2277.5" fill="#ffff00"/>
<polygon points="656.7,2282.3 635.1,2295.8 635.1,2268.9" fill="#fff" stroke="#ffff00" stroke-width="1.5"/><polygon points="656.7,2282.3 642.6,2291.2 642.6,2273.5" fill="#ffff00"/>
<polygon points="612.9,2269.6 591.3,2283 591.3,2256.1" fill="#fff" stroke="#ffff00" stroke-width="1.5"/><polygon points="612.9,2269.6 598.7,2278.4 598.7,2260.7" fill="#ffff00"/>
<polygon points="572.7,2248.4 551.1,2261.9 551.1,2234.9" fill="#fff" stroke="#ffff00" stroke-width="1.5"/><polygon points="572.7,2248.4 558.6,2257.2 558.6,2239.6" fill="#ffff00"/>
<polygon points="540.5,2217 518.9,2230.5 518.9,2203.5" fill="#fff" stroke="#ffff00" stroke-width="1.5"/><polygon points="540.5,2217 526.4,2225.8 526.4,2208.2" fill="#ffff00"/>
<polygon points="551.3,2151.4 529.7,2164.8 529.7,2137.9" fill="#fff" stroke="#ffff00" stroke-width="1.5"/><polygon points="551.3,2151.4 537.2,2160.2 537.2,2142.5" fill="#ffff00"/>
<polygon points="591,2089.3 569.4,2102.8 569.4,2075.9" fill="#fff" stroke="#ffff00" stroke-width="1.5"/><polygon points="591,2089.3 576.8,2098.2 576.8,2080.5" fill="#ffff00"/>
<polygon points="633.6,2050.3 612,2063.8 612,2036.8" fill="#fff" stroke="#ffff00" stroke-width="1.5"/><polygon points="633.6,2050.3 619.5,2059.2 619.5,2041.5" fill="#ffff00"/>
<polygon points="667.6,2031.6 646,2045.1 646,2018.1" fill="#fff" stroke="#ffff00" stroke-width="1.5"/><polygon points="667.6,2031.6 653.5,2040.4 653.5,2022.7" fill="#ffff00"/>
<polygon points="692.2,2025.5 670.6,2039 670.6,2012" fill="#fff" stroke="#ffff00" stroke-width="1.5"/><polygon points="692.2,2025.5 678.1,2034.3 678.1,2016.7" fill="#ffff00"/>
<polygon points="672.5,2020.3 651,2033.8 651,2006.8" fill="#fff" stroke="#ffff00" stroke-width="1.5"/><polygon points="672.5,2020.3 658.4,2029.1 658.4,2011.5" fill="#ffff00"/>
<polygon points="636.1,2001.6 614.5,2015 614.5,1988.1" fill="#fff" stroke="#ffff00" stroke-width="1.5"/><polygon points="636.1,2001.6 621.9,2010.4 621.9,1992.7" fill="#ffff00"/>
<polygon points="587.2,1959.5 565.6,1973 565.6,1946" fill="#fff" stroke="#ffff00" stroke-width="1.5"/><polygon points="587.2,1959.5 573.1,1968.3 573.1,1950.7" fill="#ffff00"/>
<polygon points="544.2,1893.7 522.6,1907.2 522.6,1880.2" fill="#fff" stroke="#ffff00" stroke-width="1.5"/><polygon points="544.2,1893.7 530.1,1902.6 530.1,1884.9" fill="#ffff00"/>
<polygon points="521.1,1811 499.5,1824.5 499.5,1797.5" fill="#fff" stroke="#ffff00" stroke-width="1.5"/><polygon points="521.1,1811 507,1819.8 507,1802.2" fill="#ffff00"/>
<polygon points="521.1,1713.7 499.5,1727.2 499.5,1700.2" fill="#fff" stroke="#ffff00" stroke-width="1.5"/><polygon points="521.1,1713.7 506.9,1722.6 506.9,1704.9" fill="#ffff00"/>
<polygon points="557.7,1630.8 536.1,1644.3 536.1,1617.3" fill="#fff" stroke="#ffff00" stroke-width="1.5"/><polygon points="557.7,1630.8 543.5,1639.7 543.5,1622" fill="#ffff00"/>
<polygon points="621.8,1572 600.2,1585.5 600.2,1558.5" fill="#fff" stroke="#ffff00" stroke-width="1.5"/><polygon points="621.8,1572 607.6,1580.8 607.6,1563.2" fill="#ffff00"/>
<path d="M688.1 1561.5L715.5 1569.4L738.8 1578.2L758.5 1587.8L775.1 1598L788.8 1608.6L800.3 1619.6L810 1630.8L818.3 1642L825.6 1653.1L832 1664.2L837.6 1675.2L842.4 1686.1L846.6 1697L850.1 1707.9L853 1718.9L855.4 1729.8L857.4 1740.8L858.8 1751.8L859.9 1762.8L860.4 1773.9L860.5 1784.9L860.2 1795.8L859.4 1806.7L858.1 1817.5L856.4 1828.2L854.3 1838.9L851.8 1849.3L848.9 1859.6L845.7 1869.6L842.2 1879.4L838.4 1888.9L834.4 1898.1L830.1 1907L825.7 1915.5L821.1 1923.7L816.3 1931.6L811.4 1939.1L806.3 1946.2L801.1 1953.1L795.9 1959.5L790.5 1965.7L785.1 1971.4L779.7 1976.9L774.2 1982L768.8 1986.8L763.5 1991.2L758.3 1995.3L753.1 1999L748.2 2002.5L743.4 2005.6L738.7 2008.4L734.3 2010.9L730.2 2013.1L726.2 2015.1L722.6 2016.9L719.2 2018.4L716.2 2019.8L713.5 2020.9L711.1 2021.9L709.2 2022.8L707.6 2023.6L706.5 2024.3L705.9 2024.9L705.8 2025.6L706.2 2026.2L707 2026.9L708.3 2027.6L710 2028.3L712 2029.2L714.4 2030.2L717 2031.3L719.8 2032.5L722.8 2033.9L726 2035.5L729.3 2037.3L732.9 2039.4L736.8 2041.7L740.8 2044.3L745.1 2047.3L749.6 2050.5L754.5 2054.1L759.5 2058.1L764.7 2062.4L770.1 2067.1L775.5 2072.1L781 2077.5L786.6 2083.3L792.1 2089.4L797.5 2095.9L802.9 2102.7L808.1 2109.8L813.1 2117.2L817.8 2124.8L822.3 2132.7L826.5 2140.7L830.2 2148.8L833.6 2157.1L836.5 2165.4L838.9 2173.6L840.8 2181.7L842 2189.5L842.7 2197L842.7 2204.1L842 2210.7L840.6 2216.7L838.5 2222.2L835.8 2227.2L832.7 2231.7L829.1 2235.9L825.1 2239.7L820.8 2243.3L816.4 2246.7L811.8 2249.9L807.1 2253L802.3 2255.9L797.4 2258.6L792.4 2261.2L787.3 2263.7L782.2 2266L777 2268.2L771.7 2270.2L766.4 2272.1L761 2273.9L755.5 2275.6L750.1 2277.1L744.6 2278.5L739 2279.8L733.4 2280.9L727.8 2281.8L722.2 2282.7L716.6 2283.4L710.9 2284L705.2 2284.4L699.5 2284.7L693.8 2284.9L688.2 2285L682.5 2284.9L676.8 2284.7L671.1 2284.4L665.4 2284L659.7 2283.4L654.1 2282.7L648.5 2281.8L642.9 2280.9L637.3 2279.8L631.7 2278.5L626.2 2277.1L620.8 2275.6L615.3 2273.9L609.9 2272.1L604.6 2270.2L599.3 2268.2L594.1 2266L589 2263.7L583.9 2261.2L578.8 2258.7L573.9 2256L569 2253.2L564.1 2250.3L559.4 2247.3L554.7 2244.2L550.2 2241L545.9 2237.4L542 2233.6L538.5 2229.4L535.5 2224.8L533.1 2219.6L531.4 2213.9L530.4 2207.5L530.2 2200.5L530.6 2193.1L531.7 2185.4L533.4 2177.3L535.6 2169.1L538.3 2160.9L541.4 2152.6L545 2144.4L548.9 2136.4L553.1 2128.6L557.6 2121L562.3 2113.6L567.2 2106.5L572.2 2099.7L577.3 2093.2L582.5 2087L587.7 2081.3L592.9 2075.8L598 2070.7L603.1 2066L608.2 2061.6L613.2 2057.5L618 2053.7L622.7 2050.3L627.3 2047.1L631.8 2044.2L636.1 2041.6L640.3 2039.3L644.3 2037.2L648.2 2035.3L651.9 2033.7L655.5 2032.2L658.8 2031L661.9 2029.8L664.6 2028.8L667 2027.9L668.8 2027.1L670.1 2026.4L670.7 2025.6L670.7 2024.9L670 2024.2L668.8 2023.5L667 2022.6L664.7 2021.7L662 2020.6L659 2019.4L655.6 2018L652 2016.4L648.1 2014.6L643.9 2012.5L639.6 2010.2L635 2007.5L630.1 2004.6L625.1 2001.3L619.9 1997.7L614.4 1993.7L608.9 1989.3L603.2 1984.6L597.4 1979.5L591.5 1974.1L585.7 1968.3L579.8 1962.1L574 1955.5L568.4 1948.6L562.8 1941.3L557.4 1933.7L552.1 1925.8L547 1917.5L542.2 1908.9L537.7 1900L533.4 1890.9L529.4 1881.5L525.7 1871.8L522.4 1861.9L519.4 1851.7L516.7 1841.3L514.4 1830.6L512.4 1819.7L510.8 1808.6L509.5 1797.2L508.7 1785.7L508.2 1774.1L508.2 1762.4L508.6 1750.7L509.6 1739L511 1727.5L513 1716.1L515.6 1705L518.8 1694L522.7 1683.2L527.2 1672.5L532.6 1661.8L538.7 1651.2L545.6 1640.6L553.5 1629.9L562.3 1619.2L572.5 1608.7L584.6 1598.5L598.9 1589L616 1580.2L636.3 1572.6L660.2 1566.3L688.1 1561.5" stroke="#ffff00" stroke-width="6.2" fill="none" stroke-linejoin="round"/>
<polygon points="688.1,1549.7 699.3,1556.1 699.3,1568.9 688.1,1575.3 677,1568.9 677,1556.1" fill="#fff" stroke="#808000" stroke-width="1.5"/><polygon points="688.1,1549.7 699.3,1556.1 699.3,1568.9 688.1,1575.3 688.1,1575.3 688.1,1549.7" fill="#808000"/>
<polygon points="767.1,1567.8 778.2,1574.2 778.2,1587.1 767.1,1593.5 756,1587.1 756,1574.2" fill="#fff" stroke="#808000" stroke-width="1.5"/><polygon points="767.1,1567.8 778.2,1574.2 778.2,1587.1 767.1,1593.5 767.1,1593.5 767.1,1567.8" fill="#808000"/>
<polygon points="829.3,1627.4 840.4,1633.8 840.4,1646.6 829.3,1653.1 818.2,1646.6 818.2,1633.8" fill="#fff" stroke="#808000" stroke-width="1.5"/><polygon points="829.3,1627.4 840.4,1633.8 840.4,1646.6 829.3,1653.1 829.3,1653.1 829.3,1627.4" fill="#808000"/>
<polygon points="861.8,1713.9 872.9,1720.3 872.9,1733.1 861.8,1739.6 850.7,1733.1 850.7,1720.3" fill="#fff" stroke="#808000" stroke-width="1.5"/><polygon points="861.8,1713.9 872.9,1720.3 872.9,1733.1 861.8,1739.6 861.8,1739.6 861.8,1713.9" fill="#808000"/>
<polygon points="864.9,1803.4 876.1,1809.8 876.1,1822.6 864.9,1829.1 853.8,1822.6 853.8,1809.8" fill="#fff" stroke="#808000" stroke-width="1.5"/><polygon points="864.9,1803.4 876.1,1809.8 876.1,1822.6 864.9,1829.1 864.9,1829.1 864.9,1803.4" fill="#808000"/>
<polygon points="838.9,1887 850,1893.4 850,1906.3 838.9,1912.7 827.8,1906.3 827.8,1893.4" fill="#fff" stroke="#808000" stroke-width="1.5"/><polygon points="838.9,1887 850,1893.4 850,1906.3 838.9,1912.7 838.9,1912.7 838.9,1887" fill="#808000"/>
<polygon points="799.4,1948.9 810.5,1955.3 810.5,1968.1 799.4,1974.5 788.3,1968.1 788.3,1955.3" fill="#fff" stroke="#808000" stroke-width="1.5"/><polygon points="799.4,1948.9 810.5,1955.3 810.5,1968.1 799.4,1974.5 799.4,1974.5 799.4,1948.9" fill="#808000"/>
<polygon points="754.4,1988.7 765.5,1995.1 765.5,2008 754.4,2014.4 743.3,2008 743.3,1995.1" fill="#fff" stroke="#808000" stroke-width="1.5"/><polygon points="754.4,1988.7 765.5,1995.1 765.5,2008 754.4,2014.4 754.4,2014.4 754.4,1988.7" fill="#808000"/>
<polygon points="722.8,2006.6 734,2013 734,2025.8 722.8,2032.3 711.7,2025.8 711.7,2013" fill="#fff" stroke="#808000" stroke-width="1.5"/><polygon points="722.8,2006.6 734,2013 734,2025.8 722.8,2032.3 722.8,2032.3 722.8,2006.6" fill="#808000"/>
<polygon points="716.3,2012.7 727.5,2019.1 727.5,2031.9 716.3,2038.3 705.2,2031.9 705.2,2019.1" fill="#fff" stroke="#808000" stroke-width="1.5"/><polygon points="716.3,2012.7 727.5,2019.1 727.5,2031.9 716.3,2038.3 716.3,2038.3 716.3,2012.7" fill="#808000"/>
<polygon points="727.8,2019.6 738.9,2026 738.9,2038.9 727.8,2045.3 716.7,2038.9 716.7,2026" fill="#fff" stroke="#808000" stroke-width="1.5"/><polygon points="727.8,2019.6 738.9,2026 738.9,2038.9 727.8,2045.3 727.8,2045.3 727.8,2019.6" fill="#808000"/>
<polygon points="755.5,2037 766.6,2043.4 766.6,2056.3 755.5,2062.7 744.4,2056.3 744.4,2043.4" fill="#fff" stroke="#808000" stroke-width="1.5"/><polygon points="755.5,2037 766.6,2043.4 766.6,2056.3 755.5,2062.7 755.5,2062.7 755.5,2037" fill="#808000"/>
<polygon points="803.8,2079 814.9,2085.4 814.9,2098.2 803.8,2104.6 792.6,2098.2 792.6,2085.4" fill="#fff" stroke="#808000" stroke-width="1.5"/><polygon points="803.8,2079 814.9,2085.4 814.9,2098.2 803.8,2104.6 803.8,2104.6 803.8,2079" fill="#808000"/>
<polygon points="846.6,2144.8 857.7,2151.2 857.7,2164 846.6,2170.4 835.5,2164 835.5,2151.2" fill="#fff" stroke="#808000" stroke-width="1.5"/><polygon points="846.6,2144.8 857.7,2151.2 857.7,2164 846.6,2170.4 846.6,2170.4 846.6,2144.8" fill="#808000"/>
<polygon points="840.2,2192.7 851.3,2199.1 851.3,2211.9 840.2,2218.4 829.1,2211.9 829.1,2199.1" fill="#fff" stroke="#808000" stroke-width="1.5"/><polygon points="840.2,2192.7 851.3,2199.1 851.3,2211.9 840.2,2218.4 840.2,2218.4 840.2,2192.7" fill="#808000"/>
<polygon points="808.8,2220.3 819.9,2226.7 819.9,2239.5 808.8,2246 797.7,2239.5 797.7,2226.7" fill="#fff" stroke="#808000" stroke-width="1.5"/><polygon points="808.8,2220.3 819.9,2226.7 819.9,2239.5 808.8,2246 808.8,2246 808.8,2220.3" fill="#808000"/>
<polygon points="771.2,2239.3 782.3,2245.7 782.3,2258.5 771.2,2264.9 760.1,2258.5 760.1,2245.7" fill="#fff" stroke="#808000" stroke-width="1.5"/><polygon points="771.2,2239.3 782.3,2245.7 782.3,2258.5 771.2,2264.9 771.2,2264.9 771.2,2239.3" fill="#808000"/>
<polygon points="730.4,2250.5 741.5,2256.9 741.5,2269.7 730.4,2276.2 719.3,2269.7 719.3,2256.9" fill="#fff" stroke="#808000" stroke-width="1.5"/><polygon points="730.4,2250.5 741.5,2256.9 741.5,2269.7 730.4,2276.2 730.4,2276.2 730.4,2250.5" fill="#808000"/>
<polygon points="688.1,2254.2 699.3,2260.6 699.3,2273.4 688.1,2279.8 677,2273.4 677,2260.6" fill="#fff" stroke="#808000" stroke-width="1.5"/><polygon points="688.1,2254.2 699.3,2260.6 699.3,2273.4 688.1,2279.8 688.1,2279.8 688.1,2254.2" fill="#808000"/>
<polygon points="645.9,2250.5 657,2256.9 657,2269.7 645.9,2276.2 634.8,2269.7 634.8,2256.9" fill="#fff" stroke="#808000" stroke-width="1.5"/><polygon points="645.9,2250.5 657,2256.9 657,2269.7 645.9,2276.2 645.9,2276.2 645.9,2250.5" fill="#808000"/>
<polygon points="605.1,2239.3 616.2,2245.7 616.2,2258.5 605.1,2264.9 594,2258.5 594,2245.7" fill="#fff" stroke="#808000" stroke-width="1.5"/><polygon points="605.1,2239.3 616.2,2245.7 616.2,2258.5 605.1,2264.9 605.1,2264.9 605.1,2239.3" fill="#808000"/>
<polygon points="567.5,2220.3 578.6,2226.7 578.6,2239.5 567.5,2246 556.4,2239.5 556.4,2226.7" fill="#fff" stroke="#808000" stroke-width="1.5"/><polygon points="567.5,2220.3 578.6,2226.7 578.6,2239.5 567.5,2246 567.5,2246 567.5,2220.3" fill="#808000"/>
<polygon points="536.1,2192.7 547.2,2199.1 547.2,2211.9 536.1,2218.4 525,2211.9 525,2199.1" fill="#fff" stroke="#808000" stroke-width="1.5"/><polygon points="536.1,2192.7 547.2,2199.1 547.2,2211.9 536.1,2218.4 536.1,2218.4 536.1,2192.7" fill="#808000"/>
<polygon points="518.7,2153.9 529.8,2160.3 529.8,2173.1 518.7,2179.6 507.6,2173.1 507.6,2160.3" fill="#fff" stroke="#808000" stroke-width="1.5"/><polygon points="518.7,2153.9 529.8,2160.3 529.8,2173.1 518.7,2179.6 518.7,2179.6 518.7,2153.9" fill="#808000"/>
<polygon points="546,2094.2 557.2,2100.6 557.2,2113.4 546,2119.8 534.9,2113.4 534.9,2100.6" fill="#fff" stroke="#808000" stroke-width="1.5"/><polygon points="546,2094.2 557.2,2100.6 557.2,2113.4 546,2119.8 546,2119.8 546,2094.2" fill="#808000"/>
<polygon points="596.9,2045.7 608,2052.1 608,2064.9 596.9,2071.3 585.7,2064.9 585.7,2052.1" fill="#fff" stroke="#808000" stroke-width="1.5"/><polygon points="596.9,2045.7 608,2052.1 608,2064.9 596.9,2071.3 596.9,2071.3 596.9,2045.7" fill="#808000"/>
<polygon points="651.5,2019.1 662.6,2025.5 662.6,2038.3 651.5,2044.8 640.4,2038.3 640.4,2025.5" fill="#fff" stroke="#808000" stroke-width="1.5"/><polygon points="651.5,2019.1 662.6,2025.5 662.6,2038.3 651.5,2044.8 651.5,2044.8 651.5,2019.1" fill="#808000"/>
<polygon points="675.1,2012.7 686.2,2019.1 686.2,2031.9 675.1,2038.3 663.9,2031.9 663.9,2019.1" fill="#fff" stroke="#808000" stroke-width="1.5"/><polygon points="675.1,2012.7 686.2,2019.1 686.2,2031.9 675.1,2038.3 675.1,2038.3 675.1,2012.7" fill="#808000"/>
<polygon points="658.4,2007.5 669.5,2013.9 669.5,2026.7 658.4,2033.1 647.3,2026.7 647.3,2013.9" fill="#fff" stroke="#808000" stroke-width="1.5"/><polygon points="658.4,2007.5 669.5,2013.9 669.5,2026.7 658.4,2033.1 658.4,2033.1 658.4,2007.5" fill="#808000"/>
<polygon points="621.9,1988.7 633,1995.1 633,2008 621.9,2014.4 610.8,2008 610.8,1995.1" fill="#fff" stroke="#808000" stroke-width="1.5"/><polygon points="621.9,1988.7 633,1995.1 633,2008 621.9,2014.4 621.9,2014.4 621.9,1988.7" fill="#808000"/>
<polygon points="576.6,1948.7 587.7,1955.1 587.7,1967.9 576.6,1974.3 565.4,1967.9 565.4,1955.1" fill="#fff" stroke="#808000" stroke-width="1.5"/><polygon points="576.6,1948.7 587.7,1955.1 587.7,1967.9 576.6,1974.3 576.6,1974.3 576.6,1948.7" fill="#808000"/>
<polygon points="533.9,1884.1 545,1890.5 545,1903.4 533.9,1909.8 522.8,1903.4 522.8,1890.5" fill="#fff" stroke="#808000" stroke-width="1.5"/><polygon points="533.9,1884.1 545,1890.5 545,1903.4 533.9,1909.8 533.9,1909.8 533.9,1884.1" fill="#808000"/>
<polygon points="510.2,1802 521.3,1808.4 521.3,1821.3 510.2,1827.7 499.1,1821.3 499.1,1808.4" fill="#fff" stroke="#808000" stroke-width="1.5"/><polygon points="510.2,1802 521.3,1808.4 521.3,1821.3 510.2,1827.7 510.2,1827.7 510.2,1802" fill="#808000"/>
<polygon points="512,1709.6 523.1,1716 523.1,1728.8 512,1735.2 500.9,1728.8 500.9,1716" fill="#fff" stroke="#808000" stroke-width="1.5"/><polygon points="512,1709.6 523.1,1716 523.1,1728.8 512,1735.2 512,1735.2 512,1709.6" fill="#808000"/>
<polygon points="547.7,1629.3 558.8,1635.7 558.8,1648.5 547.7,1654.9 536.6,1648.5 536.6,1635.7" fill="#fff" stroke="#808000" stroke-width="1.5"/><polygon points="547.7,1629.3 558.8,1635.7 558.8,1648.5 547.7,1654.9 547.7,1654.9 547.7,1629.3" fill="#808000"/>
<polygon points="608.3,1562.6 619.4,1569 619.4,1581.9 608.3,1588.3 597.1,1581.9 597.1,1569" fill="#fff" stroke="#808000" stroke-width="1.5"/><polygon points="608.3,1562.6 619.4,1569 619.4,1581.9 608.3,1588.3 608.3,1588.3 608.3,1562.6" fill="#808000"/>
<path d="M688.1 1562.5L715.6 1569.8L739 1578.1L758.8 1587.2L775.4 1596.9L789.3 1607.2L801 1617.9L810.8 1628.8L819.2 1639.8L826.6 1650.7L833.1 1661.7L838.8 1672.6L843.7 1683.5L847.9 1694.4L851.5 1705.3L854.4 1716.2L856.9 1727.2L858.9 1738.2L860.4 1749.3L861.5 1760.4L862.2 1771.4L862.3 1782.4L862 1793.4L861.3 1804.4L860.1 1815.2L858.4 1826L856.3 1836.7L853.9 1847.1L851 1857.5L847.9 1867.5L844.4 1877.4L840.7 1887L836.7 1896.2L832.5 1905.1L828.1 1913.7L823.5 1922L818.8 1929.9L813.9 1937.4L808.9 1944.6L803.7 1951.5L798.5 1958L793.2 1964.2L787.8 1970.1L782.4 1975.6L777 1980.7L771.8 1985.5L766.6 1990L761.5 1994.1L756.6 1997.9L751.9 2001.3L747.5 2004.4L743.3 2007.3L739.4 2009.8L735.8 2012.1L732.5 2014.1L729.6 2015.9L727 2017.5L724.8 2018.9L723 2020.1L721.6 2021.2L720.5 2022.2L719.7 2023.2L719.3 2024L719.2 2024.8L719.3 2025.6L719.8 2026.5L720.5 2027.3L721.5 2028.2L722.8 2029.2L724.3 2030.3L726.1 2031.4L728.2 2032.7L730.5 2034.2L733.1 2035.8L735.9 2037.6L739 2039.6L742.4 2041.9L746.1 2044.4L750.1 2047.3L754.3 2050.4L758.9 2053.9L763.8 2057.8L769 2062.1L774.4 2066.8L779.9 2071.8L785.6 2077.3L791.4 2083.1L797.1 2089.2L802.9 2095.8L808.5 2102.7L814 2109.9L819.2 2117.3L824.1 2124.8L828.5 2132.4L832.4 2140L835.8 2147.4L838.4 2154.6L840.3 2161.6L841.5 2168.3L842 2174.7L841.9 2180.8L841.2 2186.6L839.9 2192.1L838.2 2197.3L836.1 2202.1L833.5 2206.7L830.6 2211L827.4 2215L823.9 2218.7L820.1 2222.2L816.2 2225.6L812 2228.7L807.8 2231.7L803.4 2234.5L799 2237.2L794.4 2239.8L789.8 2242.3L785.1 2244.6L780.4 2246.8L775.5 2248.9L770.7 2250.8L765.7 2252.6L760.8 2254.3L755.7 2255.9L750.7 2257.4L745.6 2258.7L740.5 2260L735.3 2261.1L730.1 2262.1L724.9 2262.9L719.7 2263.7L714.5 2264.3L709.2 2264.9L704 2265.3L698.7 2265.5L693.4 2265.7L688.1 2265.8L682.9 2265.7L677.6 2265.5L672.3 2265.3L667.1 2264.9L661.8 2264.3L656.6 2263.7L651.4 2262.9L646.2 2262.1L641 2261.1L635.8 2260L630.7 2258.7L625.6 2257.4L620.6 2255.9L615.5 2254.3L610.6 2252.6L605.6 2250.8L600.8 2248.9L595.9 2246.8L591.2 2244.6L586.5 2242.3L581.9 2239.8L577.3 2237.2L572.9 2234.5L568.5 2231.7L564.3 2228.7L560.1 2225.6L556.1 2222.3L552.2 2218.9L548.5 2215.3L544.9 2211.6L541.6 2207.7L538.4 2203.7L535.5 2199.4L532.8 2195L530.5 2190.3L528.6 2185.5L527.2 2180.3L526.2 2174.9L525.9 2169.2L526.2 2163.2L527.1 2156.9L528.8 2150.3L531 2143.6L533.8 2136.7L537.1 2129.7L541 2122.7L545.3 2115.7L550 2108.9L555 2102.2L560.4 2095.7L566.1 2089.5L572 2083.4L578.2 2077.7L584.5 2072.2L590.9 2067L597.5 2062.2L604.1 2057.6L610.7 2053.5L617.2 2049.6L623.6 2046.1L629.8 2042.9L635.6 2040L641.2 2037.5L646.3 2035.3L650.9 2033.4L655.1 2031.7L658.7 2030.3L661.8 2029.2L664.3 2028.1L666.3 2027.2L667.6 2026.4L668.4 2025.7L668.5 2025L668 2024.2L667 2023.5L665.5 2022.6L663.5 2021.7L661.1 2020.6L658.3 2019.4L655.1 2018L651.6 2016.4L647.9 2014.6L643.8 2012.5L639.6 2010.2L635.1 2007.6L630.4 2004.7L625.5 2001.5L620.4 1998L615.3 1994.2L610 1990L604.6 1985.5L599.1 1980.6L593.6 1975.3L588.1 1969.7L582.5 1963.8L577 1957.4L571.5 1950.7L566.1 1943.6L560.8 1936.1L555.7 1928.3L550.7 1920.2L545.9 1911.8L541.4 1903L537.1 1894L533.1 1884.7L529.4 1875.2L526 1865.3L523 1855.3L520.3 1845.1L518 1834.6L516 1823.9L514.4 1813.1L513.3 1802.1L512.5 1791L512.2 1779.9L512.3 1768.7L512.9 1757.5L514 1746.3L515.6 1735.3L517.6 1724.4L520.2 1713.7L523.4 1703.1L527.2 1692.6L531.7 1682.1L536.8 1671.5L542.7 1660.8L549.4 1649.9L556.9 1638.8L565.3 1627.4L575 1616L586.6 1604.9L600.5 1594.2L617.1 1584.4L636.9 1575.7L660.4 1568.3L688.1 1562.5" stroke="#808000" stroke-width="6.2" fill="none" stroke-linejoin="round"/>
<polygon points="688.1,1549.1 691.2,1558.3 700.9,1558.4 693.1,1564.1 696,1573.3 688.1,1567.7 680.3,1573.3 683.2,1564.1 675.4,1558.4 685.1,1558.3" fill="#fff" stroke="#000080" stroke-width="1.5"/><polygon points="688.1,1549.1 691.2,1558.3 700.9,1558.4 693.1,1564.1 696,1573.3 688.1,1567.7 688.1,1567.7 688.1,1549.1" fill="#000080"/>
<polygon points="767.2,1566.7 770.3,1575.9 780,1575.9 772.2,1581.7 775.1,1590.9 767.2,1585.3 759.3,1590.9 762.3,1581.7 754.5,1575.9 764.2,1575.9" fill="#fff" stroke="#000080" stroke-width="1.5"/><polygon points="767.2,1566.7 770.3,1575.9 780,1575.9 772.2,1581.7 775.1,1590.9 767.2,1585.3 767.2,1585.3 767.2,1566.7" fill="#000080"/>
<polygon points="830.4,1624 833.4,1633.2 843.1,1633.3 835.3,1639 838.2,1648.2 830.4,1642.6 822.5,1648.2 825.4,1639 817.6,1633.3 827.3,1633.2" fill="#fff" stroke="#000080" stroke-width="1.5"/><polygon points="830.4,1624 833.4,1633.2 843.1,1633.3 835.3,1639 838.2,1648.2 830.4,1642.6 830.4,1642.6 830.4,1624" fill="#000080"/>
<polygon points="868.3,1702.1 871.4,1711.2 881.1,1711.3 873.3,1717.1 876.2,1726.3 868.3,1720.7 860.5,1726.3 863.4,1717.1 855.6,1711.3 865.3,1711.2" fill="#fff" stroke="#000080" stroke-width="1.5"/><polygon points="868.3,1702.1 871.4,1711.2 881.1,1711.3 873.3,1717.1 876.2,1726.3 868.3,1720.7 868.3,1720.7 868.3,1702.1" fill="#000080"/>
<polygon points="870.6,1796.1 873.7,1805.3 883.4,1805.3 875.6,1811.1 878.5,1820.3 870.6,1814.7 862.8,1820.3 865.7,1811.1 857.9,1805.3 867.6,1805.3" fill="#fff" stroke="#000080" stroke-width="1.5"/><polygon points="870.6,1796.1 873.7,1805.3 883.4,1805.3 875.6,1811.1 878.5,1820.3 870.6,1814.7 870.6,1814.7 870.6,1796.1" fill="#000080"/>
<polygon points="850.4,1876.9 853.5,1886 863.1,1886.1 855.4,1891.9 858.3,1901.1 850.4,1895.5 842.5,1901.1 845.5,1891.9 837.7,1886.1 847.3,1886" fill="#fff" stroke="#000080" stroke-width="1.5"/><polygon points="850.4,1876.9 853.5,1886 863.1,1886.1 855.4,1891.9 858.3,1901.1 850.4,1895.5 850.4,1895.5 850.4,1876.9" fill="#000080"/>
<polygon points="814,1940 817,1949.1 826.7,1949.2 818.9,1955 821.8,1964.2 814,1958.6 806.1,1964.2 809,1955 801.2,1949.2 810.9,1949.1" fill="#fff" stroke="#000080" stroke-width="1.5"/><polygon points="814,1940 817,1949.1 826.7,1949.2 818.9,1955 821.8,1964.2 814,1958.6 814,1958.6 814,1940" fill="#000080"/>
<polygon points="775.2,1980.6 778.2,1989.8 787.9,1989.9 780.1,1995.6 783.1,2004.9 775.2,1999.2 767.3,2004.9 770.2,1995.6 762.4,1989.9 772.1,1989.8" fill="#fff" stroke="#000080" stroke-width="1.5"/><polygon points="775.2,1980.6 778.2,1989.8 787.9,1989.9 780.1,1995.6 783.1,2004.9 775.2,1999.2 775.2,1999.2 775.2,1980.6" fill="#000080"/>
<polygon points="738.7,2003.3 741.8,2012.4 751.4,2012.5 743.7,2018.3 746.6,2027.5 738.7,2021.9 730.8,2027.5 733.8,2018.3 726,2012.5 735.7,2012.4" fill="#fff" stroke="#000080" stroke-width="1.5"/><polygon points="738.7,2003.3 741.8,2012.4 751.4,2012.5 743.7,2018.3 746.6,2027.5 738.7,2021.9 738.7,2021.9 738.7,2003.3" fill="#000080"/>
<polygon points="731.3,2012.1 734.4,2021.3 744.1,2021.4 736.3,2027.1 739.2,2036.3 731.3,2030.7 723.5,2036.3 726.4,2027.1 718.6,2021.4 728.3,2021.3" fill="#fff" stroke="#000080" stroke-width="1.5"/><polygon points="731.3,2012.1 734.4,2021.3 744.1,2021.4 736.3,2027.1 739.2,2036.3 731.3,2030.7 731.3,2030.7 731.3,2012.1" fill="#000080"/>
<polygon points="748.6,2022.7 751.7,2031.9 761.4,2032 753.6,2037.7 756.5,2046.9 748.6,2041.3 740.8,2046.9 743.7,2037.7 735.9,2032 745.6,2031.9" fill="#fff" stroke="#000080" stroke-width="1.5"/><polygon points="748.6,2022.7 751.7,2031.9 761.4,2032 753.6,2037.7 756.5,2046.9 748.6,2041.3 748.6,2041.3 748.6,2022.7" fill="#000080"/>
<polygon points="791,2049.3 794,2058.5 803.7,2058.5 795.9,2064.3 798.9,2073.5 791,2067.9 783.1,2073.5 786,2064.3 778.2,2058.5 787.9,2058.5" fill="#fff" stroke="#000080" stroke-width="1.5"/><polygon points="791,2049.3 794,2058.5 803.7,2058.5 795.9,2064.3 798.9,2073.5 791,2067.9 791,2067.9 791,2049.3" fill="#000080"/>
<polygon points="848,2103.8 851.1,2113 860.8,2113.1 853,2118.8 855.9,2128 848,2122.4 840.2,2128 843.1,2118.8 835.3,2113.1 845,2113" fill="#fff" stroke="#000080" stroke-width="1.5"/><polygon points="848,2103.8 851.1,2113 860.8,2113.1 853,2118.8 855.9,2128 848,2122.4 848,2122.4 848,2103.8" fill="#000080"/>
<polygon points="867.9,2161.9 871,2171.1 880.6,2171.2 872.9,2176.9 875.8,2186.2 867.9,2180.5 860,2186.2 863,2176.9 855.2,2171.2 864.9,2171.1" fill="#fff" stroke="#000080" stroke-width="1.5"/><polygon points="867.9,2161.9 871,2171.1 880.6,2171.2 872.9,2176.9 875.8,2186.2 867.9,2180.5 867.9,2180.5 867.9,2161.9" fill="#000080"/>
<polygon points="843.5,2196 846.5,2205.1 856.2,2205.2 848.4,2211 851.3,2220.2 843.5,2214.6 835.6,2220.2 838.5,2211 830.7,2205.2 840.4,2205.1" fill="#fff" stroke="#000080" stroke-width="1.5"/><polygon points="843.5,2196 846.5,2205.1 856.2,2205.2 848.4,2211 851.3,2220.2 843.5,2214.6 843.5,2214.6 843.5,2196" fill="#000080"/>
<polygon points="809.7,2221.3 812.8,2230.4 822.4,2230.5 814.7,2236.3 817.6,2245.5 809.7,2239.9 801.8,2245.5 804.8,2236.3 797,2230.5 806.6,2230.4" fill="#fff" stroke="#000080" stroke-width="1.5"/><polygon points="809.7,2221.3 812.8,2230.4 822.4,2230.5 814.7,2236.3 817.6,2245.5 809.7,2239.9 809.7,2239.9 809.7,2221.3" fill="#000080"/>
<polygon points="771.7,2240.2 774.8,2249.4 784.5,2249.4 776.7,2255.2 779.6,2264.4 771.7,2258.8 763.8,2264.4 766.8,2255.2 759,2249.4 768.7,2249.4" fill="#fff" stroke="#000080" stroke-width="1.5"/><polygon points="771.7,2240.2 774.8,2249.4 784.5,2249.4 776.7,2255.2 779.6,2264.4 771.7,2258.8 771.7,2258.8 771.7,2240.2" fill="#000080"/>
<polygon points="730.6,2251.4 733.7,2260.6 743.4,2260.7 735.6,2266.4 738.5,2275.6 730.6,2270 722.8,2275.6 725.7,2266.4 717.9,2260.7 727.6,2260.6" fill="#fff" stroke="#000080" stroke-width="1.5"/><polygon points="730.6,2251.4 733.7,2260.6 743.4,2260.7 735.6,2266.4 738.5,2275.6 730.6,2270 730.6,2270 730.6,2251.4" fill="#000080"/>
<polygon points="688.1,2255.1 691.2,2264.3 700.9,2264.4 693.1,2270.1 696,2279.3 688.1,2273.7 680.3,2279.3 683.2,2270.1 675.4,2264.4 685.1,2264.3" fill="#fff" stroke="#000080" stroke-width="1.5"/><polygon points="688.1,2255.1 691.2,2264.3 700.9,2264.4 693.1,2270.1 696,2279.3 688.1,2273.7 688.1,2273.7 688.1,2255.1" fill="#000080"/>
<polygon points="645.7,2251.4 648.7,2260.6 658.4,2260.7 650.6,2266.4 653.5,2275.6 645.7,2270 637.8,2275.6 640.7,2266.4 632.9,2260.7 642.6,2260.6" fill="#fff" stroke="#000080" stroke-width="1.5"/><polygon points="645.7,2251.4 648.7,2260.6 658.4,2260.7 650.6,2266.4 653.5,2275.6 645.7,2270 645.7,2270 645.7,2251.4" fill="#000080"/>
<polygon points="604.6,2240.2 607.6,2249.4 617.3,2249.4 609.5,2255.2 612.5,2264.4 604.6,2258.8 596.7,2264.4 599.6,2255.2 591.8,2249.4 601.5,2249.4" fill="#fff" stroke="#000080" stroke-width="1.5"/><polygon points="604.6,2240.2 607.6,2249.4 617.3,2249.4 609.5,2255.2 612.5,2264.4 604.6,2258.8 604.6,2258.8 604.6,2240.2" fill="#000080"/>
<polygon points="566.6,2221.3 569.7,2230.4 579.3,2230.5 571.5,2236.3 574.5,2245.5 566.6,2239.9 558.7,2245.5 561.6,2236.3 553.9,2230.5 563.5,2230.4" fill="#fff" stroke="#000080" stroke-width="1.5"/><polygon points="566.6,2221.3 569.7,2230.4 579.3,2230.5 571.5,2236.3 574.5,2245.5 566.6,2239.9 566.6,2239.9 566.6,2221.3" fill="#000080"/>
<polygon points="534.1,2194.4 537.2,2203.6 546.9,2203.7 539.1,2209.4 542,2218.7 534.1,2213 526.3,2218.7 529.2,2209.4 521.4,2203.7 531.1,2203.6" fill="#fff" stroke="#000080" stroke-width="1.5"/><polygon points="534.1,2194.4 537.2,2203.6 546.9,2203.7 539.1,2209.4 542,2218.7 534.1,2213 534.1,2213 534.1,2194.4" fill="#000080"/>
<polygon points="506.8,2163.3 509.8,2172.5 519.5,2172.5 511.7,2178.3 514.6,2187.5 506.8,2181.9 498.9,2187.5 501.8,2178.3 494,2172.5 503.7,2172.5" fill="#fff" stroke="#000080" stroke-width="1.5"/><polygon points="506.8,2163.3 509.8,2172.5 519.5,2172.5 511.7,2178.3 514.6,2187.5 506.8,2181.9 506.8,2181.9 506.8,2163.3" fill="#000080"/>
<polygon points="503,2118.3 506,2127.5 515.7,2127.6 507.9,2133.3 510.8,2142.5 503,2136.9 495.1,2142.5 498,2133.3 490.2,2127.6 499.9,2127.5" fill="#fff" stroke="#000080" stroke-width="1.5"/><polygon points="503,2118.3 506,2127.5 515.7,2127.6 507.9,2133.3 510.8,2142.5 503,2136.9 503,2136.9 503,2118.3" fill="#000080"/>
<polygon points="551.3,2061.6 554.3,2070.8 564,2070.9 556.2,2076.6 559.1,2085.8 551.3,2080.2 543.4,2085.8 546.3,2076.6 538.5,2070.9 548.2,2070.8" fill="#fff" stroke="#000080" stroke-width="1.5"/><polygon points="551.3,2061.6 554.3,2070.8 564,2070.9 556.2,2076.6 559.1,2085.8 551.3,2080.2 551.3,2080.2 551.3,2061.6" fill="#000080"/>
<polygon points="604.2,2026.8 607.2,2036 616.9,2036.1 609.1,2041.8 612,2051 604.2,2045.4 596.3,2051 599.2,2041.8 591.4,2036.1 601.1,2036" fill="#fff" stroke="#000080" stroke-width="1.5"/><polygon points="604.2,2026.8 607.2,2036 616.9,2036.1 609.1,2041.8 612,2051 604.2,2045.4 604.2,2045.4 604.2,2026.8" fill="#000080"/>
<polygon points="648.3,2012.1 651.3,2021.3 661,2021.4 653.2,2027.1 656.2,2036.3 648.3,2030.7 640.4,2036.3 643.3,2027.1 635.5,2021.4 645.2,2021.3" fill="#fff" stroke="#000080" stroke-width="1.5"/><polygon points="648.3,2012.1 651.3,2021.3 661,2021.4 653.2,2027.1 656.2,2036.3 648.3,2030.7 648.3,2030.7 648.3,2012.1" fill="#000080"/>
<polygon points="646.4,2004.8 649.5,2014 659.1,2014.1 651.4,2019.8 654.3,2029 646.4,2023.4 638.5,2029 641.5,2019.8 633.7,2014.1 643.4,2014" fill="#fff" stroke="#000080" stroke-width="1.5"/><polygon points="646.4,2004.8 649.5,2014 659.1,2014.1 651.4,2019.8 654.3,2029 646.4,2023.4 646.4,2023.4 646.4,2004.8" fill="#000080"/>
<polygon points="607.7,1983 610.8,1992.2 620.5,1992.3 612.7,1998 615.6,2007.3 607.7,2001.6 599.9,2007.3 602.8,1998 595,1992.3 604.7,1992.2" fill="#fff" stroke="#000080" stroke-width="1.5"/><polygon points="607.7,1983 610.8,1992.2 620.5,1992.3 612.7,1998 615.6,2007.3 607.7,2001.6 607.7,2001.6 607.7,1983" fill="#000080"/>
<polygon points="566.1,1942.1 569.2,1951.3 578.8,1951.4 571,1957.1 574,1966.3 566.1,1960.7 558.2,1966.3 561.1,1957.1 553.4,1951.4 563,1951.3" fill="#fff" stroke="#000080" stroke-width="1.5"/><polygon points="566.1,1942.1 569.2,1951.3 578.8,1951.4 571,1957.1 574,1966.3 566.1,1960.7 566.1,1960.7 566.1,1942.1" fill="#000080"/>
<polygon points="526.2,1877.1 529.3,1886.3 538.9,1886.4 531.2,1892.1 534.1,1901.3 526.2,1895.7 518.3,1901.3 521.2,1892.1 513.5,1886.4 523.1,1886.3" fill="#fff" stroke="#000080" stroke-width="1.5"/><polygon points="526.2,1877.1 529.3,1886.3 538.9,1886.4 531.2,1892.1 534.1,1901.3 526.2,1895.7 526.2,1895.7 526.2,1877.1" fill="#000080"/>
<polygon points="505.7,1796.1 508.7,1805.3 518.4,1805.3 510.6,1811.1 513.5,1820.3 505.7,1814.7 497.8,1820.3 500.7,1811.1 492.9,1805.3 502.6,1805.3" fill="#fff" stroke="#000080" stroke-width="1.5"/><polygon points="505.7,1796.1 508.7,1805.3 518.4,1805.3 510.6,1811.1 513.5,1820.3 505.7,1814.7 505.7,1814.7 505.7,1796.1" fill="#000080"/>
<polygon points="509.5,1704.7 512.5,1713.8 522.2,1713.9 514.4,1719.7 517.3,1728.9 509.5,1723.3 501.6,1728.9 504.5,1719.7 496.7,1713.9 506.4,1713.8" fill="#fff" stroke="#000080" stroke-width="1.5"/><polygon points="509.5,1704.7 512.5,1713.8 522.2,1713.9 514.4,1719.7 517.3,1728.9 509.5,1723.3 509.5,1723.3 509.5,1704.7" fill="#000080"/>
<polygon points="547,1626.8 550,1636 559.7,1636.1 551.9,1641.8 554.9,1651.1 547,1645.4 539.1,1651.1 542,1641.8 534.2,1636.1 543.9,1636" fill="#fff" stroke="#000080" stroke-width="1.5"/><polygon points="547,1626.8 550,1636 559.7,1636.1 551.9,1641.8 554.9,1651.1 547,1645.4 547,1645.4 547,1626.8" fill="#000080"/>
<polygon points="608.4,1563 611.5,1572.2 621.2,1572.3 613.4,1578 616.3,1587.3 608.4,1581.6 600.6,1587.3 603.5,1578 595.7,1572.3 605.4,1572.2" fill="#fff" stroke="#000080" stroke-width="1.5"/><polygon points="608.4,1563 611.5,1572.2 621.2,1572.3 613.4,1578 616.3,1587.3 608.4,1581.6 608.4,1581.6 608.4,1563" fill="#000080"/>
<path d="M688.1 1562.5L715.6 1569.6L739.1 1577.6L759.1 1586.3L775.9 1595.6L790 1605.4L801.9 1615.5L812.1 1625.8L820.9 1636.1L828.8 1646.3L835.8 1656.4L842 1666.5L847.4 1676.6L852.1 1686.8L856.2 1697.1L859.6 1707.5L862.4 1718.1L864.6 1729L866.3 1740.1L867.6 1751.3L868.3 1762.5L868.5 1773.8L868.4 1785.1L867.8 1796.3L866.9 1807.3L865.6 1818.1L863.9 1828.7L862 1839.1L859.7 1849.2L857.1 1859.1L854.3 1868.8L851.1 1878.2L847.7 1887.3L844 1896.2L840.1 1904.7L836.1 1913L831.8 1921L827.4 1928.6L822.9 1936L818.2 1943L813.6 1949.6L808.8 1955.9L804.1 1961.9L799.3 1967.5L794.6 1972.8L789.8 1977.8L785 1982.5L780.3 1986.9L775.6 1991L770.9 1994.8L766.3 1998.4L761.9 2001.7L757.6 2004.7L753.6 2007.4L749.9 2010L746.5 2012.3L743.6 2014.4L741 2016.2L739 2017.9L737.3 2019.4L736.1 2020.8L735.4 2022.1L735 2023.4L735 2024.6L735.4 2025.8L736.3 2027L737.5 2028.3L739 2029.7L741 2031.2L743.4 2032.8L746.1 2034.6L749.3 2036.6L752.8 2038.8L756.7 2041.2L761 2043.9L765.7 2047L770.6 2050.3L775.9 2054L781.5 2058L787.3 2062.5L793.4 2067.3L799.7 2072.6L806.2 2078.3L812.6 2084.3L819 2090.6L825.3 2097.1L831.2 2103.9L836.8 2110.8L841.8 2117.8L846.4 2124.9L850.3 2131.9L853.6 2138.9L856.3 2145.8L858.3 2152.6L859.7 2159.1L860.5 2165.4L860.5 2171.3L859.9 2176.9L858.7 2182.1L856.9 2187L854.6 2191.7L851.9 2196L848.8 2200.2L845.5 2204.1L841.9 2207.9L838.2 2211.5L834.4 2215L830.4 2218.4L826.3 2221.7L822.1 2224.8L817.8 2227.9L813.4 2230.8L809 2233.6L804.5 2236.3L799.9 2238.9L795.3 2241.4L790.6 2243.8L785.8 2246.1L781 2248.3L776.1 2250.3L771.2 2252.3L766.2 2254.1L761.2 2255.8L756.2 2257.4L751.1 2258.9L746 2260.2L740.8 2261.4L735.6 2262.6L730.4 2263.5L725.2 2264.4L719.9 2265.2L714.6 2265.8L709.4 2266.3L704.1 2266.7L698.8 2267L693.5 2267.2L688.1 2267.3L682.8 2267.2L677.5 2267L672.2 2266.7L666.9 2266.3L661.7 2265.8L656.4 2265.2L651.1 2264.4L645.9 2263.5L640.7 2262.6L635.5 2261.4L630.3 2260.2L625.2 2258.9L620.1 2257.4L615.1 2255.8L610.1 2254.1L605.1 2252.3L600.2 2250.3L595.3 2248.3L590.5 2246.1L585.8 2243.8L581.1 2241.4L576.5 2238.8L572 2236.1L567.5 2233.3L563.2 2230.4L558.9 2227.4L554.7 2224.2L550.6 2221L546.6 2217.6L542.6 2214.2L538.8 2210.7L535 2207.1L531.3 2203.4L527.7 2199.7L524.3 2195.8L521.1 2191.9L518 2187.8L515.3 2183.5L512.8 2179L510.7 2174.4L508.9 2169.5L507.6 2164.4L506.8 2159.1L506.4 2153.7L506.7 2148L507.6 2142.1L509.3 2136L511.7 2129.7L514.8 2123.3L518.7 2116.8L523.2 2110.1L528.3 2103.6L533.8 2097L539.7 2090.7L545.8 2084.5L552 2078.6L558.4 2073.1L564.8 2067.9L571.2 2063L577.6 2058.5L584 2054.3L590.3 2050.4L596.6 2046.8L602.7 2043.6L608.7 2040.6L614.5 2038L620 2035.6L625.1 2033.4L629.8 2031.5L634 2029.7L637.6 2028.2L640.6 2026.7L642.9 2025.4L644.5 2024.2L645.4 2022.9L645.6 2021.7L645.2 2020.4L644.2 2019L642.5 2017.5L640.3 2015.8L637.5 2013.8L634.1 2011.7L630.4 2009.3L626.2 2006.6L621.8 2003.7L617.1 2000.5L612.2 1997L607.2 1993.2L602.2 1989.2L597.1 1984.8L592 1980.1L586.9 1975.1L581.8 1969.7L576.6 1964L571.5 1957.9L566.4 1951.5L561.3 1944.7L556.3 1937.5L551.4 1930L546.6 1922.2L542 1914L537.5 1905.6L533.4 1896.8L529.4 1887.8L525.8 1878.6L522.5 1869.1L519.5 1859.4L516.8 1849.4L514.5 1839.3L512.6 1829L511 1818.4L509.7 1807.7L508.9 1796.9L508.4 1785.9L508.4 1774.9L508.8 1763.8L509.6 1752.8L510.9 1741.8L512.8 1731L515.1 1720.3L517.9 1709.8L521.4 1699.5L525.4 1689.3L530.1 1679.1L535.4 1668.8L541.5 1658.5L548.4 1648L556.1 1637.2L564.7 1626.3L574.6 1615.3L586.4 1604.6L600.3 1594.3L617 1584.6L636.9 1576L660.5 1568.5L688.1 1562.5" stroke="#000080" stroke-width="6.2" fill="none" stroke-linejoin="round"/>
<polygon points="688.1,1548.7 700.8,1557.9 696,1572.8 680.3,1572.8 675.5,1557.9" fill="#fff" stroke="#800080" stroke-width="1.5"/><polygon points="688.1,1548.7 700.8,1557.9 696,1572.8 688.1,1572.8 688.1,1548.7" fill="#800080"/>
<polygon points="767.3,1566.2 780,1575.4 775.1,1590.2 759.5,1590.2 754.7,1575.4" fill="#fff" stroke="#800080" stroke-width="1.5"/><polygon points="767.3,1566.2 780,1575.4 775.1,1590.2 767.3,1590.2 767.3,1566.2" fill="#800080"/>
<polygon points="831.4,1621.3 844,1630.5 839.2,1645.3 823.6,1645.3 818.7,1630.5" fill="#fff" stroke="#800080" stroke-width="1.5"/><polygon points="831.4,1621.3 844,1630.5 839.2,1645.3 831.4,1645.3 831.4,1621.3" fill="#800080"/>
<polygon points="871.4,1697 884,1706.2 879.2,1721 863.6,1721 858.7,1706.2" fill="#fff" stroke="#800080" stroke-width="1.5"/><polygon points="871.4,1697 884,1706.2 879.2,1721 871.4,1721 871.4,1697" fill="#800080"/>
<polygon points="877.1,1788.5 889.7,1797.7 884.9,1812.6 869.3,1812.6 864.5,1797.7" fill="#fff" stroke="#800080" stroke-width="1.5"/><polygon points="877.1,1788.5 889.7,1797.7 884.9,1812.6 877.1,1812.6 877.1,1788.5" fill="#800080"/>
<polygon points="860.7,1868.4 873.3,1877.6 868.5,1892.5 852.8,1892.5 848,1877.6" fill="#fff" stroke="#800080" stroke-width="1.5"/><polygon points="860.7,1868.4 873.3,1877.6 868.5,1892.5 860.7,1892.5 860.7,1868.4" fill="#800080"/>
<polygon points="828.5,1931.7 841.2,1940.9 836.3,1955.8 820.7,1955.8 815.9,1940.9" fill="#fff" stroke="#800080" stroke-width="1.5"/><polygon points="828.5,1931.7 841.2,1940.9 836.3,1955.8 828.5,1955.8 828.5,1931.7" fill="#800080"/>
<polygon points="799.6,1971.9 812.2,1981.1 807.4,1996 791.8,1996 786.9,1981.1" fill="#fff" stroke="#800080" stroke-width="1.5"/><polygon points="799.6,1971.9 812.2,1981.1 807.4,1996 799.6,1996 799.6,1971.9" fill="#800080"/>
<polygon points="773.9,1997.2 786.6,2006.4 781.7,2021.2 766.1,2021.2 761.3,2006.4" fill="#fff" stroke="#800080" stroke-width="1.5"/><polygon points="773.9,1997.2 786.6,2006.4 781.7,2021.2 773.9,2021.2 773.9,1997.2" fill="#800080"/>
<polygon points="770.2,2012.2 782.8,2021.4 778,2036.3 762.4,2036.3 757.5,2021.4" fill="#fff" stroke="#800080" stroke-width="1.5"/><polygon points="770.2,2012.2 782.8,2021.4 778,2036.3 770.2,2036.3 770.2,2012.2" fill="#800080"/>
<polygon points="795.3,2031 808,2040.2 803.1,2055 787.5,2055 782.7,2040.2" fill="#fff" stroke="#800080" stroke-width="1.5"/><polygon points="795.3,2031 808,2040.2 803.1,2055 795.3,2055 795.3,2031" fill="#800080"/>
<polygon points="847.1,2069.7 859.7,2078.8 854.9,2093.7 839.3,2093.7 834.4,2078.8" fill="#fff" stroke="#800080" stroke-width="1.5"/><polygon points="847.1,2069.7 859.7,2078.8 854.9,2093.7 847.1,2093.7 847.1,2069.7" fill="#800080"/>
<polygon points="886.5,2126 899.1,2135.1 894.3,2150 878.7,2150 873.8,2135.1" fill="#fff" stroke="#800080" stroke-width="1.5"/><polygon points="886.5,2126 899.1,2135.1 894.3,2150 886.5,2150 886.5,2126" fill="#800080"/>
<polygon points="875,2167.9 887.7,2177.1 882.8,2192 867.2,2192 862.4,2177.1" fill="#fff" stroke="#800080" stroke-width="1.5"/><polygon points="875,2167.9 887.7,2177.1 882.8,2192 875,2192 875,2167.9" fill="#800080"/>
<polygon points="845.4,2198.3 858,2207.5 853.2,2222.4 837.6,2222.4 832.7,2207.5" fill="#fff" stroke="#800080" stroke-width="1.5"/><polygon points="845.4,2198.3 858,2207.5 853.2,2222.4 845.4,2222.4 845.4,2198.3" fill="#800080"/>
<polygon points="811.6,2224.6 824.2,2233.8 819.4,2248.7 803.8,2248.7 798.9,2233.8" fill="#fff" stroke="#800080" stroke-width="1.5"/><polygon points="811.6,2224.6 824.2,2233.8 819.4,2248.7 811.6,2248.7 811.6,2224.6" fill="#800080"/>
<polygon points="773.3,2244.5 785.9,2253.7 781.1,2268.6 765.5,2268.6 760.6,2253.7" fill="#fff" stroke="#800080" stroke-width="1.5"/><polygon points="773.3,2244.5 785.9,2253.7 781.1,2268.6 773.3,2268.6 773.3,2244.5" fill="#800080"/>
<polygon points="731.6,2256.9 744.2,2266.1 739.4,2281 723.8,2281 718.9,2266.1" fill="#fff" stroke="#800080" stroke-width="1.5"/><polygon points="731.6,2256.9 744.2,2266.1 739.4,2281 731.6,2281 731.6,2256.9" fill="#800080"/>
<polygon points="688.1,2260.7 700.8,2269.9 696,2284.8 680.3,2284.8 675.5,2269.9" fill="#fff" stroke="#800080" stroke-width="1.5"/><polygon points="688.1,2260.7 700.8,2269.9 696,2284.8 688.1,2284.8 688.1,2260.7" fill="#800080"/>
<polygon points="644.7,2256.9 657.4,2266.1 652.5,2281 636.9,2281 632.1,2266.1" fill="#fff" stroke="#800080" stroke-width="1.5"/><polygon points="644.7,2256.9 657.4,2266.1 652.5,2281 644.7,2281 644.7,2256.9" fill="#800080"/>
<polygon points="602.7,2245.5 615.3,2254.7 610.5,2269.5 594.9,2269.5 590,2254.7" fill="#fff" stroke="#800080" stroke-width="1.5"/><polygon points="602.7,2245.5 615.3,2254.7 610.5,2269.5 602.7,2269.5 602.7,2245.5" fill="#800080"/>
<polygon points="563.2,2227.2 575.8,2236.4 571,2251.2 555.4,2251.2 550.5,2236.4" fill="#fff" stroke="#800080" stroke-width="1.5"/><polygon points="563.2,2227.2 575.8,2236.4 571,2251.2 563.2,2251.2 563.2,2227.2" fill="#800080"/>
<polygon points="528.3,2201.4 541,2210.6 536.1,2225.5 520.5,2225.5 515.7,2210.6" fill="#fff" stroke="#800080" stroke-width="1.5"/><polygon points="528.3,2201.4 541,2210.6 536.1,2225.5 528.3,2225.5 528.3,2201.4" fill="#800080"/>
<polygon points="498.4,2170.3 511.1,2179.5 506.3,2194.4 490.6,2194.4 485.8,2179.5" fill="#fff" stroke="#800080" stroke-width="1.5"/><polygon points="498.4,2170.3 511.1,2179.5 506.3,2194.4 498.4,2194.4 498.4,2170.3" fill="#800080"/>
<polygon points="477.2,2133.2 489.8,2142.4 485,2157.3 469.4,2157.3 464.5,2142.4" fill="#fff" stroke="#800080" stroke-width="1.5"/><polygon points="477.2,2133.2 489.8,2142.4 485,2157.3 477.2,2157.3 477.2,2133.2" fill="#800080"/>
<polygon points="494.6,2082.2 507.2,2091.4 502.4,2106.2 486.8,2106.2 482,2091.4" fill="#fff" stroke="#800080" stroke-width="1.5"/><polygon points="494.6,2082.2 507.2,2091.4 502.4,2106.2 494.6,2106.2 494.6,2082.2" fill="#800080"/>
<polygon points="549.5,2036.5 562.1,2045.7 557.3,2060.6 541.6,2060.6 536.8,2045.7" fill="#fff" stroke="#800080" stroke-width="1.5"/><polygon points="549.5,2036.5 562.1,2045.7 557.3,2060.6 549.5,2060.6 549.5,2036.5" fill="#800080"/>
<polygon points="602.1,2012.2 614.7,2021.4 609.9,2036.3 594.3,2036.3 589.4,2021.4" fill="#fff" stroke="#800080" stroke-width="1.5"/><polygon points="602.1,2012.2 614.7,2021.4 609.9,2036.3 602.1,2036.3 602.1,2012.2" fill="#800080"/>
<polygon points="598.5,1996.5 611.2,2005.7 606.3,2020.6 590.7,2020.6 585.9,2005.7" fill="#fff" stroke="#800080" stroke-width="1.5"/><polygon points="598.5,1996.5 611.2,2005.7 606.3,2020.6 598.5,2020.6 598.5,1996.5" fill="#800080"/>
<polygon points="584.1,1974.6 596.7,1983.8 591.9,1998.6 576.3,1998.6 571.4,1983.8" fill="#fff" stroke="#800080" stroke-width="1.5"/><polygon points="584.1,1974.6 596.7,1983.8 591.9,1998.6 584.1,1998.6 584.1,1974.6" fill="#800080"/>
<polygon points="553,1934.7 565.7,1943.9 560.8,1958.8 545.2,1958.8 540.4,1943.9" fill="#fff" stroke="#800080" stroke-width="1.5"/><polygon points="553,1934.7 565.7,1943.9 560.8,1958.8 553,1958.8 553,1934.7" fill="#800080"/>
<polygon points="516.9,1869.5 529.6,1878.7 524.8,1893.6 509.1,1893.6 504.3,1878.7" fill="#fff" stroke="#800080" stroke-width="1.5"/><polygon points="516.9,1869.5 529.6,1878.7 524.8,1893.6 516.9,1893.6 516.9,1869.5" fill="#800080"/>
<polygon points="500.5,1790 513.1,1799.2 508.3,1814.1 492.7,1814.1 487.8,1799.2" fill="#fff" stroke="#800080" stroke-width="1.5"/><polygon points="500.5,1790 513.1,1799.2 508.3,1814.1 500.5,1814.1 500.5,1790" fill="#800080"/>
<polygon points="506.9,1700.4 519.6,1709.6 514.8,1724.5 499.1,1724.5 494.3,1709.6" fill="#fff" stroke="#800080" stroke-width="1.5"/><polygon points="506.9,1700.4 519.6,1709.6 514.8,1724.5 506.9,1724.5 506.9,1700.4" fill="#800080"/>
<polygon points="546.3,1625 558.9,1634.2 554.1,1649.1 538.5,1649.1 533.6,1634.2" fill="#fff" stroke="#800080" stroke-width="1.5"/><polygon points="546.3,1625 558.9,1634.2 554.1,1649.1 546.3,1649.1 546.3,1625" fill="#800080"/>
<polygon points="608.6,1564.1 621.3,1573.3 616.4,1588.2 600.8,1588.2 596,1573.3" fill="#fff" stroke="#800080" stroke-width="1.5"/><polygon points="608.6,1564.1 621.3,1573.3 616.4,1588.2 608.6,1588.2 608.6,1564.1" fill="#800080"/>
<path d="M688.1 1562L715.7 1569L739.3 1576.8L759.3 1585.3L776.3 1594.4L790.6 1603.8L802.7 1613.6L813 1623.5L822 1633.4L830.1 1643.3L837.3 1653.1L843.8 1662.8L849.5 1672.6L854.5 1682.5L858.8 1692.4L862.5 1702.6L865.7 1712.9L868.3 1723.5L870.3 1734.2L871.9 1745.1L873.1 1756.1L873.7 1767.1L874 1778.1L873.9 1789.1L873.4 1799.9L872.6 1810.5L871.4 1820.9L869.9 1831.2L868.1 1841.2L866 1851L863.6 1860.5L861 1869.9L858 1878.9L854.9 1887.8L851.5 1896.3L848 1904.6L844.3 1912.5L840.6 1920.2L836.7 1927.5L832.9 1934.5L829.1 1941.2L825.3 1947.4L821.5 1953.4L817.8 1959L814.2 1964.3L810.6 1969.3L807.1 1974L803.6 1978.5L800.1 1982.7L796.7 1986.7L793.5 1990.5L790.3 1994L787.3 1997.3L784.5 2000.5L781.9 2003.4L779.6 2006.2L777.6 2008.8L775.9 2011.2L774.6 2013.5L773.7 2015.7L773.1 2017.9L773 2019.9L773.2 2022L773.9 2024L775 2026.1L776.6 2028.3L778.6 2030.5L781 2032.9L783.9 2035.4L787.2 2038.1L791 2041L795.2 2044.1L799.8 2047.6L804.8 2051.3L810.1 2055.4L815.7 2059.7L821.5 2064.4L827.4 2069.3L833.3 2074.6L839.2 2080.1L845 2085.9L850.6 2092L855.9 2098.2L860.9 2104.7L865.5 2111.2L869.5 2117.7L873 2124.2L875.9 2130.6L878 2136.9L879.4 2142.9L880 2148.7L880 2154.3L879.3 2159.7L878.1 2164.9L876.5 2169.9L874.4 2174.7L872 2179.3L869.3 2183.8L866.3 2188L863.1 2192.1L859.7 2196.1L856.2 2200L852.5 2203.7L848.6 2207.4L844.7 2211L840.7 2214.5L836.6 2217.9L832.5 2221.3L828.3 2224.6L824 2227.8L819.7 2230.9L815.3 2233.9L810.8 2236.8L806.3 2239.7L801.7 2242.4L797 2245L792.3 2247.6L787.5 2250L782.6 2252.3L777.7 2254.5L772.7 2256.6L767.7 2258.5L762.6 2260.4L757.5 2262.1L752.3 2263.7L747.1 2265.2L741.9 2266.5L736.6 2267.7L731.3 2268.8L726 2269.7L720.6 2270.5L715.2 2271.2L709.8 2271.8L704.4 2272.2L699 2272.5L693.6 2272.7L688.2 2272.7L682.7 2272.7L677.3 2272.5L671.9 2272.2L666.5 2271.8L661.1 2271.3L655.7 2270.6L650.3 2269.8L644.9 2268.9L639.6 2267.9L634.3 2266.8L629 2265.6L623.8 2264.2L618.6 2262.7L613.4 2261.1L608.2 2259.4L603.1 2257.6L598 2255.7L593 2253.7L588 2251.6L583.1 2249.3L578.2 2247L573.4 2244.5L568.6 2241.9L564 2239.2L559.3 2236.4L554.8 2233.5L550.3 2230.5L546 2227.3L541.6 2224.1L537.4 2220.8L533.2 2217.3L529.2 2213.8L525.1 2210.2L521.2 2206.6L517.4 2202.8L513.7 2198.9L510 2195L506.5 2191L503.1 2186.8L499.9 2182.6L496.8 2178.3L493.8 2173.9L491.2 2169.3L488.8 2164.6L486.8 2159.8L485.2 2154.8L484.2 2149.6L483.6 2144.2L483.7 2138.6L484.3 2132.8L485.6 2126.8L487.5 2120.8L489.9 2114.7L493 2108.6L496.6 2102.4L500.8 2096.4L505.6 2090.4L510.9 2084.5L516.7 2078.8L522.8 2073.2L529.1 2067.8L535.7 2062.7L542.4 2057.9L549.1 2053.4L555.8 2049.1L562.3 2045.2L568.6 2041.6L574.5 2038.3L580 2035.1L585 2032.2L589.2 2029.5L592.7 2026.9L595.4 2024.5L597.2 2022.2L598.4 2019.9L598.9 2017.7L598.9 2015.5L598.5 2013.3L597.7 2011.1L596.7 2008.8L595.5 2006.4L594.1 2003.8L592.5 2001.2L590.7 1998.3L588.7 1995.3L586.5 1992.1L584 1988.6L581.3 1984.9L578.3 1980.9L575.1 1976.6L571.7 1972L568.1 1967L564.3 1961.8L560.4 1956.1L556.3 1950.2L552.2 1943.8L548 1937L543.7 1929.9L539.5 1922.4L535.3 1914.6L531.2 1906.4L527.3 1898L523.6 1889.4L520.2 1880.4L517.1 1871.3L514.3 1861.9L511.8 1852.3L509.6 1842.6L507.8 1832.6L506.3 1822.5L505.1 1812.1L504.3 1801.7L503.9 1791L503.8 1780.3L504.1 1769.5L504.9 1758.6L506.1 1747.8L507.7 1737.1L509.8 1726.5L512.4 1716.1L515.6 1705.9L519.2 1695.8L523.5 1685.9L528.4 1676L534 1666.1L540.3 1656.1L547.4 1646L555.3 1635.7L564.1 1625.2L574.2 1614.6L586.1 1604.2L600.2 1594.2L617 1584.8L637 1576.1L660.5 1568.5L688.1 1562" stroke="#800080" stroke-width="6.2" fill="none" stroke-linejoin="round"/>
<circle cx="688.1" cy="1561" r="12.0" fill="#800000"/><circle cx="684.8" cy="1556.8" r="6.2" fill="#c08080"/><circle cx="684.8" cy="1556.8" r="4.4" fill="#e6cccc"/><circle cx="684.8" cy="1556.8" r="2.6" fill="#fff"/>
<circle cx="767.5" cy="1578.2" r="12.0" fill="#800000"/><circle cx="764.1" cy="1574" r="6.2" fill="#c08080"/><circle cx="764.1" cy="1574" r="4.4" fill="#e6cccc"/><circle cx="764.1" cy="1574" r="2.6" fill="#fff"/>
<circle cx="833" cy="1630.1" r="12.0" fill="#800000"/><circle cx="829.6" cy="1625.9" r="6.2" fill="#c08080"/><circle cx="829.6" cy="1625.9" r="4.4" fill="#e6cccc"/><circle cx="829.6" cy="1625.9" r="2.6" fill="#fff"/>
<circle cx="875.2" cy="1703.6" r="12.0" fill="#800000"/><circle cx="871.8" cy="1699.4" r="6.2" fill="#c08080"/><circle cx="871.8" cy="1699.4" r="4.4" fill="#e6cccc"/><circle cx="871.8" cy="1699.4" r="2.6" fill="#fff"/>
<circle cx="887.6" cy="1789.4" r="12.0" fill="#800000"/><circle cx="884.2" cy="1785.2" r="6.2" fill="#c08080"/><circle cx="884.2" cy="1785.2" r="4.4" fill="#e6cccc"/><circle cx="884.2" cy="1785.2" r="2.6" fill="#fff"/>
<circle cx="879.2" cy="1866.2" r="12.0" fill="#800000"/><circle cx="875.8" cy="1862" r="6.2" fill="#c08080"/><circle cx="875.8" cy="1862" r="4.4" fill="#e6cccc"/><circle cx="875.8" cy="1862" r="2.6" fill="#fff"/>
<circle cx="854.7" cy="1930" r="12.0" fill="#800000"/><circle cx="851.3" cy="1925.8" r="6.2" fill="#c08080"/><circle cx="851.3" cy="1925.8" r="4.4" fill="#e6cccc"/><circle cx="851.3" cy="1925.8" r="2.6" fill="#fff"/>
<circle cx="827.2" cy="1975.2" r="12.0" fill="#800000"/><circle cx="823.8" cy="1971" r="6.2" fill="#c08080"/><circle cx="823.8" cy="1971" r="4.4" fill="#e6cccc"/><circle cx="823.8" cy="1971" r="2.6" fill="#fff"/>
<circle cx="811.3" cy="2003.9" r="12.0" fill="#800000"/><circle cx="807.9" cy="1999.7" r="6.2" fill="#c08080"/><circle cx="807.9" cy="1999.7" r="4.4" fill="#e6cccc"/><circle cx="807.9" cy="1999.7" r="2.6" fill="#fff"/>
<circle cx="817.3" cy="2025.5" r="12.0" fill="#800000"/><circle cx="813.9" cy="2021.3" r="6.2" fill="#c08080"/><circle cx="813.9" cy="2021.3" r="4.4" fill="#e6cccc"/><circle cx="813.9" cy="2021.3" r="2.6" fill="#fff"/>
<circle cx="850.6" cy="2054" r="12.0" fill="#800000"/><circle cx="847.2" cy="2049.8" r="6.2" fill="#c08080"/><circle cx="847.2" cy="2049.8" r="4.4" fill="#e6cccc"/><circle cx="847.2" cy="2049.8" r="2.6" fill="#fff"/>
<circle cx="898" cy="2101.4" r="12.0" fill="#800000"/><circle cx="894.6" cy="2097.2" r="6.2" fill="#c08080"/><circle cx="894.6" cy="2097.2" r="4.4" fill="#e6cccc"/><circle cx="894.6" cy="2097.2" r="2.6" fill="#fff"/>
<circle cx="903" cy="2148.7" r="12.0" fill="#800000"/><circle cx="899.6" cy="2144.5" r="6.2" fill="#c08080"/><circle cx="899.6" cy="2144.5" r="4.4" fill="#e6cccc"/><circle cx="899.6" cy="2144.5" r="2.6" fill="#fff"/>
<circle cx="881.3" cy="2186.5" r="12.0" fill="#800000"/><circle cx="877.9" cy="2182.3" r="6.2" fill="#c08080"/><circle cx="877.9" cy="2182.3" r="4.4" fill="#e6cccc"/><circle cx="877.9" cy="2182.3" r="2.6" fill="#fff"/>
<circle cx="846.9" cy="2213.4" r="12.0" fill="#800000"/><circle cx="843.5" cy="2209.2" r="6.2" fill="#c08080"/><circle cx="843.5" cy="2209.2" r="4.4" fill="#e6cccc"/><circle cx="843.5" cy="2209.2" r="2.6" fill="#fff"/>
<circle cx="811.8" cy="2238.2" r="12.0" fill="#800000"/><circle cx="808.4" cy="2234" r="6.2" fill="#c08080"/><circle cx="808.4" cy="2234" r="4.4" fill="#e6cccc"/><circle cx="808.4" cy="2234" r="2.6" fill="#fff"/>
<circle cx="772.8" cy="2256.4" r="12.0" fill="#800000"/><circle cx="769.4" cy="2252.2" r="6.2" fill="#c08080"/><circle cx="769.4" cy="2252.2" r="4.4" fill="#e6cccc"/><circle cx="769.4" cy="2252.2" r="2.6" fill="#fff"/>
<circle cx="732.5" cy="2275.1" r="12.0" fill="#800000"/><circle cx="729.1" cy="2270.9" r="6.2" fill="#c08080"/><circle cx="729.1" cy="2270.9" r="4.4" fill="#e6cccc"/><circle cx="729.1" cy="2270.9" r="2.6" fill="#fff"/>
<circle cx="688.1" cy="2279" r="12.0" fill="#800000"/><circle cx="684.8" cy="2274.8" r="6.2" fill="#c08080"/><circle cx="684.8" cy="2274.8" r="4.4" fill="#e6cccc"/><circle cx="684.8" cy="2274.8" r="2.6" fill="#fff"/>
<circle cx="643.8" cy="2275.1" r="12.0" fill="#800000"/><circle cx="640.4" cy="2270.9" r="6.2" fill="#c08080"/><circle cx="640.4" cy="2270.9" r="4.4" fill="#e6cccc"/><circle cx="640.4" cy="2270.9" r="2.6" fill="#fff"/>
<circle cx="600.6" cy="2264.3" r="12.0" fill="#800000"/><circle cx="597.2" cy="2260.1" r="6.2" fill="#c08080"/><circle cx="597.2" cy="2260.1" r="4.4" fill="#e6cccc"/><circle cx="597.2" cy="2260.1" r="2.6" fill="#fff"/>
<circle cx="559.6" cy="2246.7" r="12.0" fill="#800000"/><circle cx="556.2" cy="2242.5" r="6.2" fill="#c08080"/><circle cx="556.2" cy="2242.5" r="4.4" fill="#e6cccc"/><circle cx="556.2" cy="2242.5" r="2.6" fill="#fff"/>
<circle cx="522.6" cy="2221.5" r="12.0" fill="#800000"/><circle cx="519.2" cy="2217.3" r="6.2" fill="#c08080"/><circle cx="519.2" cy="2217.3" r="4.4" fill="#e6cccc"/><circle cx="519.2" cy="2217.3" r="2.6" fill="#fff"/>
<circle cx="493.4" cy="2187.8" r="12.0" fill="#800000"/><circle cx="490" cy="2183.6" r="6.2" fill="#c08080"/><circle cx="490" cy="2183.6" r="4.4" fill="#e6cccc"/><circle cx="490" cy="2183.6" r="2.6" fill="#fff"/>
<circle cx="467.6" cy="2152" r="12.0" fill="#800000"/><circle cx="464.2" cy="2147.8" r="6.2" fill="#c08080"/><circle cx="464.2" cy="2147.8" r="4.4" fill="#e6cccc"/><circle cx="464.2" cy="2147.8" r="2.6" fill="#fff"/>
<circle cx="458.3" cy="2108.6" r="12.0" fill="#800000"/><circle cx="454.9" cy="2104.4" r="6.2" fill="#c08080"/><circle cx="454.9" cy="2104.4" r="4.4" fill="#e6cccc"/><circle cx="454.9" cy="2104.4" r="2.6" fill="#fff"/>
<circle cx="487.4" cy="2060.7" r="12.0" fill="#800000"/><circle cx="484" cy="2056.5" r="6.2" fill="#c08080"/><circle cx="484" cy="2056.5" r="4.4" fill="#e6cccc"/><circle cx="484" cy="2056.5" r="2.6" fill="#fff"/>
<circle cx="541.1" cy="2025.5" r="12.0" fill="#800000"/><circle cx="537.7" cy="2021.3" r="6.2" fill="#c08080"/><circle cx="537.7" cy="2021.3" r="4.4" fill="#e6cccc"/><circle cx="537.7" cy="2021.3" r="2.6" fill="#fff"/>
<circle cx="570.7" cy="2004.9" r="12.0" fill="#800000"/><circle cx="567.3" cy="2000.7" r="6.2" fill="#c08080"/><circle cx="567.3" cy="2000.7" r="4.4" fill="#e6cccc"/><circle cx="567.3" cy="2000.7" r="2.6" fill="#fff"/>
<circle cx="567.1" cy="1981.7" r="12.0" fill="#800000"/><circle cx="563.7" cy="1977.5" r="6.2" fill="#c08080"/><circle cx="563.7" cy="1977.5" r="4.4" fill="#e6cccc"/><circle cx="563.7" cy="1977.5" r="2.6" fill="#fff"/>
<circle cx="541.5" cy="1941.4" r="12.0" fill="#800000"/><circle cx="538.1" cy="1937.2" r="6.2" fill="#c08080"/><circle cx="538.1" cy="1937.2" r="4.4" fill="#e6cccc"/><circle cx="538.1" cy="1937.2" r="2.6" fill="#fff"/>
<circle cx="509.8" cy="1876.8" r="12.0" fill="#800000"/><circle cx="506.4" cy="1872.6" r="6.2" fill="#c08080"/><circle cx="506.4" cy="1872.6" r="4.4" fill="#e6cccc"/><circle cx="506.4" cy="1872.6" r="2.6" fill="#fff"/>
<circle cx="496.7" cy="1798.9" r="12.0" fill="#800000"/><circle cx="493.3" cy="1794.7" r="6.2" fill="#c08080"/><circle cx="493.3" cy="1794.7" r="4.4" fill="#e6cccc"/><circle cx="493.3" cy="1794.7" r="2.6" fill="#fff"/>
<circle cx="504.6" cy="1709.7" r="12.0" fill="#800000"/><circle cx="501.2" cy="1705.5" r="6.2" fill="#c08080"/><circle cx="501.2" cy="1705.5" r="4.4" fill="#e6cccc"/><circle cx="501.2" cy="1705.5" r="2.6" fill="#fff"/>
<circle cx="545.2" cy="1635.2" r="12.0" fill="#800000"/><circle cx="541.8" cy="1631" r="6.2" fill="#c08080"/><circle cx="541.8" cy="1631" r="4.4" fill="#e6cccc"/><circle cx="541.8" cy="1631" r="2.6" fill="#fff"/>
<circle cx="609" cy="1579.7" r="12.0" fill="#800000"/><circle cx="605.6" cy="1575.5" r="6.2" fill="#c08080"/><circle cx="605.6" cy="1575.5" r="4.4" fill="#e6cccc"/><circle cx="605.6" cy="1575.5" r="2.6" fill="#fff"/>
<path d="M688.1 1561L715.8 1567.8L739.5 1575.4L759.8 1583.5L776.9 1592.2L791.5 1601.2L803.8 1610.5L814.4 1619.9L823.7 1629.4L832 1638.8L839.6 1648.2L846.3 1657.6L852.4 1667L857.7 1676.5L862.4 1686.1L866.6 1695.8L870.3 1705.6L873.4 1715.7L876.2 1725.9L878.5 1736.2L880.4 1746.6L881.9 1757L883 1767.4L883.7 1777.7L884.1 1787.9L884.2 1798L884 1807.9L883.5 1817.7L882.6 1827.4L881.5 1836.8L880.1 1846.1L878.5 1855.2L876.5 1864L874.4 1872.7L872 1881.2L869.3 1889.4L866.6 1897.5L863.6 1905.2L860.6 1912.7L857.4 1920L854.2 1926.9L850.9 1933.6L847.6 1940L844.4 1946.1L841.1 1951.9L838 1957.4L834.9 1962.7L831.9 1967.7L829.1 1972.5L826.5 1977L824.1 1981.2L821.9 1985.3L819.9 1989.1L818.3 1992.7L816.8 1996.2L815.7 1999.5L814.9 2002.7L814.5 2005.8L814.4 2008.8L814.7 2011.8L815.3 2014.7L816.4 2017.6L817.8 2020.6L819.6 2023.6L821.9 2026.6L824.5 2029.8L827.6 2033.1L831 2036.6L834.8 2040.3L839 2044.1L843.4 2048.2L848 2052.5L853 2057.1L858.1 2062L863.3 2067.1L868.6 2072.5L873.7 2078.1L878.6 2083.7L883.2 2089.6L887.3 2095.4L890.9 2101.4L893.9 2107.3L896.2 2113.2L897.9 2119L899 2124.8L899.6 2130.6L899.7 2136.2L899.4 2141.7L898.5 2147.1L897.3 2152.4L895.7 2157.5L893.7 2162.4L891.3 2167.2L888.7 2171.8L885.8 2176.3L882.6 2180.6L879.2 2184.7L875.6 2188.7L871.8 2192.5L867.9 2196.1L863.8 2199.7L859.7 2203.1L855.4 2206.5L851.1 2209.8L846.8 2213.1L842.4 2216.3L838.1 2219.5L833.7 2222.6L829.2 2225.6L824.8 2228.6L820.3 2231.6L815.7 2234.4L811.1 2237.1L806.5 2239.8L801.8 2242.3L797 2244.8L792.2 2247.2L787.3 2249.6L782.4 2251.9L777.5 2254.2L772.6 2256.5L767.6 2258.8L762.6 2261.1L757.6 2263.3L752.5 2265.5L747.4 2267.5L742.3 2269.4L737.1 2271.1L731.8 2272.7L726.5 2274L721.1 2275L715.7 2275.9L710.2 2276.6L704.7 2277.1L699.2 2277.5L693.7 2277.7L688.1 2277.7L682.6 2277.7L677.1 2277.5L671.5 2277.2L666 2276.8L660.5 2276.2L655 2275.6L649.5 2274.8L644 2274L638.6 2273L633.1 2271.9L627.7 2270.7L622.3 2269.4L616.9 2268L611.6 2266.5L606.3 2264.9L601 2263.2L595.7 2261.4L590.5 2259.4L585.4 2257.4L580.2 2255.2L575.2 2253L570.1 2250.6L565.2 2248.1L560.2 2245.5L555.4 2242.7L550.6 2239.9L545.9 2236.9L541.3 2233.8L536.8 2230.6L532.4 2227.2L528.1 2223.7L523.9 2220.1L519.8 2216.4L515.8 2212.5L512 2208.5L508.2 2204.4L504.6 2200.3L501 2196.1L497.4 2191.8L494 2187.5L490.6 2183.1L487.2 2178.7L484 2174.2L480.9 2169.7L478 2165.1L475.2 2160.4L472.7 2155.6L470.3 2150.7L468.3 2145.7L466.5 2140.6L465.1 2135.4L464.1 2130.1L463.5 2124.6L463.3 2119.1L463.7 2113.5L464.7 2107.9L466.2 2102.1L468.3 2096.3L471 2090.6L474.1 2084.8L477.8 2079.1L481.9 2073.5L486.5 2068.1L491.5 2062.8L496.8 2057.7L502.5 2052.8L508.3 2048.1L514.2 2043.7L520.2 2039.4L526 2035.3L531.7 2031.5L537.1 2027.9L542.1 2024.6L546.7 2021.4L550.9 2018.4L554.7 2015.5L558 2012.7L560.9 2009.9L563.3 2007.2L565.1 2004.5L566.5 2001.7L567.4 1998.9L567.8 1996L567.7 1992.9L567.2 1989.7L566.3 1986.3L565.1 1982.7L563.4 1978.9L561.4 1974.8L559.1 1970.4L556.5 1965.7L553.7 1960.7L550.6 1955.4L547.4 1949.7L544 1943.7L540.5 1937.4L536.9 1930.6L533.2 1923.5L529.5 1916.1L525.9 1908.3L522.4 1900.3L519 1892L515.8 1883.4L512.9 1874.6L510.2 1865.6L507.9 1856.4L505.8 1847L504.1 1837.3L502.6 1827.5L501.5 1817.6L500.7 1807.4L500.2 1797L500.1 1786.5L500.3 1775.8L500.8 1765.1L501.8 1754.4L503.2 1743.6L505 1733L507.3 1722.5L510 1712.1L513.3 1702L517.2 1692.1L521.6 1682.3L526.7 1672.6L532.5 1662.9L539 1653.3L546.3 1643.6L554.4 1633.8L563.4 1623.8L573.7 1613.9L585.8 1604.1L600.1 1594.5L617 1585.3L637.1 1576.6L660.6 1568.4L688.1 1561" stroke="#800000" stroke-width="6.2" fill="none" stroke-linejoin="round"/>
<path d="M676.6 1567H699.6M688.1 1555.5V1578.5" stroke="#008000" stroke-width="1.8" fill="none"/>
<path d="M755.2 1582.9H778.2M766.7 1571.4V1594.4" stroke="#008000" stroke-width="1.8" fill="none"/>
<path d="M821 1631.6H844M832.5 1620.1V1643.1" stroke="#008000" stroke-width="1.8" fill="none"/>
<path d="M866.1 1699.6H889.1M877.6 1688.1V1711.1" stroke="#008000" stroke-width="1.8" fill="none"/>
<path d="M887.9 1775.5H910.9M899.4 1764V1787" stroke="#008000" stroke-width="1.8" fill="none"/>
<path d="M887.5 1849.8H910.5M899 1838.3V1861.3" stroke="#008000" stroke-width="1.8" fill="none"/>
<path d="M871.8 1913.6H894.8M883.3 1902.1V1925.1" stroke="#008000" stroke-width="1.8" fill="none"/>
<path d="M857.7 1960H880.7M869.2 1948.5V1971.5" stroke="#008000" stroke-width="1.8" fill="none"/>
<path d="M854.9 1994.3H877.9M866.4 1982.8V2005.8" stroke="#008000" stroke-width="1.8" fill="none"/>
<path d="M876.7 2025.5H899.7M888.2 2014V2037" stroke="#008000" stroke-width="1.8" fill="none"/>
<path d="M906.7 2065.8H929.7M918.2 2054.3V2077.3" stroke="#008000" stroke-width="1.8" fill="none"/>
<path d="M910.9 2110.2H933.9M922.4 2098.7V2121.7" stroke="#008000" stroke-width="1.8" fill="none"/>
<path d="M894.5 2150.4H917.5M906 2138.9V2161.9" stroke="#008000" stroke-width="1.8" fill="none"/>
<path d="M870 2186.6H893M881.5 2175.1V2198.1" stroke="#008000" stroke-width="1.8" fill="none"/>
<path d="M839.1 2217.8H862.1M850.6 2206.3V2229.3" stroke="#008000" stroke-width="1.8" fill="none"/>
<path d="M803.2 2243.3H826.2M814.7 2231.8V2254.8" stroke="#008000" stroke-width="1.8" fill="none"/>
<path d="M763.7 2263.1H786.7M775.2 2251.6V2274.6" stroke="#008000" stroke-width="1.8" fill="none"/>
<path d="M722 2280.8H745M733.5 2269.3V2292.3" stroke="#008000" stroke-width="1.8" fill="none"/>
<path d="M676.6 2284.7H699.6M688.1 2273.2V2296.2" stroke="#008000" stroke-width="1.8" fill="none"/>
<path d="M631.3 2280.8H654.3M642.8 2269.3V2292.3" stroke="#008000" stroke-width="1.8" fill="none"/>
<path d="M588.4 2266.4H611.4M599.9 2254.9V2277.9" stroke="#008000" stroke-width="1.8" fill="none"/>
<path d="M547.7 2247.3H570.7M559.2 2235.8V2258.8" stroke="#008000" stroke-width="1.8" fill="none"/>
<path d="M510.7 2222H533.7M522.2 2210.5V2233.5" stroke="#008000" stroke-width="1.8" fill="none"/>
<path d="M479.4 2189.9H502.4M490.9 2178.4V2201.4" stroke="#008000" stroke-width="1.8" fill="none"/>
<path d="M452.9 2153.8H475.9M464.4 2142.3V2165.3" stroke="#008000" stroke-width="1.8" fill="none"/>
<path d="M437 2112.1H460M448.5 2100.6V2123.6" stroke="#008000" stroke-width="1.8" fill="none"/>
<path d="M432.1 2068.3H455.1M443.6 2056.8V2079.8" stroke="#008000" stroke-width="1.8" fill="none"/>
<path d="M449.4 2025.5H472.4M460.9 2014V2037" stroke="#008000" stroke-width="1.8" fill="none"/>
<path d="M490.4 1992.9H513.4M501.9 1981.4V2004.4" stroke="#008000" stroke-width="1.8" fill="none"/>
<path d="M507.3 1964.3H530.3M518.8 1952.8V1975.8" stroke="#008000" stroke-width="1.8" fill="none"/>
<path d="M498.8 1923.5H521.8M510.3 1912V1935" stroke="#008000" stroke-width="1.8" fill="none"/>
<path d="M482.1 1863.3H505.1M493.6 1851.8V1874.8" stroke="#008000" stroke-width="1.8" fill="none"/>
<path d="M478.6 1791.1H501.6M490.1 1779.6V1802.6" stroke="#008000" stroke-width="1.8" fill="none"/>
<path d="M492.2 1708.1H515.2M503.7 1696.6V1719.6" stroke="#008000" stroke-width="1.8" fill="none"/>
<path d="M534.4 1637.4H557.4M545.9 1625.9V1648.9" stroke="#008000" stroke-width="1.8" fill="none"/>
<path d="M598.6 1585.6H621.6M610.1 1574.1V1597.1" stroke="#008000" stroke-width="1.8" fill="none"/>
<path d="M688.1 1567L715.5 1573.3L739.1 1580.4L759.2 1588L776.3 1596L790.9 1604.5L803.3 1613.1L814.1 1621.9L823.6 1630.8L832.1 1639.5L839.9 1648.3L847 1657L853.4 1665.7L859.2 1674.4L864.5 1683.1L869.3 1692L873.7 1700.9L877.7 1710L881.3 1719.1L884.6 1728.4L887.5 1737.7L890.1 1747L892.3 1756.4L894.2 1765.8L895.7 1775.2L896.8 1784.6L897.7 1793.9L898.2 1803.2L898.4 1812.4L898.3 1821.5L897.9 1830.4L897.3 1839.3L896.4 1848L895.3 1856.6L894 1864.9L892.5 1873.1L890.8 1881.1L889.1 1888.9L887.3 1896.4L885.4 1903.7L883.5 1910.7L881.7 1917.5L879.9 1924L878.2 1930.2L876.5 1936.2L875 1942L873.5 1947.5L872.2 1952.9L871.1 1958L870.1 1963L869.4 1967.7L868.8 1972.4L868.6 1976.8L868.6 1981.2L868.9 1985.5L869.5 1989.7L870.5 1993.8L871.9 1997.8L873.6 2001.9L875.6 2005.9L878 2010L880.6 2014.1L883.4 2018.3L886.4 2022.6L889.5 2027L892.8 2031.5L896.2 2036.2L899.5 2041L902.8 2045.9L905.9 2050.9L908.9 2056L911.5 2061.2L913.9 2066.5L915.8 2071.8L917.3 2077.2L918.5 2082.6L919.3 2088L919.7 2093.4L919.8 2098.8L919.5 2104.2L918.9 2109.5L918 2114.8L916.8 2119.9L915.3 2125.1L913.6 2130.1L911.6 2135.1L909.5 2140.1L907.1 2145L904.7 2149.8L902 2154.5L899.3 2159.2L896.4 2163.8L893.4 2168.4L890.4 2172.8L887.1 2177.2L883.8 2181.6L880.4 2185.8L876.9 2190L873.3 2194.1L869.6 2198.1L865.8 2202L861.9 2205.8L857.9 2209.6L853.9 2213.3L849.8 2216.8L845.5 2220.3L841.3 2223.8L836.9 2227.1L832.5 2230.3L828 2233.5L823.4 2236.5L818.8 2239.5L814.1 2242.4L809.4 2245.1L804.6 2247.9L799.8 2250.5L794.9 2253.1L789.9 2255.6L784.9 2258L779.9 2260.4L774.8 2262.8L769.7 2265.1L764.6 2267.3L759.4 2269.5L754.2 2271.6L749 2273.6L743.6 2275.4L738.3 2277L732.9 2278.5L727.4 2279.7L721.9 2280.8L716.3 2281.6L710.7 2282.3L705.1 2282.8L699.5 2283.1L693.8 2283.3L688.2 2283.4L682.5 2283.3L676.8 2283.1L671.2 2282.8L665.5 2282.4L659.9 2281.7L654.3 2281L648.8 2280.1L643.2 2279L637.7 2277.8L632.3 2276.4L626.8 2274.9L621.5 2273.3L616.1 2271.5L610.8 2269.6L605.5 2267.7L600.3 2265.6L595.1 2263.5L589.9 2261.3L584.8 2259L579.7 2256.6L574.6 2254.2L569.7 2251.6L564.7 2249L559.8 2246.3L555 2243.4L550.2 2240.5L545.5 2237.5L540.9 2234.4L536.3 2231.1L531.9 2227.8L527.5 2224.4L523.1 2220.9L518.9 2217.2L514.8 2213.5L510.7 2209.7L506.7 2205.7L502.9 2201.7L499.1 2197.6L495.3 2193.5L491.7 2189.3L488.1 2185L484.6 2180.6L481.2 2176.2L477.9 2171.7L474.8 2167.1L471.8 2162.5L468.9 2157.7L466.1 2152.9L463.6 2148L461.2 2143L459 2138L456.9 2132.8L455 2127.6L453.3 2122.4L451.7 2117.1L450.3 2111.8L449.1 2106.4L448.1 2101L447.3 2095.6L446.7 2090.2L446.4 2084.8L446.4 2079.3L446.7 2073.9L447.3 2068.5L448.2 2063.1L449.5 2057.7L451.2 2052.4L453.2 2047.2L455.6 2042L458.3 2036.9L461.4 2032L464.9 2027.2L468.7 2022.6L472.8 2018.1L477 2013.7L481.4 2009.5L485.7 2005.4L490 2001.3L494.1 1997.4L497.9 1993.5L501.3 1989.7L504.4 1986L507 1982.2L509.3 1978.4L511.2 1974.5L512.7 1970.6L513.8 1966.5L514.6 1962.2L514.9 1957.8L514.9 1953.2L514.5 1948.3L513.9 1943.2L512.9 1937.9L511.8 1932.3L510.4 1926.4L508.9 1920.3L507.3 1913.8L505.6 1907.1L503.8 1900L502 1892.8L500.3 1885.2L498.7 1877.5L497.2 1869.5L495.8 1861.3L494.6 1852.9L493.7 1844.4L493 1835.7L492.5 1826.7L492.2 1817.6L492.2 1808.4L492.5 1798.9L493 1789.3L493.7 1779.5L494.8 1769.6L496.2 1759.6L497.9 1749.6L499.9 1739.6L502.4 1729.7L505.2 1719.8L508.5 1710.2L512.2 1700.6L516.4 1691.3L521.2 1682L526.5 1672.9L532.5 1663.7L539.2 1654.6L546.7 1645.5L554.9 1636.2L564.1 1626.9L574.5 1617.6L586.6 1608.4L600.9 1599.3L617.8 1590.6L637.6 1582.2L661 1574.3L688.1 1567" stroke="#008000" stroke-width="6.2" fill="none" stroke-linejoin="round"/>
<g font-size="56" letter-spacing="0.3"><text x="688.1" y="1447.9" text-anchor="middle">0</text><text x="785.9" y="1460" text-anchor="middle" font-size="49">10</text><text x="882.6" y="1482" text-anchor="middle">20</text><text x="972.4" y="1523.6" text-anchor="start">30</text><text x="1053.6" y="1580" text-anchor="start">40</text><text x="1123.7" y="1649.7" text-anchor="start">50</text><text x="1180.6" y="1730.3" text-anchor="start">60</text><text x="1222.4" y="1851.3" text-anchor="start">70</text><text x="1248.1" y="1946.4" text-anchor="start">80</text><text x="1256.7" y="2044.5" text-anchor="start">90</text><text x="1248.1" y="2142.6" text-anchor="start">100</text><text x="1222.4" y="2237.7" text-anchor="start">110</text><text x="1180.6" y="2358.7" text-anchor="start">120</text><text x="1123.7" y="2439.3" text-anchor="start">130</text><text x="1053.6" y="2509" text-anchor="start">140</text><text x="972.4" y="2565.4" text-anchor="start">150</text><text x="882.6" y="2607" text-anchor="middle">160</text><text x="786.9" y="2632.5" text-anchor="middle">170</text><text x="688.2" y="2641.1" text-anchor="middle">180</text><text x="589.4" y="2632.5" text-anchor="middle">190</text><text x="493.7" y="2607" text-anchor="middle">200</text><text x="403.9" y="2565.4" text-anchor="end">210</text><text x="322.7" y="2509" text-anchor="end">220</text><text x="252.6" y="2439.3" text-anchor="end">230</text><text x="195.7" y="2358.7" text-anchor="end">240</text><text x="153.9" y="2237.7" text-anchor="end">250</text><text x="128.2" y="2142.6" text-anchor="end">260</text><text x="119.6" y="2044.5" text-anchor="end">270</text><text x="128.2" y="1946.4" text-anchor="end">280</text><text x="153.9" y="1851.3" text-anchor="end">290</text><text x="195.7" y="1730.3" text-anchor="end">300</text><text x="252.6" y="1649.7" text-anchor="end">310</text><text x="322.7" y="1580" text-anchor="end">320</text><text x="403.9" y="1523.6" text-anchor="end">330</text><text x="493.7" y="1482" text-anchor="middle">340</text><text x="589.4" y="1456.5" text-anchor="middle">350</text></g>
</g>
<g id="legend-b">
<rect x="1369" y="1603" width="329.4" height="845" fill="#000"/>
<rect x="1355.5" y="1588.4" width="339.4" height="845.2" fill="#fff" stroke="#000" stroke-width="1.2"/>
<g font-size="56" letter-spacing="0.9">
<polygon points="1403.9,1612.2 1425.3,1612.2 1425.3,1633.6 1403.9,1633.6" fill="#fff" stroke="#000000" stroke-width="1.5"/><polygon points="1414.6,1612.2 1425.3,1612.2 1425.3,1633.6 1414.6,1633.6" fill="#000000"/>
<path d="M1356.1 1622.9H1474.2" stroke="#000000" stroke-width="6.3" fill="none"/>
<text x="1486.2" y="1640.2">Layer 1</text>
<circle cx="1414.6" cy="1693.7" r="12.1" fill="#fff" stroke="#ff0000" stroke-width="1.5"/><path d="M1414.6 1681.6A12.1 12.1 0 0 1 1414.6 1705.8Z" fill="#ff0000"/>
<path d="M1356.1 1693.7H1474.2" stroke="#ff0000" stroke-width="6.3" fill="none"/>
<text x="1486.2" y="1711">Layer 2</text>
<polygon points="1414.6,1748 1429,1773.1 1400.2,1773.1" fill="#fff" stroke="#00ff00" stroke-width="1.5"/><polygon points="1414.6,1748 1429,1773.1 1414.6,1773.1 1414.6,1748" fill="#00ff00"/>
<path d="M1356.1 1764.5H1474.2" stroke="#00ff00" stroke-width="6.3" fill="none"/>
<text x="1486.2" y="1781.8">Layer 3</text>
<polygon points="1414.6,1852.2 1400.2,1826.8 1429,1826.8" fill="#fff" stroke="#0000ff" stroke-width="1.5"/><polygon points="1414.6,1852.2 1414.6,1852.2 1414.6,1826.8 1429,1826.8" fill="#0000ff"/>
<path d="M1356.1 1835.3H1474.2" stroke="#0000ff" stroke-width="6.3" fill="none"/>
<text x="1486.2" y="1852.6">Layer 4</text>
<polygon points="1414.6,1890.8 1429,1906.1 1414.6,1921.5 1400.2,1906.1" fill="#fff" stroke="#00ffff" stroke-width="1.5"/><polygon points="1414.6,1890.8 1429,1906.1 1414.6,1921.5 1414.6,1921.5 1414.6,1890.8" fill="#00ffff"/>
<path d="M1356.1 1906.1H1474.2" stroke="#00ffff" stroke-width="6.3" fill="none"/>
<text x="1486.2" y="1923.4">Layer 5</text>
<polygon points="1400.4,1977 1423,1962.9 1423,1991" fill="#fff" stroke="#ff00ff" stroke-width="1.5"/><polygon points="1414.6,1968.1 1423,1962.9 1423,1991 1414.6,1985.8" fill="#ff00ff"/>
<path d="M1356.1 1977H1474.2" stroke="#ff00ff" stroke-width="6.3" fill="none"/>
<text x="1486.2" y="1994.2">Layer 6</text>
<polygon points="1429.3,2047.8 1406.8,2061.8 1406.8,2033.7" fill="#fff" stroke="#ffff00" stroke-width="1.5"/><polygon points="1429.3,2047.8 1414.6,2057 1414.6,2038.5" fill="#ffff00"/>
<path d="M1356.1 2047.8H1474.2" stroke="#ffff00" stroke-width="6.3" fill="none"/>
<text x="1486.2" y="2065.1">Layer 7</text>
<polygon points="1414.6,2105.2 1426.2,2111.9 1426.2,2125.3 1414.6,2132 1403,2125.3 1403,2111.9" fill="#fff" stroke="#808000" stroke-width="1.5"/><polygon points="1414.6,2105.2 1426.2,2111.9 1426.2,2125.3 1414.6,2132 1414.6,2132 1414.6,2105.2" fill="#808000"/>
<path d="M1356.1 2118.6H1474.2" stroke="#808000" stroke-width="6.3" fill="none"/>
<text x="1486.2" y="2135.9">Layer 8</text>
<polygon points="1414.6,2175.4 1417.8,2185 1427.9,2185.1 1419.8,2191.1 1422.8,2200.7 1414.6,2194.8 1406.4,2200.7 1409.4,2191.1 1401.3,2185.1 1411.4,2185" fill="#fff" stroke="#000080" stroke-width="1.5"/><polygon points="1414.6,2175.4 1417.8,2185 1427.9,2185.1 1419.8,2191.1 1422.8,2200.7 1414.6,2194.8 1414.6,2194.8 1414.6,2175.4" fill="#000080"/>
<path d="M1356.1 2189.4H1474.2" stroke="#000080" stroke-width="6.3" fill="none"/>
<text x="1486.2" y="2206.7">Layer 9</text>
<polygon points="1414.6,2246.3 1427.8,2255.9 1422.8,2271.4 1406.4,2271.4 1401.4,2255.9" fill="#fff" stroke="#800080" stroke-width="1.5"/><polygon points="1414.6,2246.3 1427.8,2255.9 1422.8,2271.4 1414.6,2271.4 1414.6,2246.3" fill="#800080"/>
<path d="M1356.1 2260.2H1474.2" stroke="#800080" stroke-width="6.3" fill="none"/>
<text x="1486.2" y="2277.5">Layer 10</text>
<circle cx="1414.6" cy="2331" r="12.0" fill="#800000"/><circle cx="1411.2" cy="2326.8" r="6.2" fill="#c08080"/><circle cx="1411.2" cy="2326.8" r="4.4" fill="#e6cccc"/><circle cx="1411.2" cy="2326.8" r="2.6" fill="#fff"/>
<path d="M1356.1 2331H1474.2" stroke="#800000" stroke-width="6.3" fill="none"/>
<text x="1486.2" y="2348.3">Layer 11</text>
<path d="M1403.1 2401.8H1426.1M1414.6 2390.3V2413.3" stroke="#008000" stroke-width="1.8" fill="none"/>
<path d="M1356.1 2401.8H1474.2" stroke="#008000" stroke-width="6.3" fill="none"/>
<text x="1486.2" y="2419.1">Layer 12</text>
</g>
</g>
<g id="captions" font-size="84">
<text x="868" y="1369" text-anchor="middle">(<tspan font-weight="bold">a</tspan>)</text>
<text y="2752"><tspan x="815.7">(</tspan><tspan x="843.8" font-weight="bold" font-size="88" y="2752.6">b</tspan><tspan x="893.6" y="2752">)</tspan></text>
</g>
</svg></body></html>
